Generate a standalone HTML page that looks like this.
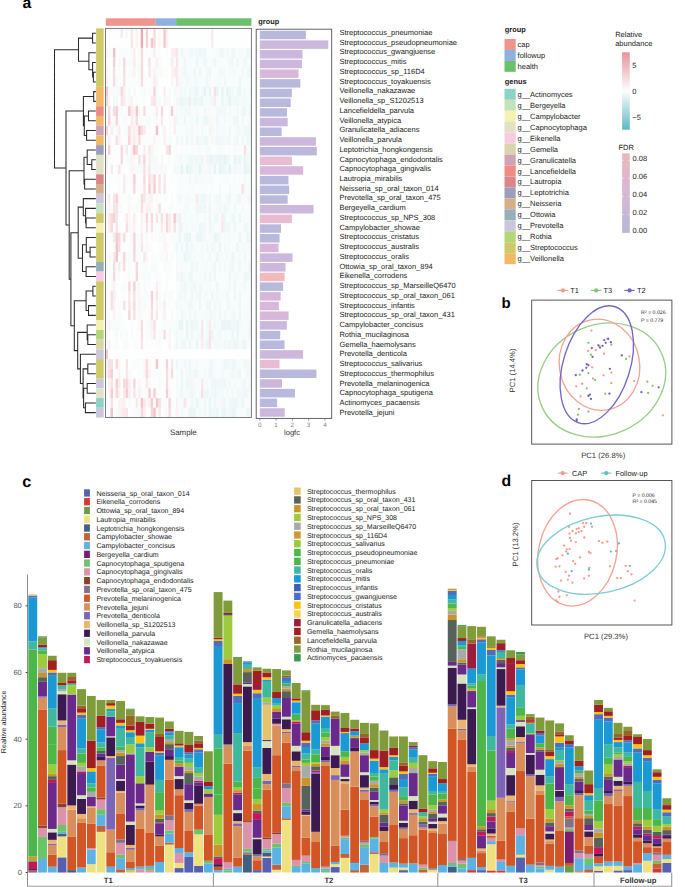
<!DOCTYPE html>
<html><head><meta charset="utf-8"><style>
html,body{margin:0;padding:0;background:#fff;}
svg{display:block;font-family:"Liberation Sans", sans-serif;text-rendering:geometricPrecision;-webkit-font-smoothing:antialiased;}
</style></head><body>
<svg width="685" height="887" viewBox="0 0 685 887" shape-rendering="auto">
<rect x="0" y="0" width="685" height="887" fill="#fff"/>
<text x="22.60" y="8.40" font-size="15.8" text-anchor="start" fill="#000" font-weight="bold" >a</text>
<text x="501.60" y="307.80" font-size="15.0" text-anchor="start" fill="#000" font-weight="bold" >b</text>
<text x="22.30" y="486.80" font-size="16.2" text-anchor="start" fill="#000" font-weight="bold" >c</text>
<text x="501.40" y="486.10" font-size="15.8" text-anchor="start" fill="#000" font-weight="bold" >d</text>
<rect x="96.10" y="28.40" width="7.60" height="58.37" fill="#cfca68" />
<rect x="96.10" y="86.77" width="7.60" height="19.46" fill="#f1b866" />
<rect x="96.10" y="106.22" width="7.60" height="9.73" fill="#f08a82" />
<rect x="96.10" y="115.95" width="7.60" height="9.73" fill="#f1b866" />
<rect x="96.10" y="125.68" width="7.60" height="9.73" fill="#cfa2b9" />
<rect x="96.10" y="135.40" width="7.60" height="9.73" fill="#f1b866" />
<rect x="96.10" y="145.13" width="7.60" height="9.73" fill="#9d9dbd" />
<rect x="96.10" y="154.86" width="7.60" height="19.46" fill="#e2e1c6" />
<rect x="96.10" y="174.31" width="7.60" height="9.73" fill="#dc868a" />
<rect x="96.10" y="184.04" width="7.60" height="9.73" fill="#d5af87" />
<rect x="96.10" y="193.77" width="7.60" height="9.73" fill="#cac6db" />
<rect x="96.10" y="203.50" width="7.60" height="9.73" fill="#c3e3bf" />
<rect x="96.10" y="213.22" width="7.60" height="9.73" fill="#cfca68" />
<rect x="96.10" y="222.95" width="7.60" height="9.73" fill="#f4f1b1" />
<rect x="96.10" y="232.68" width="7.60" height="29.18" fill="#cfca68" />
<rect x="96.10" y="261.86" width="7.60" height="9.73" fill="#94b0bc" />
<rect x="96.10" y="271.59" width="7.60" height="9.73" fill="#f8cbe0" />
<rect x="96.10" y="281.31" width="7.60" height="38.91" fill="#cfca68" />
<rect x="96.10" y="320.23" width="7.60" height="9.73" fill="#f4f1b1" />
<rect x="96.10" y="329.95" width="7.60" height="9.73" fill="#b2d776" />
<rect x="96.10" y="339.68" width="7.60" height="9.73" fill="#d9d5aa" />
<rect x="96.10" y="349.41" width="7.60" height="9.73" fill="#cac6db" />
<rect x="96.10" y="359.13" width="7.60" height="19.46" fill="#cfca68" />
<rect x="96.10" y="378.59" width="7.60" height="9.73" fill="#cac6db" />
<rect x="96.10" y="388.32" width="7.60" height="9.73" fill="#e2e1c6" />
<rect x="96.10" y="398.05" width="7.60" height="9.73" fill="#8cd2c6" />
<rect x="96.10" y="407.77" width="7.60" height="9.73" fill="#cac6db" />
<rect x="105.80" y="18.30" width="50.00" height="7.50" fill="#f0958c" />
<rect x="155.80" y="18.30" width="20.30" height="7.50" fill="#8eb1e1" />
<rect x="176.10" y="18.30" width="75.30" height="7.50" fill="#6cc06b" />
<rect x="105.50" y="28.40" width="2.58" height="9.79" fill="#fefefe"/>
<rect x="108.02" y="28.40" width="2.58" height="9.79" fill="#fefefe"/>
<rect x="110.53" y="28.40" width="2.58" height="9.79" fill="#fefefe"/>
<rect x="113.05" y="28.40" width="2.58" height="9.79" fill="#fefefe"/>
<rect x="115.56" y="28.40" width="2.58" height="9.79" fill="#fefefe"/>
<rect x="118.08" y="28.40" width="2.58" height="9.79" fill="#fefefe"/>
<rect x="120.59" y="28.40" width="2.58" height="9.79" fill="#faeaec"/>
<rect x="123.11" y="28.40" width="2.58" height="9.79" fill="#fefefe"/>
<rect x="125.62" y="28.40" width="2.58" height="9.79" fill="#fcf6f6"/>
<rect x="128.14" y="28.40" width="2.58" height="9.79" fill="#fefefe"/>
<rect x="130.66" y="28.40" width="2.58" height="9.79" fill="#f9e7e9"/>
<rect x="133.17" y="28.40" width="2.58" height="9.79" fill="#fefefe"/>
<rect x="135.69" y="28.40" width="2.58" height="9.79" fill="#fcf3f4"/>
<rect x="138.20" y="28.40" width="2.58" height="9.79" fill="#fefefe"/>
<rect x="140.72" y="28.40" width="2.58" height="9.79" fill="#eca7af"/>
<rect x="143.23" y="28.40" width="2.58" height="9.79" fill="#fefefe"/>
<rect x="145.75" y="28.40" width="2.58" height="9.79" fill="#f5d0d4"/>
<rect x="148.26" y="28.40" width="2.58" height="9.79" fill="#fefefe"/>
<rect x="150.78" y="28.40" width="2.58" height="9.79" fill="#fefefe"/>
<rect x="153.29" y="28.40" width="2.58" height="9.79" fill="#f7dbde"/>
<rect x="155.81" y="28.40" width="2.58" height="9.79" fill="#fefefe"/>
<rect x="158.33" y="28.40" width="2.58" height="9.79" fill="#fcf6f7"/>
<rect x="160.84" y="28.40" width="2.58" height="9.79" fill="#fefefe"/>
<rect x="163.36" y="28.40" width="2.58" height="9.79" fill="#f4ccd1"/>
<rect x="165.87" y="28.40" width="2.58" height="9.79" fill="#fcf2f3"/>
<rect x="168.39" y="28.40" width="2.58" height="9.79" fill="#fefefe"/>
<rect x="170.90" y="28.40" width="2.58" height="9.79" fill="#fefefe"/>
<rect x="173.42" y="28.40" width="2.58" height="9.79" fill="#fefefe"/>
<rect x="175.93" y="28.40" width="2.58" height="9.79" fill="#fefefe"/>
<rect x="178.45" y="28.40" width="2.58" height="9.79" fill="#fdfefe"/>
<rect x="180.97" y="28.40" width="2.58" height="9.79" fill="#fdfefe"/>
<rect x="183.48" y="28.40" width="2.58" height="9.79" fill="#fdfefe"/>
<rect x="186.00" y="28.40" width="2.58" height="9.79" fill="#fefefe"/>
<rect x="188.51" y="28.40" width="2.58" height="9.79" fill="#fefefe"/>
<rect x="191.03" y="28.40" width="2.58" height="9.79" fill="#fdfefe"/>
<rect x="193.54" y="28.40" width="2.58" height="9.79" fill="#fdfefe"/>
<rect x="196.06" y="28.40" width="2.58" height="9.79" fill="#fdfefe"/>
<rect x="198.57" y="28.40" width="2.58" height="9.79" fill="#fdfefe"/>
<rect x="201.09" y="28.40" width="2.58" height="9.79" fill="#fdfefe"/>
<rect x="203.61" y="28.40" width="2.58" height="9.79" fill="#fdfefe"/>
<rect x="206.12" y="28.40" width="2.58" height="9.79" fill="#fdfefe"/>
<rect x="208.64" y="28.40" width="2.58" height="9.79" fill="#fefefe"/>
<rect x="211.15" y="28.40" width="2.58" height="9.79" fill="#fae9eb"/>
<rect x="213.67" y="28.40" width="2.58" height="9.79" fill="#fefefe"/>
<rect x="216.18" y="28.40" width="2.58" height="9.79" fill="#fdfefe"/>
<rect x="218.70" y="28.40" width="2.58" height="9.79" fill="#fdfefe"/>
<rect x="221.21" y="28.40" width="2.58" height="9.79" fill="#fefefe"/>
<rect x="223.73" y="28.40" width="2.58" height="9.79" fill="#fefefe"/>
<rect x="226.24" y="28.40" width="2.58" height="9.79" fill="#fdfefe"/>
<rect x="228.76" y="28.40" width="2.58" height="9.79" fill="#fdfefe"/>
<rect x="231.28" y="28.40" width="2.58" height="9.79" fill="#fefefe"/>
<rect x="233.79" y="28.40" width="2.58" height="9.79" fill="#fdfefe"/>
<rect x="236.31" y="28.40" width="2.58" height="9.79" fill="#fdfefe"/>
<rect x="238.82" y="28.40" width="2.58" height="9.79" fill="#fefefe"/>
<rect x="241.34" y="28.40" width="2.58" height="9.79" fill="#fefefe"/>
<rect x="243.85" y="28.40" width="2.58" height="9.79" fill="#fdfefe"/>
<rect x="246.37" y="28.40" width="2.58" height="9.79" fill="#fdfefe"/>
<rect x="248.88" y="28.40" width="2.58" height="9.79" fill="#fefefe"/>
<rect x="105.50" y="38.13" width="2.58" height="9.79" fill="#fefefe"/>
<rect x="108.02" y="38.13" width="2.58" height="9.79" fill="#fefefe"/>
<rect x="110.53" y="38.13" width="2.58" height="9.79" fill="#fefefe"/>
<rect x="113.05" y="38.13" width="2.58" height="9.79" fill="#fefefe"/>
<rect x="115.56" y="38.13" width="2.58" height="9.79" fill="#fefefe"/>
<rect x="118.08" y="38.13" width="2.58" height="9.79" fill="#fefefe"/>
<rect x="120.59" y="38.13" width="2.58" height="9.79" fill="#fefefe"/>
<rect x="123.11" y="38.13" width="2.58" height="9.79" fill="#fefefe"/>
<rect x="125.62" y="38.13" width="2.58" height="9.79" fill="#fefefe"/>
<rect x="128.14" y="38.13" width="2.58" height="9.79" fill="#fefefe"/>
<rect x="130.66" y="38.13" width="2.58" height="9.79" fill="#f9e6e8"/>
<rect x="133.17" y="38.13" width="2.58" height="9.79" fill="#fefefe"/>
<rect x="135.69" y="38.13" width="2.58" height="9.79" fill="#fcf3f3"/>
<rect x="138.20" y="38.13" width="2.58" height="9.79" fill="#fefefe"/>
<rect x="140.72" y="38.13" width="2.58" height="9.79" fill="#eca7af"/>
<rect x="143.23" y="38.13" width="2.58" height="9.79" fill="#fefefe"/>
<rect x="145.75" y="38.13" width="2.58" height="9.79" fill="#f5d1d5"/>
<rect x="148.26" y="38.13" width="2.58" height="9.79" fill="#fefefe"/>
<rect x="150.78" y="38.13" width="2.58" height="9.79" fill="#f2c5ca"/>
<rect x="153.29" y="38.13" width="2.58" height="9.79" fill="#f6d9dc"/>
<rect x="155.81" y="38.13" width="2.58" height="9.79" fill="#fefefe"/>
<rect x="158.33" y="38.13" width="2.58" height="9.79" fill="#fcf4f4"/>
<rect x="160.84" y="38.13" width="2.58" height="9.79" fill="#fefefe"/>
<rect x="163.36" y="38.13" width="2.58" height="9.79" fill="#f3cace"/>
<rect x="165.87" y="38.13" width="2.58" height="9.79" fill="#fbf1f2"/>
<rect x="168.39" y="38.13" width="2.58" height="9.79" fill="#fefefe"/>
<rect x="170.90" y="38.13" width="2.58" height="9.79" fill="#fefefe"/>
<rect x="173.42" y="38.13" width="2.58" height="9.79" fill="#fefefe"/>
<rect x="175.93" y="38.13" width="2.58" height="9.79" fill="#fdfefe"/>
<rect x="178.45" y="38.13" width="2.58" height="9.79" fill="#fefefe"/>
<rect x="180.97" y="38.13" width="2.58" height="9.79" fill="#fdfefe"/>
<rect x="183.48" y="38.13" width="2.58" height="9.79" fill="#fdfefe"/>
<rect x="186.00" y="38.13" width="2.58" height="9.79" fill="#fdfefe"/>
<rect x="188.51" y="38.13" width="2.58" height="9.79" fill="#fdfefe"/>
<rect x="191.03" y="38.13" width="2.58" height="9.79" fill="#fdfefe"/>
<rect x="193.54" y="38.13" width="2.58" height="9.79" fill="#fdfefe"/>
<rect x="196.06" y="38.13" width="2.58" height="9.79" fill="#fdfefe"/>
<rect x="198.57" y="38.13" width="2.58" height="9.79" fill="#fdfefe"/>
<rect x="201.09" y="38.13" width="2.58" height="9.79" fill="#fdfefe"/>
<rect x="203.61" y="38.13" width="2.58" height="9.79" fill="#fdfefe"/>
<rect x="206.12" y="38.13" width="2.58" height="9.79" fill="#fdfefe"/>
<rect x="208.64" y="38.13" width="2.58" height="9.79" fill="#fdfefe"/>
<rect x="211.15" y="38.13" width="2.58" height="9.79" fill="#faecee"/>
<rect x="213.67" y="38.13" width="2.58" height="9.79" fill="#fdfefe"/>
<rect x="216.18" y="38.13" width="2.58" height="9.79" fill="#fdfefe"/>
<rect x="218.70" y="38.13" width="2.58" height="9.79" fill="#fdfefe"/>
<rect x="221.21" y="38.13" width="2.58" height="9.79" fill="#fefefe"/>
<rect x="223.73" y="38.13" width="2.58" height="9.79" fill="#fdfefe"/>
<rect x="226.24" y="38.13" width="2.58" height="9.79" fill="#fdfefe"/>
<rect x="228.76" y="38.13" width="2.58" height="9.79" fill="#fdfefe"/>
<rect x="231.28" y="38.13" width="2.58" height="9.79" fill="#fdfefe"/>
<rect x="233.79" y="38.13" width="2.58" height="9.79" fill="#fdfefe"/>
<rect x="236.31" y="38.13" width="2.58" height="9.79" fill="#fefefe"/>
<rect x="238.82" y="38.13" width="2.58" height="9.79" fill="#fdfefe"/>
<rect x="241.34" y="38.13" width="2.58" height="9.79" fill="#fefefe"/>
<rect x="243.85" y="38.13" width="2.58" height="9.79" fill="#fefefe"/>
<rect x="246.37" y="38.13" width="2.58" height="9.79" fill="#fdfefe"/>
<rect x="248.88" y="38.13" width="2.58" height="9.79" fill="#fdfefe"/>
<rect x="105.50" y="47.86" width="2.58" height="9.79" fill="#fcf6f6"/>
<rect x="108.02" y="47.86" width="2.58" height="9.79" fill="#f7fbfb"/>
<rect x="110.53" y="47.86" width="2.58" height="9.79" fill="#f9fcfc"/>
<rect x="113.05" y="47.86" width="2.58" height="9.79" fill="#f2c1c6"/>
<rect x="115.56" y="47.86" width="2.58" height="9.79" fill="#f9fcfc"/>
<rect x="118.08" y="47.86" width="2.58" height="9.79" fill="#fbfdfd"/>
<rect x="120.59" y="47.86" width="2.58" height="9.79" fill="#f9fcfc"/>
<rect x="123.11" y="47.86" width="2.58" height="9.79" fill="#f9fcfc"/>
<rect x="125.62" y="47.86" width="2.58" height="9.79" fill="#f9fcfc"/>
<rect x="128.14" y="47.86" width="2.58" height="9.79" fill="#fdfdfd"/>
<rect x="130.66" y="47.86" width="2.58" height="9.79" fill="#f7fbfb"/>
<rect x="133.17" y="47.86" width="2.58" height="9.79" fill="#fbeef0"/>
<rect x="135.69" y="47.86" width="2.58" height="9.79" fill="#fbfdfd"/>
<rect x="138.20" y="47.86" width="2.58" height="9.79" fill="#f9fcfc"/>
<rect x="140.72" y="47.86" width="2.58" height="9.79" fill="#f7dbde"/>
<rect x="143.23" y="47.86" width="2.58" height="9.79" fill="#fbfdfd"/>
<rect x="145.75" y="47.86" width="2.58" height="9.79" fill="#f9fcfc"/>
<rect x="148.26" y="47.86" width="2.58" height="9.79" fill="#fdfdfd"/>
<rect x="150.78" y="47.86" width="2.58" height="9.79" fill="#f9fcfc"/>
<rect x="153.29" y="47.86" width="2.58" height="9.79" fill="#fbeff0"/>
<rect x="155.81" y="47.86" width="2.58" height="9.79" fill="#fdfdfd"/>
<rect x="158.33" y="47.86" width="2.58" height="9.79" fill="#fbfdfd"/>
<rect x="160.84" y="47.86" width="2.58" height="9.79" fill="#fefefe"/>
<rect x="163.36" y="47.86" width="2.58" height="9.79" fill="#fdfdfd"/>
<rect x="165.87" y="47.86" width="2.58" height="9.79" fill="#f9fcfc"/>
<rect x="168.39" y="47.86" width="2.58" height="9.79" fill="#fefefe"/>
<rect x="170.90" y="47.86" width="2.58" height="9.79" fill="#fbf0f1"/>
<rect x="173.42" y="47.86" width="2.58" height="9.79" fill="#faeced"/>
<rect x="175.93" y="47.86" width="2.58" height="9.79" fill="#f9e6e8"/>
<rect x="178.45" y="47.86" width="2.58" height="9.79" fill="#f7fbfb"/>
<rect x="180.97" y="47.86" width="2.58" height="9.79" fill="#edf7f7"/>
<rect x="183.48" y="47.86" width="2.58" height="9.79" fill="#f6fbfb"/>
<rect x="186.00" y="47.86" width="2.58" height="9.79" fill="#f6fbfb"/>
<rect x="188.51" y="47.86" width="2.58" height="9.79" fill="#f4fafa"/>
<rect x="191.03" y="47.86" width="2.58" height="9.79" fill="#f1f8f9"/>
<rect x="193.54" y="47.86" width="2.58" height="9.79" fill="#f4fafa"/>
<rect x="196.06" y="47.86" width="2.58" height="9.79" fill="#f1f8f9"/>
<rect x="198.57" y="47.86" width="2.58" height="9.79" fill="#edf7f7"/>
<rect x="201.09" y="47.86" width="2.58" height="9.79" fill="#f1f8f9"/>
<rect x="203.61" y="47.86" width="2.58" height="9.79" fill="#edf7f7"/>
<rect x="206.12" y="47.86" width="2.58" height="9.79" fill="#f9fcfc"/>
<rect x="208.64" y="47.86" width="2.58" height="9.79" fill="#f9fcfc"/>
<rect x="211.15" y="47.86" width="2.58" height="9.79" fill="#f7fbfb"/>
<rect x="213.67" y="47.86" width="2.58" height="9.79" fill="#f6fbfb"/>
<rect x="216.18" y="47.86" width="2.58" height="9.79" fill="#f6fbfb"/>
<rect x="218.70" y="47.86" width="2.58" height="9.79" fill="#f1f8f9"/>
<rect x="221.21" y="47.86" width="2.58" height="9.79" fill="#edf7f7"/>
<rect x="223.73" y="47.86" width="2.58" height="9.79" fill="#f6fbfb"/>
<rect x="226.24" y="47.86" width="2.58" height="9.79" fill="#f1f8f9"/>
<rect x="228.76" y="47.86" width="2.58" height="9.79" fill="#f6fbfb"/>
<rect x="231.28" y="47.86" width="2.58" height="9.79" fill="#edf7f7"/>
<rect x="233.79" y="47.86" width="2.58" height="9.79" fill="#f1f8f9"/>
<rect x="236.31" y="47.86" width="2.58" height="9.79" fill="#f9fcfc"/>
<rect x="238.82" y="47.86" width="2.58" height="9.79" fill="#f4fafa"/>
<rect x="241.34" y="47.86" width="2.58" height="9.79" fill="#f6fbfb"/>
<rect x="243.85" y="47.86" width="2.58" height="9.79" fill="#f6fbfb"/>
<rect x="246.37" y="47.86" width="2.58" height="9.79" fill="#edf7f7"/>
<rect x="248.88" y="47.86" width="2.58" height="9.79" fill="#edf7f7"/>
<rect x="105.50" y="57.58" width="2.58" height="9.79" fill="#fdfdfd"/>
<rect x="108.02" y="57.58" width="2.58" height="9.79" fill="#fefefe"/>
<rect x="110.53" y="57.58" width="2.58" height="9.79" fill="#fefefe"/>
<rect x="113.05" y="57.58" width="2.58" height="9.79" fill="#f5d2d6"/>
<rect x="115.56" y="57.58" width="2.58" height="9.79" fill="#fefefe"/>
<rect x="118.08" y="57.58" width="2.58" height="9.79" fill="#f7fbfb"/>
<rect x="120.59" y="57.58" width="2.58" height="9.79" fill="#fdfdfd"/>
<rect x="123.11" y="57.58" width="2.58" height="9.79" fill="#f6d9dc"/>
<rect x="125.62" y="57.58" width="2.58" height="9.79" fill="#f9fcfc"/>
<rect x="128.14" y="57.58" width="2.58" height="9.79" fill="#f7fbfb"/>
<rect x="130.66" y="57.58" width="2.58" height="9.79" fill="#f7fbfb"/>
<rect x="133.17" y="57.58" width="2.58" height="9.79" fill="#faecee"/>
<rect x="135.69" y="57.58" width="2.58" height="9.79" fill="#f9fcfc"/>
<rect x="138.20" y="57.58" width="2.58" height="9.79" fill="#f9fcfc"/>
<rect x="140.72" y="57.58" width="2.58" height="9.79" fill="#f7dbde"/>
<rect x="143.23" y="57.58" width="2.58" height="9.79" fill="#fdfdfd"/>
<rect x="145.75" y="57.58" width="2.58" height="9.79" fill="#fbfdfd"/>
<rect x="148.26" y="57.58" width="2.58" height="9.79" fill="#f8e2e4"/>
<rect x="150.78" y="57.58" width="2.58" height="9.79" fill="#fbfdfd"/>
<rect x="153.29" y="57.58" width="2.58" height="9.79" fill="#f9fcfc"/>
<rect x="155.81" y="57.58" width="2.58" height="9.79" fill="#fbeff0"/>
<rect x="158.33" y="57.58" width="2.58" height="9.79" fill="#f9fcfc"/>
<rect x="160.84" y="57.58" width="2.58" height="9.79" fill="#fbfdfd"/>
<rect x="163.36" y="57.58" width="2.58" height="9.79" fill="#fdfdfd"/>
<rect x="165.87" y="57.58" width="2.58" height="9.79" fill="#fdfdfd"/>
<rect x="168.39" y="57.58" width="2.58" height="9.79" fill="#f9fcfc"/>
<rect x="170.90" y="57.58" width="2.58" height="9.79" fill="#faedee"/>
<rect x="173.42" y="57.58" width="2.58" height="9.79" fill="#f7fbfb"/>
<rect x="175.93" y="57.58" width="2.58" height="9.79" fill="#f9e4e7"/>
<rect x="178.45" y="57.58" width="2.58" height="9.79" fill="#f9fcfc"/>
<rect x="180.97" y="57.58" width="2.58" height="9.79" fill="#f9fcfc"/>
<rect x="183.48" y="57.58" width="2.58" height="9.79" fill="#edf7f7"/>
<rect x="186.00" y="57.58" width="2.58" height="9.79" fill="#f7fbfb"/>
<rect x="188.51" y="57.58" width="2.58" height="9.79" fill="#f6fbfb"/>
<rect x="191.03" y="57.58" width="2.58" height="9.79" fill="#f9fcfc"/>
<rect x="193.54" y="57.58" width="2.58" height="9.79" fill="#f9fcfc"/>
<rect x="196.06" y="57.58" width="2.58" height="9.79" fill="#edf7f7"/>
<rect x="198.57" y="57.58" width="2.58" height="9.79" fill="#f9fcfc"/>
<rect x="201.09" y="57.58" width="2.58" height="9.79" fill="#f6fbfb"/>
<rect x="203.61" y="57.58" width="2.58" height="9.79" fill="#edf7f7"/>
<rect x="206.12" y="57.58" width="2.58" height="9.79" fill="#f4fafa"/>
<rect x="208.64" y="57.58" width="2.58" height="9.79" fill="#f9fcfc"/>
<rect x="211.15" y="57.58" width="2.58" height="9.79" fill="#f4fafa"/>
<rect x="213.67" y="57.58" width="2.58" height="9.79" fill="#edf7f7"/>
<rect x="216.18" y="57.58" width="2.58" height="9.79" fill="#f4fafa"/>
<rect x="218.70" y="57.58" width="2.58" height="9.79" fill="#f9fcfc"/>
<rect x="221.21" y="57.58" width="2.58" height="9.79" fill="#f9fcfc"/>
<rect x="223.73" y="57.58" width="2.58" height="9.79" fill="#f9fcfc"/>
<rect x="226.24" y="57.58" width="2.58" height="9.79" fill="#f7fbfb"/>
<rect x="228.76" y="57.58" width="2.58" height="9.79" fill="#f1f8f9"/>
<rect x="231.28" y="57.58" width="2.58" height="9.79" fill="#edf7f7"/>
<rect x="233.79" y="57.58" width="2.58" height="9.79" fill="#f9fcfc"/>
<rect x="236.31" y="57.58" width="2.58" height="9.79" fill="#edf7f7"/>
<rect x="238.82" y="57.58" width="2.58" height="9.79" fill="#f7fbfb"/>
<rect x="241.34" y="57.58" width="2.58" height="9.79" fill="#f6fbfb"/>
<rect x="243.85" y="57.58" width="2.58" height="9.79" fill="#edf7f7"/>
<rect x="246.37" y="57.58" width="2.58" height="9.79" fill="#f4fafa"/>
<rect x="248.88" y="57.58" width="2.58" height="9.79" fill="#f7fbfb"/>
<rect x="105.50" y="67.31" width="2.58" height="9.79" fill="#fdf7f7"/>
<rect x="108.02" y="67.31" width="2.58" height="9.79" fill="#fdfdfd"/>
<rect x="110.53" y="67.31" width="2.58" height="9.79" fill="#fefefe"/>
<rect x="113.05" y="67.31" width="2.58" height="9.79" fill="#f8dfe2"/>
<rect x="115.56" y="67.31" width="2.58" height="9.79" fill="#fefefe"/>
<rect x="118.08" y="67.31" width="2.58" height="9.79" fill="#f9fcfc"/>
<rect x="120.59" y="67.31" width="2.58" height="9.79" fill="#fefefe"/>
<rect x="123.11" y="67.31" width="2.58" height="9.79" fill="#f7dee0"/>
<rect x="125.62" y="67.31" width="2.58" height="9.79" fill="#fefefe"/>
<rect x="128.14" y="67.31" width="2.58" height="9.79" fill="#f9fcfc"/>
<rect x="130.66" y="67.31" width="2.58" height="9.79" fill="#f7fbfb"/>
<rect x="133.17" y="67.31" width="2.58" height="9.79" fill="#fbf1f2"/>
<rect x="135.69" y="67.31" width="2.58" height="9.79" fill="#fbfdfd"/>
<rect x="138.20" y="67.31" width="2.58" height="9.79" fill="#f7fbfb"/>
<rect x="140.72" y="67.31" width="2.58" height="9.79" fill="#f7dbde"/>
<rect x="143.23" y="67.31" width="2.58" height="9.79" fill="#fbfdfd"/>
<rect x="145.75" y="67.31" width="2.58" height="9.79" fill="#fefefe"/>
<rect x="148.26" y="67.31" width="2.58" height="9.79" fill="#fae9eb"/>
<rect x="150.78" y="67.31" width="2.58" height="9.79" fill="#f7fbfb"/>
<rect x="153.29" y="67.31" width="2.58" height="9.79" fill="#fbf1f2"/>
<rect x="155.81" y="67.31" width="2.58" height="9.79" fill="#f7fbfb"/>
<rect x="158.33" y="67.31" width="2.58" height="9.79" fill="#f7fbfb"/>
<rect x="160.84" y="67.31" width="2.58" height="9.79" fill="#f7fbfb"/>
<rect x="163.36" y="67.31" width="2.58" height="9.79" fill="#fdfdfd"/>
<rect x="165.87" y="67.31" width="2.58" height="9.79" fill="#fbfdfd"/>
<rect x="168.39" y="67.31" width="2.58" height="9.79" fill="#fefefe"/>
<rect x="170.90" y="67.31" width="2.58" height="9.79" fill="#fcf3f4"/>
<rect x="173.42" y="67.31" width="2.58" height="9.79" fill="#faebed"/>
<rect x="175.93" y="67.31" width="2.58" height="9.79" fill="#faeaec"/>
<rect x="178.45" y="67.31" width="2.58" height="9.79" fill="#f6fbfb"/>
<rect x="180.97" y="67.31" width="2.58" height="9.79" fill="#f4fafa"/>
<rect x="183.48" y="67.31" width="2.58" height="9.79" fill="#edf7f7"/>
<rect x="186.00" y="67.31" width="2.58" height="9.79" fill="#f4fafa"/>
<rect x="188.51" y="67.31" width="2.58" height="9.79" fill="#f7fbfb"/>
<rect x="191.03" y="67.31" width="2.58" height="9.79" fill="#f7fbfb"/>
<rect x="193.54" y="67.31" width="2.58" height="9.79" fill="#edf7f7"/>
<rect x="196.06" y="67.31" width="2.58" height="9.79" fill="#f9fcfc"/>
<rect x="198.57" y="67.31" width="2.58" height="9.79" fill="#edf7f7"/>
<rect x="201.09" y="67.31" width="2.58" height="9.79" fill="#f6fbfb"/>
<rect x="203.61" y="67.31" width="2.58" height="9.79" fill="#f9fcfc"/>
<rect x="206.12" y="67.31" width="2.58" height="9.79" fill="#f1f8f9"/>
<rect x="208.64" y="67.31" width="2.58" height="9.79" fill="#edf7f7"/>
<rect x="211.15" y="67.31" width="2.58" height="9.79" fill="#f9fcfc"/>
<rect x="213.67" y="67.31" width="2.58" height="9.79" fill="#f9fcfc"/>
<rect x="216.18" y="67.31" width="2.58" height="9.79" fill="#f9fcfc"/>
<rect x="218.70" y="67.31" width="2.58" height="9.79" fill="#f1f8f9"/>
<rect x="221.21" y="67.31" width="2.58" height="9.79" fill="#f1f8f9"/>
<rect x="223.73" y="67.31" width="2.58" height="9.79" fill="#f4fafa"/>
<rect x="226.24" y="67.31" width="2.58" height="9.79" fill="#f7fbfb"/>
<rect x="228.76" y="67.31" width="2.58" height="9.79" fill="#f4fafa"/>
<rect x="231.28" y="67.31" width="2.58" height="9.79" fill="#f4fafa"/>
<rect x="233.79" y="67.31" width="2.58" height="9.79" fill="#f4fafa"/>
<rect x="236.31" y="67.31" width="2.58" height="9.79" fill="#f6fbfb"/>
<rect x="238.82" y="67.31" width="2.58" height="9.79" fill="#f9fcfc"/>
<rect x="241.34" y="67.31" width="2.58" height="9.79" fill="#f1f8f9"/>
<rect x="243.85" y="67.31" width="2.58" height="9.79" fill="#f9fcfc"/>
<rect x="246.37" y="67.31" width="2.58" height="9.79" fill="#f1f8f9"/>
<rect x="248.88" y="67.31" width="2.58" height="9.79" fill="#edf7f7"/>
<rect x="105.50" y="77.04" width="2.58" height="9.79" fill="#fcf2f3"/>
<rect x="108.02" y="77.04" width="2.58" height="9.79" fill="#f9fcfc"/>
<rect x="110.53" y="77.04" width="2.58" height="9.79" fill="#fdfdfd"/>
<rect x="113.05" y="77.04" width="2.58" height="9.79" fill="#f7dee1"/>
<rect x="115.56" y="77.04" width="2.58" height="9.79" fill="#f9fcfc"/>
<rect x="118.08" y="77.04" width="2.58" height="9.79" fill="#fdfdfd"/>
<rect x="120.59" y="77.04" width="2.58" height="9.79" fill="#fdfdfd"/>
<rect x="123.11" y="77.04" width="2.58" height="9.79" fill="#f8e2e4"/>
<rect x="125.62" y="77.04" width="2.58" height="9.79" fill="#fdfdfd"/>
<rect x="128.14" y="77.04" width="2.58" height="9.79" fill="#fbfdfd"/>
<rect x="130.66" y="77.04" width="2.58" height="9.79" fill="#fbfdfd"/>
<rect x="133.17" y="77.04" width="2.58" height="9.79" fill="#fbfdfd"/>
<rect x="135.69" y="77.04" width="2.58" height="9.79" fill="#f9fcfc"/>
<rect x="138.20" y="77.04" width="2.58" height="9.79" fill="#f9fcfc"/>
<rect x="140.72" y="77.04" width="2.58" height="9.79" fill="#f7dbde"/>
<rect x="143.23" y="77.04" width="2.58" height="9.79" fill="#fbfdfd"/>
<rect x="145.75" y="77.04" width="2.58" height="9.79" fill="#f9fcfc"/>
<rect x="148.26" y="77.04" width="2.58" height="9.79" fill="#fbfdfd"/>
<rect x="150.78" y="77.04" width="2.58" height="9.79" fill="#f7fbfb"/>
<rect x="153.29" y="77.04" width="2.58" height="9.79" fill="#faecee"/>
<rect x="155.81" y="77.04" width="2.58" height="9.79" fill="#fcf4f4"/>
<rect x="158.33" y="77.04" width="2.58" height="9.79" fill="#fefefe"/>
<rect x="160.84" y="77.04" width="2.58" height="9.79" fill="#fefefe"/>
<rect x="163.36" y="77.04" width="2.58" height="9.79" fill="#fefefe"/>
<rect x="165.87" y="77.04" width="2.58" height="9.79" fill="#fefefe"/>
<rect x="168.39" y="77.04" width="2.58" height="9.79" fill="#fdfdfd"/>
<rect x="170.90" y="77.04" width="2.58" height="9.79" fill="#fcf5f6"/>
<rect x="173.42" y="77.04" width="2.58" height="9.79" fill="#f9fcfc"/>
<rect x="175.93" y="77.04" width="2.58" height="9.79" fill="#fae8ea"/>
<rect x="178.45" y="77.04" width="2.58" height="9.79" fill="#f4fafa"/>
<rect x="180.97" y="77.04" width="2.58" height="9.79" fill="#f4fafa"/>
<rect x="183.48" y="77.04" width="2.58" height="9.79" fill="#f6fbfb"/>
<rect x="186.00" y="77.04" width="2.58" height="9.79" fill="#f1f8f9"/>
<rect x="188.51" y="77.04" width="2.58" height="9.79" fill="#f4fafa"/>
<rect x="191.03" y="77.04" width="2.58" height="9.79" fill="#f6fbfb"/>
<rect x="193.54" y="77.04" width="2.58" height="9.79" fill="#f4fafa"/>
<rect x="196.06" y="77.04" width="2.58" height="9.79" fill="#f4fafa"/>
<rect x="198.57" y="77.04" width="2.58" height="9.79" fill="#f9fcfc"/>
<rect x="201.09" y="77.04" width="2.58" height="9.79" fill="#f7fbfb"/>
<rect x="203.61" y="77.04" width="2.58" height="9.79" fill="#f7fbfb"/>
<rect x="206.12" y="77.04" width="2.58" height="9.79" fill="#edf7f7"/>
<rect x="208.64" y="77.04" width="2.58" height="9.79" fill="#f7fbfb"/>
<rect x="211.15" y="77.04" width="2.58" height="9.79" fill="#f9fcfc"/>
<rect x="213.67" y="77.04" width="2.58" height="9.79" fill="#f6fbfb"/>
<rect x="216.18" y="77.04" width="2.58" height="9.79" fill="#f4fafa"/>
<rect x="218.70" y="77.04" width="2.58" height="9.79" fill="#f4fafa"/>
<rect x="221.21" y="77.04" width="2.58" height="9.79" fill="#f7fbfb"/>
<rect x="223.73" y="77.04" width="2.58" height="9.79" fill="#f1f8f9"/>
<rect x="226.24" y="77.04" width="2.58" height="9.79" fill="#f6fbfb"/>
<rect x="228.76" y="77.04" width="2.58" height="9.79" fill="#f9fcfc"/>
<rect x="231.28" y="77.04" width="2.58" height="9.79" fill="#f6fbfb"/>
<rect x="233.79" y="77.04" width="2.58" height="9.79" fill="#f7fbfb"/>
<rect x="236.31" y="77.04" width="2.58" height="9.79" fill="#f6fbfb"/>
<rect x="238.82" y="77.04" width="2.58" height="9.79" fill="#edf7f7"/>
<rect x="241.34" y="77.04" width="2.58" height="9.79" fill="#f7fbfb"/>
<rect x="243.85" y="77.04" width="2.58" height="9.79" fill="#f9fcfc"/>
<rect x="246.37" y="77.04" width="2.58" height="9.79" fill="#f4fafa"/>
<rect x="248.88" y="77.04" width="2.58" height="9.79" fill="#f9fcfc"/>
<rect x="105.50" y="86.77" width="2.58" height="9.79" fill="#f3c9ce"/>
<rect x="108.02" y="86.77" width="2.58" height="9.79" fill="#fcf5f6"/>
<rect x="110.53" y="86.77" width="2.58" height="9.79" fill="#f9fcfc"/>
<rect x="113.05" y="86.77" width="2.58" height="9.79" fill="#f6fbfb"/>
<rect x="115.56" y="86.77" width="2.58" height="9.79" fill="#f6fbfb"/>
<rect x="118.08" y="86.77" width="2.58" height="9.79" fill="#f4fafa"/>
<rect x="120.59" y="86.77" width="2.58" height="9.79" fill="#f6d7da"/>
<rect x="123.11" y="86.77" width="2.58" height="9.79" fill="#fbeef0"/>
<rect x="125.62" y="86.77" width="2.58" height="9.79" fill="#f9fcfc"/>
<rect x="128.14" y="86.77" width="2.58" height="9.79" fill="#f6fbfb"/>
<rect x="130.66" y="86.77" width="2.58" height="9.79" fill="#fcfdfd"/>
<rect x="133.17" y="86.77" width="2.58" height="9.79" fill="#f4fafa"/>
<rect x="135.69" y="86.77" width="2.58" height="9.79" fill="#fefefe"/>
<rect x="138.20" y="86.77" width="2.58" height="9.79" fill="#fcfdfd"/>
<rect x="140.72" y="86.77" width="2.58" height="9.79" fill="#f9fcfc"/>
<rect x="143.23" y="86.77" width="2.58" height="9.79" fill="#f6fbfb"/>
<rect x="145.75" y="86.77" width="2.58" height="9.79" fill="#fefefe"/>
<rect x="148.26" y="86.77" width="2.58" height="9.79" fill="#f9fcfc"/>
<rect x="150.78" y="86.77" width="2.58" height="9.79" fill="#f9fcfc"/>
<rect x="153.29" y="86.77" width="2.58" height="9.79" fill="#f6d6da"/>
<rect x="155.81" y="86.77" width="2.58" height="9.79" fill="#f6fbfb"/>
<rect x="158.33" y="86.77" width="2.58" height="9.79" fill="#fcfdfd"/>
<rect x="160.84" y="86.77" width="2.58" height="9.79" fill="#fefefe"/>
<rect x="163.36" y="86.77" width="2.58" height="9.79" fill="#faecee"/>
<rect x="165.87" y="86.77" width="2.58" height="9.79" fill="#fcfdfd"/>
<rect x="168.39" y="86.77" width="2.58" height="9.79" fill="#f9fcfc"/>
<rect x="170.90" y="86.77" width="2.58" height="9.79" fill="#fefefe"/>
<rect x="173.42" y="86.77" width="2.58" height="9.79" fill="#f6fbfb"/>
<rect x="175.93" y="86.77" width="2.58" height="9.79" fill="#fdf9fa"/>
<rect x="178.45" y="86.77" width="2.58" height="9.79" fill="#f4fafa"/>
<rect x="180.97" y="86.77" width="2.58" height="9.79" fill="#f2f9f9"/>
<rect x="183.48" y="86.77" width="2.58" height="9.79" fill="#f2f9f9"/>
<rect x="186.00" y="86.77" width="2.58" height="9.79" fill="#f6fbfb"/>
<rect x="188.51" y="86.77" width="2.58" height="9.79" fill="#eff8f8"/>
<rect x="191.03" y="86.77" width="2.58" height="9.79" fill="#f2f9f9"/>
<rect x="193.54" y="86.77" width="2.58" height="9.79" fill="#eff8f8"/>
<rect x="196.06" y="86.77" width="2.58" height="9.79" fill="#eaf5f6"/>
<rect x="198.57" y="86.77" width="2.58" height="9.79" fill="#f6fbfb"/>
<rect x="201.09" y="86.77" width="2.58" height="9.79" fill="#f2f9f9"/>
<rect x="203.61" y="86.77" width="2.58" height="9.79" fill="#e5f3f4"/>
<rect x="206.12" y="86.77" width="2.58" height="9.79" fill="#f4fafa"/>
<rect x="208.64" y="86.77" width="2.58" height="9.79" fill="#eaf5f6"/>
<rect x="211.15" y="86.77" width="2.58" height="9.79" fill="#f6fbfb"/>
<rect x="213.67" y="86.77" width="2.58" height="9.79" fill="#f8e1e3"/>
<rect x="216.18" y="86.77" width="2.58" height="9.79" fill="#e5f3f4"/>
<rect x="218.70" y="86.77" width="2.58" height="9.79" fill="#f6fbfb"/>
<rect x="221.21" y="86.77" width="2.58" height="9.79" fill="#e5f3f4"/>
<rect x="223.73" y="86.77" width="2.58" height="9.79" fill="#f6fbfb"/>
<rect x="226.24" y="86.77" width="2.58" height="9.79" fill="#e5f3f4"/>
<rect x="228.76" y="86.77" width="2.58" height="9.79" fill="#eff8f8"/>
<rect x="231.28" y="86.77" width="2.58" height="9.79" fill="#f2f9f9"/>
<rect x="233.79" y="86.77" width="2.58" height="9.79" fill="#f6fbfb"/>
<rect x="236.31" y="86.77" width="2.58" height="9.79" fill="#eff8f8"/>
<rect x="238.82" y="86.77" width="2.58" height="9.79" fill="#eaf5f6"/>
<rect x="241.34" y="86.77" width="2.58" height="9.79" fill="#f4fafa"/>
<rect x="243.85" y="86.77" width="2.58" height="9.79" fill="#f2f9f9"/>
<rect x="246.37" y="86.77" width="2.58" height="9.79" fill="#f6fbfb"/>
<rect x="248.88" y="86.77" width="2.58" height="9.79" fill="#f2f9f9"/>
<rect x="105.50" y="96.49" width="2.58" height="9.79" fill="#f6d8db"/>
<rect x="108.02" y="96.49" width="2.58" height="9.79" fill="#fcf6f7"/>
<rect x="110.53" y="96.49" width="2.58" height="9.79" fill="#fefefe"/>
<rect x="113.05" y="96.49" width="2.58" height="9.79" fill="#f4fafa"/>
<rect x="115.56" y="96.49" width="2.58" height="9.79" fill="#f4fafa"/>
<rect x="118.08" y="96.49" width="2.58" height="9.79" fill="#fefefe"/>
<rect x="120.59" y="96.49" width="2.58" height="9.79" fill="#f9e3e6"/>
<rect x="123.11" y="96.49" width="2.58" height="9.79" fill="#fae8ea"/>
<rect x="125.62" y="96.49" width="2.58" height="9.79" fill="#f9fcfc"/>
<rect x="128.14" y="96.49" width="2.58" height="9.79" fill="#f4fafa"/>
<rect x="130.66" y="96.49" width="2.58" height="9.79" fill="#fbf0f2"/>
<rect x="133.17" y="96.49" width="2.58" height="9.79" fill="#fcfdfd"/>
<rect x="135.69" y="96.49" width="2.58" height="9.79" fill="#f9fcfc"/>
<rect x="138.20" y="96.49" width="2.58" height="9.79" fill="#fcfdfd"/>
<rect x="140.72" y="96.49" width="2.58" height="9.79" fill="#f9fcfc"/>
<rect x="143.23" y="96.49" width="2.58" height="9.79" fill="#f9fcfc"/>
<rect x="145.75" y="96.49" width="2.58" height="9.79" fill="#fefefe"/>
<rect x="148.26" y="96.49" width="2.58" height="9.79" fill="#fcfdfd"/>
<rect x="150.78" y="96.49" width="2.58" height="9.79" fill="#f9e7e9"/>
<rect x="153.29" y="96.49" width="2.58" height="9.79" fill="#f8e2e5"/>
<rect x="155.81" y="96.49" width="2.58" height="9.79" fill="#f4fafa"/>
<rect x="158.33" y="96.49" width="2.58" height="9.79" fill="#f4fafa"/>
<rect x="160.84" y="96.49" width="2.58" height="9.79" fill="#fcfdfd"/>
<rect x="163.36" y="96.49" width="2.58" height="9.79" fill="#fcf4f5"/>
<rect x="165.87" y="96.49" width="2.58" height="9.79" fill="#f6fbfb"/>
<rect x="168.39" y="96.49" width="2.58" height="9.79" fill="#f6fbfb"/>
<rect x="170.90" y="96.49" width="2.58" height="9.79" fill="#fefefe"/>
<rect x="173.42" y="96.49" width="2.58" height="9.79" fill="#f9fcfc"/>
<rect x="175.93" y="96.49" width="2.58" height="9.79" fill="#fcf5f6"/>
<rect x="178.45" y="96.49" width="2.58" height="9.79" fill="#eff8f8"/>
<rect x="180.97" y="96.49" width="2.58" height="9.79" fill="#eaf5f6"/>
<rect x="183.48" y="96.49" width="2.58" height="9.79" fill="#eff8f8"/>
<rect x="186.00" y="96.49" width="2.58" height="9.79" fill="#fcf3f4"/>
<rect x="188.51" y="96.49" width="2.58" height="9.79" fill="#e5f3f4"/>
<rect x="191.03" y="96.49" width="2.58" height="9.79" fill="#f4fafa"/>
<rect x="193.54" y="96.49" width="2.58" height="9.79" fill="#eaf5f6"/>
<rect x="196.06" y="96.49" width="2.58" height="9.79" fill="#eff8f8"/>
<rect x="198.57" y="96.49" width="2.58" height="9.79" fill="#eff8f8"/>
<rect x="201.09" y="96.49" width="2.58" height="9.79" fill="#eaf5f6"/>
<rect x="203.61" y="96.49" width="2.58" height="9.79" fill="#f6fbfb"/>
<rect x="206.12" y="96.49" width="2.58" height="9.79" fill="#f6fbfb"/>
<rect x="208.64" y="96.49" width="2.58" height="9.79" fill="#f4fafa"/>
<rect x="211.15" y="96.49" width="2.58" height="9.79" fill="#eff8f8"/>
<rect x="213.67" y="96.49" width="2.58" height="9.79" fill="#faebec"/>
<rect x="216.18" y="96.49" width="2.58" height="9.79" fill="#f6fbfb"/>
<rect x="218.70" y="96.49" width="2.58" height="9.79" fill="#f6fbfb"/>
<rect x="221.21" y="96.49" width="2.58" height="9.79" fill="#eaf5f6"/>
<rect x="223.73" y="96.49" width="2.58" height="9.79" fill="#f4fafa"/>
<rect x="226.24" y="96.49" width="2.58" height="9.79" fill="#eff8f8"/>
<rect x="228.76" y="96.49" width="2.58" height="9.79" fill="#e5f3f4"/>
<rect x="231.28" y="96.49" width="2.58" height="9.79" fill="#f2f9f9"/>
<rect x="233.79" y="96.49" width="2.58" height="9.79" fill="#eff8f8"/>
<rect x="236.31" y="96.49" width="2.58" height="9.79" fill="#eff8f8"/>
<rect x="238.82" y="96.49" width="2.58" height="9.79" fill="#f4fafa"/>
<rect x="241.34" y="96.49" width="2.58" height="9.79" fill="#f4fafa"/>
<rect x="243.85" y="96.49" width="2.58" height="9.79" fill="#f2f9f9"/>
<rect x="246.37" y="96.49" width="2.58" height="9.79" fill="#f4fafa"/>
<rect x="248.88" y="96.49" width="2.58" height="9.79" fill="#f2f9f9"/>
<rect x="105.50" y="106.22" width="2.58" height="9.79" fill="#f7fbfb"/>
<rect x="108.02" y="106.22" width="2.58" height="9.79" fill="#f7dadd"/>
<rect x="110.53" y="106.22" width="2.58" height="9.79" fill="#f7fbfb"/>
<rect x="113.05" y="106.22" width="2.58" height="9.79" fill="#f7dddf"/>
<rect x="115.56" y="106.22" width="2.58" height="9.79" fill="#f4cfd3"/>
<rect x="118.08" y="106.22" width="2.58" height="9.79" fill="#f9fcfc"/>
<rect x="120.59" y="106.22" width="2.58" height="9.79" fill="#f9fcfc"/>
<rect x="123.11" y="106.22" width="2.58" height="9.79" fill="#fefefe"/>
<rect x="125.62" y="106.22" width="2.58" height="9.79" fill="#f9fcfc"/>
<rect x="128.14" y="106.22" width="2.58" height="9.79" fill="#f3c9cd"/>
<rect x="130.66" y="106.22" width="2.58" height="9.79" fill="#faebec"/>
<rect x="133.17" y="106.22" width="2.58" height="9.79" fill="#fcf2f3"/>
<rect x="135.69" y="106.22" width="2.58" height="9.79" fill="#f2c6ca"/>
<rect x="138.20" y="106.22" width="2.58" height="9.79" fill="#f7fbfb"/>
<rect x="140.72" y="106.22" width="2.58" height="9.79" fill="#fbfdfd"/>
<rect x="143.23" y="106.22" width="2.58" height="9.79" fill="#f7dde0"/>
<rect x="145.75" y="106.22" width="2.58" height="9.79" fill="#fbfdfd"/>
<rect x="148.26" y="106.22" width="2.58" height="9.79" fill="#fbfdfd"/>
<rect x="150.78" y="106.22" width="2.58" height="9.79" fill="#fbfdfd"/>
<rect x="153.29" y="106.22" width="2.58" height="9.79" fill="#f7fbfb"/>
<rect x="155.81" y="106.22" width="2.58" height="9.79" fill="#faecee"/>
<rect x="158.33" y="106.22" width="2.58" height="9.79" fill="#fefefe"/>
<rect x="160.84" y="106.22" width="2.58" height="9.79" fill="#f6d9dd"/>
<rect x="163.36" y="106.22" width="2.58" height="9.79" fill="#fdfdfd"/>
<rect x="165.87" y="106.22" width="2.58" height="9.79" fill="#fefefe"/>
<rect x="168.39" y="106.22" width="2.58" height="9.79" fill="#f7fbfb"/>
<rect x="170.90" y="106.22" width="2.58" height="9.79" fill="#f4ced2"/>
<rect x="173.42" y="106.22" width="2.58" height="9.79" fill="#f9fcfc"/>
<rect x="175.93" y="106.22" width="2.58" height="9.79" fill="#f4fafa"/>
<rect x="178.45" y="106.22" width="2.58" height="9.79" fill="#f7fbfb"/>
<rect x="180.97" y="106.22" width="2.58" height="9.79" fill="#f4fafa"/>
<rect x="183.48" y="106.22" width="2.58" height="9.79" fill="#f4fafa"/>
<rect x="186.00" y="106.22" width="2.58" height="9.79" fill="#f1f8f9"/>
<rect x="188.51" y="106.22" width="2.58" height="9.79" fill="#f1f8f9"/>
<rect x="191.03" y="106.22" width="2.58" height="9.79" fill="#f7fbfb"/>
<rect x="193.54" y="106.22" width="2.58" height="9.79" fill="#f6fbfb"/>
<rect x="196.06" y="106.22" width="2.58" height="9.79" fill="#f4fafa"/>
<rect x="198.57" y="106.22" width="2.58" height="9.79" fill="#f6fbfb"/>
<rect x="201.09" y="106.22" width="2.58" height="9.79" fill="#f9fcfc"/>
<rect x="203.61" y="106.22" width="2.58" height="9.79" fill="#f1f8f9"/>
<rect x="206.12" y="106.22" width="2.58" height="9.79" fill="#f6fbfb"/>
<rect x="208.64" y="106.22" width="2.58" height="9.79" fill="#fdf7f7"/>
<rect x="211.15" y="106.22" width="2.58" height="9.79" fill="#f9fcfc"/>
<rect x="213.67" y="106.22" width="2.58" height="9.79" fill="#f6fbfb"/>
<rect x="216.18" y="106.22" width="2.58" height="9.79" fill="#f1f8f9"/>
<rect x="218.70" y="106.22" width="2.58" height="9.79" fill="#f1f8f9"/>
<rect x="221.21" y="106.22" width="2.58" height="9.79" fill="#f1f8f9"/>
<rect x="223.73" y="106.22" width="2.58" height="9.79" fill="#f1f8f9"/>
<rect x="226.24" y="106.22" width="2.58" height="9.79" fill="#f7fbfb"/>
<rect x="228.76" y="106.22" width="2.58" height="9.79" fill="#f4fafa"/>
<rect x="231.28" y="106.22" width="2.58" height="9.79" fill="#f7fbfb"/>
<rect x="233.79" y="106.22" width="2.58" height="9.79" fill="#f6fbfb"/>
<rect x="236.31" y="106.22" width="2.58" height="9.79" fill="#f1f8f9"/>
<rect x="238.82" y="106.22" width="2.58" height="9.79" fill="#f9fcfc"/>
<rect x="241.34" y="106.22" width="2.58" height="9.79" fill="#edf7f7"/>
<rect x="243.85" y="106.22" width="2.58" height="9.79" fill="#edf7f7"/>
<rect x="246.37" y="106.22" width="2.58" height="9.79" fill="#f6fbfb"/>
<rect x="248.88" y="106.22" width="2.58" height="9.79" fill="#edf7f7"/>
<rect x="105.50" y="115.95" width="2.58" height="9.79" fill="#fefefe"/>
<rect x="108.02" y="115.95" width="2.58" height="9.79" fill="#f5d1d5"/>
<rect x="110.53" y="115.95" width="2.58" height="9.79" fill="#f7fbfb"/>
<rect x="113.05" y="115.95" width="2.58" height="9.79" fill="#fbfdfd"/>
<rect x="115.56" y="115.95" width="2.58" height="9.79" fill="#f6d8db"/>
<rect x="118.08" y="115.95" width="2.58" height="9.79" fill="#f9fcfc"/>
<rect x="120.59" y="115.95" width="2.58" height="9.79" fill="#fdfdfd"/>
<rect x="123.11" y="115.95" width="2.58" height="9.79" fill="#f7fbfb"/>
<rect x="125.62" y="115.95" width="2.58" height="9.79" fill="#f9fcfc"/>
<rect x="128.14" y="115.95" width="2.58" height="9.79" fill="#fefefe"/>
<rect x="130.66" y="115.95" width="2.58" height="9.79" fill="#faeced"/>
<rect x="133.17" y="115.95" width="2.58" height="9.79" fill="#fcf4f5"/>
<rect x="135.69" y="115.95" width="2.58" height="9.79" fill="#f7dde0"/>
<rect x="138.20" y="115.95" width="2.58" height="9.79" fill="#f9fcfc"/>
<rect x="140.72" y="115.95" width="2.58" height="9.79" fill="#fbfdfd"/>
<rect x="143.23" y="115.95" width="2.58" height="9.79" fill="#fdfdfd"/>
<rect x="145.75" y="115.95" width="2.58" height="9.79" fill="#f7fbfb"/>
<rect x="148.26" y="115.95" width="2.58" height="9.79" fill="#f7fbfb"/>
<rect x="150.78" y="115.95" width="2.58" height="9.79" fill="#fefefe"/>
<rect x="153.29" y="115.95" width="2.58" height="9.79" fill="#fbfdfd"/>
<rect x="155.81" y="115.95" width="2.58" height="9.79" fill="#fcf5f5"/>
<rect x="158.33" y="115.95" width="2.58" height="9.79" fill="#fdfdfd"/>
<rect x="160.84" y="115.95" width="2.58" height="9.79" fill="#f9e6e8"/>
<rect x="163.36" y="115.95" width="2.58" height="9.79" fill="#fefefe"/>
<rect x="165.87" y="115.95" width="2.58" height="9.79" fill="#fdfdfd"/>
<rect x="168.39" y="115.95" width="2.58" height="9.79" fill="#f9fcfc"/>
<rect x="170.90" y="115.95" width="2.58" height="9.79" fill="#f9fcfc"/>
<rect x="173.42" y="115.95" width="2.58" height="9.79" fill="#fbf0f1"/>
<rect x="175.93" y="115.95" width="2.58" height="9.79" fill="#f1f8f9"/>
<rect x="178.45" y="115.95" width="2.58" height="9.79" fill="#f6fbfb"/>
<rect x="180.97" y="115.95" width="2.58" height="9.79" fill="#f7fbfb"/>
<rect x="183.48" y="115.95" width="2.58" height="9.79" fill="#edf7f7"/>
<rect x="186.00" y="115.95" width="2.58" height="9.79" fill="#f9fcfc"/>
<rect x="188.51" y="115.95" width="2.58" height="9.79" fill="#f4fafa"/>
<rect x="191.03" y="115.95" width="2.58" height="9.79" fill="#f4fafa"/>
<rect x="193.54" y="115.95" width="2.58" height="9.79" fill="#f6fbfb"/>
<rect x="196.06" y="115.95" width="2.58" height="9.79" fill="#edf7f7"/>
<rect x="198.57" y="115.95" width="2.58" height="9.79" fill="#f9fcfc"/>
<rect x="201.09" y="115.95" width="2.58" height="9.79" fill="#f4fafa"/>
<rect x="203.61" y="115.95" width="2.58" height="9.79" fill="#edf7f7"/>
<rect x="206.12" y="115.95" width="2.58" height="9.79" fill="#edf7f7"/>
<rect x="208.64" y="115.95" width="2.58" height="9.79" fill="#fcf6f7"/>
<rect x="211.15" y="115.95" width="2.58" height="9.79" fill="#f4fafa"/>
<rect x="213.67" y="115.95" width="2.58" height="9.79" fill="#f6fbfb"/>
<rect x="216.18" y="115.95" width="2.58" height="9.79" fill="#edf7f7"/>
<rect x="218.70" y="115.95" width="2.58" height="9.79" fill="#f7fbfb"/>
<rect x="221.21" y="115.95" width="2.58" height="9.79" fill="#f6fbfb"/>
<rect x="223.73" y="115.95" width="2.58" height="9.79" fill="#f4fafa"/>
<rect x="226.24" y="115.95" width="2.58" height="9.79" fill="#f7fbfb"/>
<rect x="228.76" y="115.95" width="2.58" height="9.79" fill="#f6fbfb"/>
<rect x="231.28" y="115.95" width="2.58" height="9.79" fill="#f4fafa"/>
<rect x="233.79" y="115.95" width="2.58" height="9.79" fill="#edf7f7"/>
<rect x="236.31" y="115.95" width="2.58" height="9.79" fill="#edf7f7"/>
<rect x="238.82" y="115.95" width="2.58" height="9.79" fill="#f9fcfc"/>
<rect x="241.34" y="115.95" width="2.58" height="9.79" fill="#f1f8f9"/>
<rect x="243.85" y="115.95" width="2.58" height="9.79" fill="#f9fcfc"/>
<rect x="246.37" y="115.95" width="2.58" height="9.79" fill="#f6fbfb"/>
<rect x="248.88" y="115.95" width="2.58" height="9.79" fill="#f4fafa"/>
<rect x="105.50" y="125.68" width="2.58" height="9.79" fill="#f5d4d8"/>
<rect x="108.02" y="125.68" width="2.58" height="9.79" fill="#fdfdfd"/>
<rect x="110.53" y="125.68" width="2.58" height="9.79" fill="#fbeeef"/>
<rect x="113.05" y="125.68" width="2.58" height="9.79" fill="#f9fcfc"/>
<rect x="115.56" y="125.68" width="2.58" height="9.79" fill="#f7fbfb"/>
<rect x="118.08" y="125.68" width="2.58" height="9.79" fill="#faeced"/>
<rect x="120.59" y="125.68" width="2.58" height="9.79" fill="#fefefe"/>
<rect x="123.11" y="125.68" width="2.58" height="9.79" fill="#fbfdfd"/>
<rect x="125.62" y="125.68" width="2.58" height="9.79" fill="#f7fbfb"/>
<rect x="128.14" y="125.68" width="2.58" height="9.79" fill="#f7dbde"/>
<rect x="130.66" y="125.68" width="2.58" height="9.79" fill="#fcf3f4"/>
<rect x="133.17" y="125.68" width="2.58" height="9.79" fill="#faedee"/>
<rect x="135.69" y="125.68" width="2.58" height="9.79" fill="#fdf7f8"/>
<rect x="138.20" y="125.68" width="2.58" height="9.79" fill="#f2c1c6"/>
<rect x="140.72" y="125.68" width="2.58" height="9.79" fill="#f7dee0"/>
<rect x="143.23" y="125.68" width="2.58" height="9.79" fill="#fae9eb"/>
<rect x="145.75" y="125.68" width="2.58" height="9.79" fill="#fbfdfd"/>
<rect x="148.26" y="125.68" width="2.58" height="9.79" fill="#fbfdfd"/>
<rect x="150.78" y="125.68" width="2.58" height="9.79" fill="#fbfdfd"/>
<rect x="153.29" y="125.68" width="2.58" height="9.79" fill="#f7fbfb"/>
<rect x="155.81" y="125.68" width="2.58" height="9.79" fill="#f2c2c7"/>
<rect x="158.33" y="125.68" width="2.58" height="9.79" fill="#fdfdfd"/>
<rect x="160.84" y="125.68" width="2.58" height="9.79" fill="#f7fbfb"/>
<rect x="163.36" y="125.68" width="2.58" height="9.79" fill="#fbf2f3"/>
<rect x="165.87" y="125.68" width="2.58" height="9.79" fill="#fefefe"/>
<rect x="168.39" y="125.68" width="2.58" height="9.79" fill="#f9fcfc"/>
<rect x="170.90" y="125.68" width="2.58" height="9.79" fill="#fdfdfd"/>
<rect x="173.42" y="125.68" width="2.58" height="9.79" fill="#fbeff0"/>
<rect x="175.93" y="125.68" width="2.58" height="9.79" fill="#f9fcfc"/>
<rect x="178.45" y="125.68" width="2.58" height="9.79" fill="#f9fcfc"/>
<rect x="180.97" y="125.68" width="2.58" height="9.79" fill="#f9fcfc"/>
<rect x="183.48" y="125.68" width="2.58" height="9.79" fill="#f7fbfb"/>
<rect x="186.00" y="125.68" width="2.58" height="9.79" fill="#f4fafa"/>
<rect x="188.51" y="125.68" width="2.58" height="9.79" fill="#f7fbfb"/>
<rect x="191.03" y="125.68" width="2.58" height="9.79" fill="#f1f8f9"/>
<rect x="193.54" y="125.68" width="2.58" height="9.79" fill="#fdf9f9"/>
<rect x="196.06" y="125.68" width="2.58" height="9.79" fill="#f6fbfb"/>
<rect x="198.57" y="125.68" width="2.58" height="9.79" fill="#f9fcfc"/>
<rect x="201.09" y="125.68" width="2.58" height="9.79" fill="#f1f8f9"/>
<rect x="203.61" y="125.68" width="2.58" height="9.79" fill="#f7fbfb"/>
<rect x="206.12" y="125.68" width="2.58" height="9.79" fill="#f9fcfc"/>
<rect x="208.64" y="125.68" width="2.58" height="9.79" fill="#edf7f7"/>
<rect x="211.15" y="125.68" width="2.58" height="9.79" fill="#fcf4f5"/>
<rect x="213.67" y="125.68" width="2.58" height="9.79" fill="#f9fcfc"/>
<rect x="216.18" y="125.68" width="2.58" height="9.79" fill="#f1f8f9"/>
<rect x="218.70" y="125.68" width="2.58" height="9.79" fill="#f6fbfb"/>
<rect x="221.21" y="125.68" width="2.58" height="9.79" fill="#f4fafa"/>
<rect x="223.73" y="125.68" width="2.58" height="9.79" fill="#f4fafa"/>
<rect x="226.24" y="125.68" width="2.58" height="9.79" fill="#f9fcfc"/>
<rect x="228.76" y="125.68" width="2.58" height="9.79" fill="#edf7f7"/>
<rect x="231.28" y="125.68" width="2.58" height="9.79" fill="#f9fcfc"/>
<rect x="233.79" y="125.68" width="2.58" height="9.79" fill="#f6fbfb"/>
<rect x="236.31" y="125.68" width="2.58" height="9.79" fill="#f1f8f9"/>
<rect x="238.82" y="125.68" width="2.58" height="9.79" fill="#f1f8f9"/>
<rect x="241.34" y="125.68" width="2.58" height="9.79" fill="#f6fbfb"/>
<rect x="243.85" y="125.68" width="2.58" height="9.79" fill="#edf7f7"/>
<rect x="246.37" y="125.68" width="2.58" height="9.79" fill="#f1f8f9"/>
<rect x="248.88" y="125.68" width="2.58" height="9.79" fill="#f1f8f9"/>
<rect x="105.50" y="135.40" width="2.58" height="9.79" fill="#f9fcfc"/>
<rect x="108.02" y="135.40" width="2.58" height="9.79" fill="#faeced"/>
<rect x="110.53" y="135.40" width="2.58" height="9.79" fill="#fefefe"/>
<rect x="113.05" y="135.40" width="2.58" height="9.79" fill="#f9fcfc"/>
<rect x="115.56" y="135.40" width="2.58" height="9.79" fill="#f8dfe2"/>
<rect x="118.08" y="135.40" width="2.58" height="9.79" fill="#fbf1f2"/>
<rect x="120.59" y="135.40" width="2.58" height="9.79" fill="#f7fbfb"/>
<rect x="123.11" y="135.40" width="2.58" height="9.79" fill="#fbfdfd"/>
<rect x="125.62" y="135.40" width="2.58" height="9.79" fill="#f7fbfb"/>
<rect x="128.14" y="135.40" width="2.58" height="9.79" fill="#f5d3d7"/>
<rect x="130.66" y="135.40" width="2.58" height="9.79" fill="#fcf5f6"/>
<rect x="133.17" y="135.40" width="2.58" height="9.79" fill="#faeaec"/>
<rect x="135.69" y="135.40" width="2.58" height="9.79" fill="#fdf8f8"/>
<rect x="138.20" y="135.40" width="2.58" height="9.79" fill="#f7dde0"/>
<rect x="140.72" y="135.40" width="2.58" height="9.79" fill="#fbfdfd"/>
<rect x="143.23" y="135.40" width="2.58" height="9.79" fill="#fbfdfd"/>
<rect x="145.75" y="135.40" width="2.58" height="9.79" fill="#fbfdfd"/>
<rect x="148.26" y="135.40" width="2.58" height="9.79" fill="#f9fcfc"/>
<rect x="150.78" y="135.40" width="2.58" height="9.79" fill="#fdfdfd"/>
<rect x="153.29" y="135.40" width="2.58" height="9.79" fill="#fcf3f4"/>
<rect x="155.81" y="135.40" width="2.58" height="9.79" fill="#fbfdfd"/>
<rect x="158.33" y="135.40" width="2.58" height="9.79" fill="#f9fcfc"/>
<rect x="160.84" y="135.40" width="2.58" height="9.79" fill="#fdfdfd"/>
<rect x="163.36" y="135.40" width="2.58" height="9.79" fill="#fbeff0"/>
<rect x="165.87" y="135.40" width="2.58" height="9.79" fill="#fbfdfd"/>
<rect x="168.39" y="135.40" width="2.58" height="9.79" fill="#f7fbfb"/>
<rect x="170.90" y="135.40" width="2.58" height="9.79" fill="#f9fcfc"/>
<rect x="173.42" y="135.40" width="2.58" height="9.79" fill="#fdfdfd"/>
<rect x="175.93" y="135.40" width="2.58" height="9.79" fill="#f1f8f9"/>
<rect x="178.45" y="135.40" width="2.58" height="9.79" fill="#f7fbfb"/>
<rect x="180.97" y="135.40" width="2.58" height="9.79" fill="#f1f8f9"/>
<rect x="183.48" y="135.40" width="2.58" height="9.79" fill="#f9fcfc"/>
<rect x="186.00" y="135.40" width="2.58" height="9.79" fill="#edf7f7"/>
<rect x="188.51" y="135.40" width="2.58" height="9.79" fill="#f6fbfb"/>
<rect x="191.03" y="135.40" width="2.58" height="9.79" fill="#f1f8f9"/>
<rect x="193.54" y="135.40" width="2.58" height="9.79" fill="#fdf8f8"/>
<rect x="196.06" y="135.40" width="2.58" height="9.79" fill="#edf7f7"/>
<rect x="198.57" y="135.40" width="2.58" height="9.79" fill="#f1f8f9"/>
<rect x="201.09" y="135.40" width="2.58" height="9.79" fill="#f4fafa"/>
<rect x="203.61" y="135.40" width="2.58" height="9.79" fill="#edf7f7"/>
<rect x="206.12" y="135.40" width="2.58" height="9.79" fill="#edf7f7"/>
<rect x="208.64" y="135.40" width="2.58" height="9.79" fill="#f9fcfc"/>
<rect x="211.15" y="135.40" width="2.58" height="9.79" fill="#fcf4f5"/>
<rect x="213.67" y="135.40" width="2.58" height="9.79" fill="#f4fafa"/>
<rect x="216.18" y="135.40" width="2.58" height="9.79" fill="#edf7f7"/>
<rect x="218.70" y="135.40" width="2.58" height="9.79" fill="#f1f8f9"/>
<rect x="221.21" y="135.40" width="2.58" height="9.79" fill="#f1f8f9"/>
<rect x="223.73" y="135.40" width="2.58" height="9.79" fill="#f4fafa"/>
<rect x="226.24" y="135.40" width="2.58" height="9.79" fill="#f1f8f9"/>
<rect x="228.76" y="135.40" width="2.58" height="9.79" fill="#f1f8f9"/>
<rect x="231.28" y="135.40" width="2.58" height="9.79" fill="#f7fbfb"/>
<rect x="233.79" y="135.40" width="2.58" height="9.79" fill="#f1f8f9"/>
<rect x="236.31" y="135.40" width="2.58" height="9.79" fill="#edf7f7"/>
<rect x="238.82" y="135.40" width="2.58" height="9.79" fill="#f9fcfc"/>
<rect x="241.34" y="135.40" width="2.58" height="9.79" fill="#edf7f7"/>
<rect x="243.85" y="135.40" width="2.58" height="9.79" fill="#f9fcfc"/>
<rect x="246.37" y="135.40" width="2.58" height="9.79" fill="#edf7f7"/>
<rect x="248.88" y="135.40" width="2.58" height="9.79" fill="#edf7f7"/>
<rect x="105.50" y="145.13" width="2.58" height="9.79" fill="#fcfdfd"/>
<rect x="108.02" y="145.13" width="2.58" height="9.79" fill="#f4cdd2"/>
<rect x="110.53" y="145.13" width="2.58" height="9.79" fill="#fefefe"/>
<rect x="113.05" y="145.13" width="2.58" height="9.79" fill="#fcfdfd"/>
<rect x="115.56" y="145.13" width="2.58" height="9.79" fill="#fefefe"/>
<rect x="118.08" y="145.13" width="2.58" height="9.79" fill="#fcfdfd"/>
<rect x="120.59" y="145.13" width="2.58" height="9.79" fill="#f7dadd"/>
<rect x="123.11" y="145.13" width="2.58" height="9.79" fill="#fbfdfd"/>
<rect x="125.62" y="145.13" width="2.58" height="9.79" fill="#fae9eb"/>
<rect x="128.14" y="145.13" width="2.58" height="9.79" fill="#fdfefe"/>
<rect x="130.66" y="145.13" width="2.58" height="9.79" fill="#fbf1f2"/>
<rect x="133.17" y="145.13" width="2.58" height="9.79" fill="#f2c2c7"/>
<rect x="135.69" y="145.13" width="2.58" height="9.79" fill="#f6d8db"/>
<rect x="138.20" y="145.13" width="2.58" height="9.79" fill="#fefefe"/>
<rect x="140.72" y="145.13" width="2.58" height="9.79" fill="#fdfefe"/>
<rect x="143.23" y="145.13" width="2.58" height="9.79" fill="#faecee"/>
<rect x="145.75" y="145.13" width="2.58" height="9.79" fill="#fbfdfd"/>
<rect x="148.26" y="145.13" width="2.58" height="9.79" fill="#f9e8ea"/>
<rect x="150.78" y="145.13" width="2.58" height="9.79" fill="#fbf2f3"/>
<rect x="153.29" y="145.13" width="2.58" height="9.79" fill="#fbfdfd"/>
<rect x="155.81" y="145.13" width="2.58" height="9.79" fill="#fbfdfd"/>
<rect x="158.33" y="145.13" width="2.58" height="9.79" fill="#fefefe"/>
<rect x="160.84" y="145.13" width="2.58" height="9.79" fill="#fdfefe"/>
<rect x="163.36" y="145.13" width="2.58" height="9.79" fill="#fdfefe"/>
<rect x="165.87" y="145.13" width="2.58" height="9.79" fill="#f9e5e7"/>
<rect x="168.39" y="145.13" width="2.58" height="9.79" fill="#f6d5d8"/>
<rect x="170.90" y="145.13" width="2.58" height="9.79" fill="#fbfdfd"/>
<rect x="173.42" y="145.13" width="2.58" height="9.79" fill="#fbfdfd"/>
<rect x="175.93" y="145.13" width="2.58" height="9.79" fill="#f9fcfc"/>
<rect x="178.45" y="145.13" width="2.58" height="9.79" fill="#fbfdfd"/>
<rect x="180.97" y="145.13" width="2.58" height="9.79" fill="#fafcfc"/>
<rect x="183.48" y="145.13" width="2.58" height="9.79" fill="#fafcfc"/>
<rect x="186.00" y="145.13" width="2.58" height="9.79" fill="#f7fbfb"/>
<rect x="188.51" y="145.13" width="2.58" height="9.79" fill="#f9fcfc"/>
<rect x="191.03" y="145.13" width="2.58" height="9.79" fill="#f9fcfc"/>
<rect x="193.54" y="145.13" width="2.58" height="9.79" fill="#fbfdfd"/>
<rect x="196.06" y="145.13" width="2.58" height="9.79" fill="#fbfdfd"/>
<rect x="198.57" y="145.13" width="2.58" height="9.79" fill="#f7fbfb"/>
<rect x="201.09" y="145.13" width="2.58" height="9.79" fill="#fbfdfd"/>
<rect x="203.61" y="145.13" width="2.58" height="9.79" fill="#f9fcfc"/>
<rect x="206.12" y="145.13" width="2.58" height="9.79" fill="#f6fafb"/>
<rect x="208.64" y="145.13" width="2.58" height="9.79" fill="#f6fafb"/>
<rect x="211.15" y="145.13" width="2.58" height="9.79" fill="#fbfdfd"/>
<rect x="213.67" y="145.13" width="2.58" height="9.79" fill="#fbfdfd"/>
<rect x="216.18" y="145.13" width="2.58" height="9.79" fill="#fafcfc"/>
<rect x="218.70" y="145.13" width="2.58" height="9.79" fill="#f6fafb"/>
<rect x="221.21" y="145.13" width="2.58" height="9.79" fill="#f7fbfb"/>
<rect x="223.73" y="145.13" width="2.58" height="9.79" fill="#fbfdfd"/>
<rect x="226.24" y="145.13" width="2.58" height="9.79" fill="#fbfdfd"/>
<rect x="228.76" y="145.13" width="2.58" height="9.79" fill="#fafcfc"/>
<rect x="231.28" y="145.13" width="2.58" height="9.79" fill="#fbfdfd"/>
<rect x="233.79" y="145.13" width="2.58" height="9.79" fill="#f6fafb"/>
<rect x="236.31" y="145.13" width="2.58" height="9.79" fill="#f9fcfc"/>
<rect x="238.82" y="145.13" width="2.58" height="9.79" fill="#fafcfc"/>
<rect x="241.34" y="145.13" width="2.58" height="9.79" fill="#f9fcfc"/>
<rect x="243.85" y="145.13" width="2.58" height="9.79" fill="#f8e1e3"/>
<rect x="246.37" y="145.13" width="2.58" height="9.79" fill="#f6fafb"/>
<rect x="248.88" y="145.13" width="2.58" height="9.79" fill="#f7fbfb"/>
<rect x="105.50" y="154.86" width="2.58" height="9.79" fill="#fbf0f1"/>
<rect x="108.02" y="154.86" width="2.58" height="9.79" fill="#f6fbfb"/>
<rect x="110.53" y="154.86" width="2.58" height="9.79" fill="#fcfdfd"/>
<rect x="113.05" y="154.86" width="2.58" height="9.79" fill="#fcfdfd"/>
<rect x="115.56" y="154.86" width="2.58" height="9.79" fill="#fcfdfd"/>
<rect x="118.08" y="154.86" width="2.58" height="9.79" fill="#fcfdfd"/>
<rect x="120.59" y="154.86" width="2.58" height="9.79" fill="#f7dadd"/>
<rect x="123.11" y="154.86" width="2.58" height="9.79" fill="#fefefe"/>
<rect x="125.62" y="154.86" width="2.58" height="9.79" fill="#f6fbfb"/>
<rect x="128.14" y="154.86" width="2.58" height="9.79" fill="#f6fbfb"/>
<rect x="130.66" y="154.86" width="2.58" height="9.79" fill="#fcf3f4"/>
<rect x="133.17" y="154.86" width="2.58" height="9.79" fill="#fdf8f8"/>
<rect x="135.69" y="154.86" width="2.58" height="9.79" fill="#fcfdfd"/>
<rect x="138.20" y="154.86" width="2.58" height="9.79" fill="#f8e2e4"/>
<rect x="140.72" y="154.86" width="2.58" height="9.79" fill="#f4fafa"/>
<rect x="143.23" y="154.86" width="2.58" height="9.79" fill="#f6d5d8"/>
<rect x="145.75" y="154.86" width="2.58" height="9.79" fill="#fcfdfd"/>
<rect x="148.26" y="154.86" width="2.58" height="9.79" fill="#faedee"/>
<rect x="150.78" y="154.86" width="2.58" height="9.79" fill="#f4fafa"/>
<rect x="153.29" y="154.86" width="2.58" height="9.79" fill="#f4fafa"/>
<rect x="155.81" y="154.86" width="2.58" height="9.79" fill="#f6fbfb"/>
<rect x="158.33" y="154.86" width="2.58" height="9.79" fill="#fefefe"/>
<rect x="160.84" y="154.86" width="2.58" height="9.79" fill="#f4fafa"/>
<rect x="163.36" y="154.86" width="2.58" height="9.79" fill="#fefefe"/>
<rect x="165.87" y="154.86" width="2.58" height="9.79" fill="#fcfdfd"/>
<rect x="168.39" y="154.86" width="2.58" height="9.79" fill="#f6fbfb"/>
<rect x="170.90" y="154.86" width="2.58" height="9.79" fill="#fefefe"/>
<rect x="173.42" y="154.86" width="2.58" height="9.79" fill="#f6fbfb"/>
<rect x="175.93" y="154.86" width="2.58" height="9.79" fill="#f6fbfb"/>
<rect x="178.45" y="154.86" width="2.58" height="9.79" fill="#f4fafa"/>
<rect x="180.97" y="154.86" width="2.58" height="9.79" fill="#f4fafa"/>
<rect x="183.48" y="154.86" width="2.58" height="9.79" fill="#f6fbfb"/>
<rect x="186.00" y="154.86" width="2.58" height="9.79" fill="#f4fafa"/>
<rect x="188.51" y="154.86" width="2.58" height="9.79" fill="#eff8f8"/>
<rect x="191.03" y="154.86" width="2.58" height="9.79" fill="#eff8f8"/>
<rect x="193.54" y="154.86" width="2.58" height="9.79" fill="#eff8f8"/>
<rect x="196.06" y="154.86" width="2.58" height="9.79" fill="#eff8f8"/>
<rect x="198.57" y="154.86" width="2.58" height="9.79" fill="#f2f9f9"/>
<rect x="201.09" y="154.86" width="2.58" height="9.79" fill="#eaf5f6"/>
<rect x="203.61" y="154.86" width="2.58" height="9.79" fill="#f6fbfb"/>
<rect x="206.12" y="154.86" width="2.58" height="9.79" fill="#fbf1f2"/>
<rect x="208.64" y="154.86" width="2.58" height="9.79" fill="#eaf5f6"/>
<rect x="211.15" y="154.86" width="2.58" height="9.79" fill="#eaf5f6"/>
<rect x="213.67" y="154.86" width="2.58" height="9.79" fill="#eff8f8"/>
<rect x="216.18" y="154.86" width="2.58" height="9.79" fill="#eaf5f6"/>
<rect x="218.70" y="154.86" width="2.58" height="9.79" fill="#eaf5f6"/>
<rect x="221.21" y="154.86" width="2.58" height="9.79" fill="#eaf5f6"/>
<rect x="223.73" y="154.86" width="2.58" height="9.79" fill="#e5f3f4"/>
<rect x="226.24" y="154.86" width="2.58" height="9.79" fill="#eaf5f6"/>
<rect x="228.76" y="154.86" width="2.58" height="9.79" fill="#f4fafa"/>
<rect x="231.28" y="154.86" width="2.58" height="9.79" fill="#f6fbfb"/>
<rect x="233.79" y="154.86" width="2.58" height="9.79" fill="#e5f3f4"/>
<rect x="236.31" y="154.86" width="2.58" height="9.79" fill="#eff8f8"/>
<rect x="238.82" y="154.86" width="2.58" height="9.79" fill="#eaf5f6"/>
<rect x="241.34" y="154.86" width="2.58" height="9.79" fill="#f4fafa"/>
<rect x="243.85" y="154.86" width="2.58" height="9.79" fill="#e5f3f4"/>
<rect x="246.37" y="154.86" width="2.58" height="9.79" fill="#f2f9f9"/>
<rect x="248.88" y="154.86" width="2.58" height="9.79" fill="#f4fafa"/>
<rect x="105.50" y="164.59" width="2.58" height="9.79" fill="#fcf2f3"/>
<rect x="108.02" y="164.59" width="2.58" height="9.79" fill="#fefefe"/>
<rect x="110.53" y="164.59" width="2.58" height="9.79" fill="#f9e8ea"/>
<rect x="113.05" y="164.59" width="2.58" height="9.79" fill="#fefefe"/>
<rect x="115.56" y="164.59" width="2.58" height="9.79" fill="#f6fbfb"/>
<rect x="118.08" y="164.59" width="2.58" height="9.79" fill="#f9e6e8"/>
<rect x="120.59" y="164.59" width="2.58" height="9.79" fill="#f6fbfb"/>
<rect x="123.11" y="164.59" width="2.58" height="9.79" fill="#fcfdfd"/>
<rect x="125.62" y="164.59" width="2.58" height="9.79" fill="#fefefe"/>
<rect x="128.14" y="164.59" width="2.58" height="9.79" fill="#f6fbfb"/>
<rect x="130.66" y="164.59" width="2.58" height="9.79" fill="#fcf3f4"/>
<rect x="133.17" y="164.59" width="2.58" height="9.79" fill="#fcf5f6"/>
<rect x="135.69" y="164.59" width="2.58" height="9.79" fill="#f6fbfb"/>
<rect x="138.20" y="164.59" width="2.58" height="9.79" fill="#f9fcfc"/>
<rect x="140.72" y="164.59" width="2.58" height="9.79" fill="#f6fbfb"/>
<rect x="143.23" y="164.59" width="2.58" height="9.79" fill="#f8dfe2"/>
<rect x="145.75" y="164.59" width="2.58" height="9.79" fill="#f9fcfc"/>
<rect x="148.26" y="164.59" width="2.58" height="9.79" fill="#f9e6e8"/>
<rect x="150.78" y="164.59" width="2.58" height="9.79" fill="#f6fbfb"/>
<rect x="153.29" y="164.59" width="2.58" height="9.79" fill="#f6fbfb"/>
<rect x="155.81" y="164.59" width="2.58" height="9.79" fill="#f4fafa"/>
<rect x="158.33" y="164.59" width="2.58" height="9.79" fill="#f6fbfb"/>
<rect x="160.84" y="164.59" width="2.58" height="9.79" fill="#fcf7f7"/>
<rect x="163.36" y="164.59" width="2.58" height="9.79" fill="#f4fafa"/>
<rect x="165.87" y="164.59" width="2.58" height="9.79" fill="#f9fcfc"/>
<rect x="168.39" y="164.59" width="2.58" height="9.79" fill="#fefefe"/>
<rect x="170.90" y="164.59" width="2.58" height="9.79" fill="#fcfdfd"/>
<rect x="173.42" y="164.59" width="2.58" height="9.79" fill="#f4fafa"/>
<rect x="175.93" y="164.59" width="2.58" height="9.79" fill="#f4fafa"/>
<rect x="178.45" y="164.59" width="2.58" height="9.79" fill="#f2f9f9"/>
<rect x="180.97" y="164.59" width="2.58" height="9.79" fill="#e5f3f4"/>
<rect x="183.48" y="164.59" width="2.58" height="9.79" fill="#f6fbfb"/>
<rect x="186.00" y="164.59" width="2.58" height="9.79" fill="#e5f3f4"/>
<rect x="188.51" y="164.59" width="2.58" height="9.79" fill="#eaf5f6"/>
<rect x="191.03" y="164.59" width="2.58" height="9.79" fill="#eff8f8"/>
<rect x="193.54" y="164.59" width="2.58" height="9.79" fill="#f2f9f9"/>
<rect x="196.06" y="164.59" width="2.58" height="9.79" fill="#f4fafa"/>
<rect x="198.57" y="164.59" width="2.58" height="9.79" fill="#e5f3f4"/>
<rect x="201.09" y="164.59" width="2.58" height="9.79" fill="#f2f9f9"/>
<rect x="203.61" y="164.59" width="2.58" height="9.79" fill="#f4fafa"/>
<rect x="206.12" y="164.59" width="2.58" height="9.79" fill="#fcf6f7"/>
<rect x="208.64" y="164.59" width="2.58" height="9.79" fill="#eff8f8"/>
<rect x="211.15" y="164.59" width="2.58" height="9.79" fill="#f6fbfb"/>
<rect x="213.67" y="164.59" width="2.58" height="9.79" fill="#e5f3f4"/>
<rect x="216.18" y="164.59" width="2.58" height="9.79" fill="#f6fbfb"/>
<rect x="218.70" y="164.59" width="2.58" height="9.79" fill="#e5f3f4"/>
<rect x="221.21" y="164.59" width="2.58" height="9.79" fill="#eaf5f6"/>
<rect x="223.73" y="164.59" width="2.58" height="9.79" fill="#eff8f8"/>
<rect x="226.24" y="164.59" width="2.58" height="9.79" fill="#f2f9f9"/>
<rect x="228.76" y="164.59" width="2.58" height="9.79" fill="#e5f3f4"/>
<rect x="231.28" y="164.59" width="2.58" height="9.79" fill="#f6fbfb"/>
<rect x="233.79" y="164.59" width="2.58" height="9.79" fill="#eff8f8"/>
<rect x="236.31" y="164.59" width="2.58" height="9.79" fill="#f4fafa"/>
<rect x="238.82" y="164.59" width="2.58" height="9.79" fill="#f2f9f9"/>
<rect x="241.34" y="164.59" width="2.58" height="9.79" fill="#f6fbfb"/>
<rect x="243.85" y="164.59" width="2.58" height="9.79" fill="#e5f3f4"/>
<rect x="246.37" y="164.59" width="2.58" height="9.79" fill="#eaf5f6"/>
<rect x="248.88" y="164.59" width="2.58" height="9.79" fill="#f2f9f9"/>
<rect x="105.50" y="174.31" width="2.58" height="9.79" fill="#fcfdfd"/>
<rect x="108.02" y="174.31" width="2.58" height="9.79" fill="#fcfdfd"/>
<rect x="110.53" y="174.31" width="2.58" height="9.79" fill="#fcfdfd"/>
<rect x="113.05" y="174.31" width="2.58" height="9.79" fill="#fbfcfd"/>
<rect x="115.56" y="174.31" width="2.58" height="9.79" fill="#fafcfc"/>
<rect x="118.08" y="174.31" width="2.58" height="9.79" fill="#fafcfc"/>
<rect x="120.59" y="174.31" width="2.58" height="9.79" fill="#fcfdfd"/>
<rect x="123.11" y="174.31" width="2.58" height="9.79" fill="#faedee"/>
<rect x="125.62" y="174.31" width="2.58" height="9.79" fill="#fafcfc"/>
<rect x="128.14" y="174.31" width="2.58" height="9.79" fill="#fafcfc"/>
<rect x="130.66" y="174.31" width="2.58" height="9.79" fill="#fbfcfd"/>
<rect x="133.17" y="174.31" width="2.58" height="9.79" fill="#f4cdd1"/>
<rect x="135.69" y="174.31" width="2.58" height="9.79" fill="#fbfcfd"/>
<rect x="138.20" y="174.31" width="2.58" height="9.79" fill="#fbfcfd"/>
<rect x="140.72" y="174.31" width="2.58" height="9.79" fill="#fefefe"/>
<rect x="143.23" y="174.31" width="2.58" height="9.79" fill="#f6d9dc"/>
<rect x="145.75" y="174.31" width="2.58" height="9.79" fill="#fefefe"/>
<rect x="148.26" y="174.31" width="2.58" height="9.79" fill="#f7dbde"/>
<rect x="150.78" y="174.31" width="2.58" height="9.79" fill="#fbf0f1"/>
<rect x="153.29" y="174.31" width="2.58" height="9.79" fill="#f5d2d6"/>
<rect x="155.81" y="174.31" width="2.58" height="9.79" fill="#fcfdfd"/>
<rect x="158.33" y="174.31" width="2.58" height="9.79" fill="#f8e2e4"/>
<rect x="160.84" y="174.31" width="2.58" height="9.79" fill="#fefefe"/>
<rect x="163.36" y="174.31" width="2.58" height="9.79" fill="#fae8ea"/>
<rect x="165.87" y="174.31" width="2.58" height="9.79" fill="#fcfdfd"/>
<rect x="168.39" y="174.31" width="2.58" height="9.79" fill="#fcfdfd"/>
<rect x="170.90" y="174.31" width="2.58" height="9.79" fill="#fbfcfd"/>
<rect x="173.42" y="174.31" width="2.58" height="9.79" fill="#fdfefe"/>
<rect x="175.93" y="174.31" width="2.58" height="9.79" fill="#fbfcfd"/>
<rect x="178.45" y="174.31" width="2.58" height="9.79" fill="#f7fbfb"/>
<rect x="180.97" y="174.31" width="2.58" height="9.79" fill="#f7fbfb"/>
<rect x="183.48" y="174.31" width="2.58" height="9.79" fill="#f9fcfc"/>
<rect x="186.00" y="174.31" width="2.58" height="9.79" fill="#fafcfc"/>
<rect x="188.51" y="174.31" width="2.58" height="9.79" fill="#f3f9fa"/>
<rect x="191.03" y="174.31" width="2.58" height="9.79" fill="#f9fcfc"/>
<rect x="193.54" y="174.31" width="2.58" height="9.79" fill="#f5fafb"/>
<rect x="196.06" y="174.31" width="2.58" height="9.79" fill="#f3f9fa"/>
<rect x="198.57" y="174.31" width="2.58" height="9.79" fill="#f5fafb"/>
<rect x="201.09" y="174.31" width="2.58" height="9.79" fill="#f5fafb"/>
<rect x="203.61" y="174.31" width="2.58" height="9.79" fill="#f7fbfb"/>
<rect x="206.12" y="174.31" width="2.58" height="9.79" fill="#f7fbfb"/>
<rect x="208.64" y="174.31" width="2.58" height="9.79" fill="#f5fafb"/>
<rect x="211.15" y="174.31" width="2.58" height="9.79" fill="#f7fbfb"/>
<rect x="213.67" y="174.31" width="2.58" height="9.79" fill="#fbfcfd"/>
<rect x="216.18" y="174.31" width="2.58" height="9.79" fill="#fafcfc"/>
<rect x="218.70" y="174.31" width="2.58" height="9.79" fill="#f9fcfc"/>
<rect x="221.21" y="174.31" width="2.58" height="9.79" fill="#f7fbfb"/>
<rect x="223.73" y="174.31" width="2.58" height="9.79" fill="#f9fcfc"/>
<rect x="226.24" y="174.31" width="2.58" height="9.79" fill="#f5fafb"/>
<rect x="228.76" y="174.31" width="2.58" height="9.79" fill="#fbfcfd"/>
<rect x="231.28" y="174.31" width="2.58" height="9.79" fill="#fbfcfd"/>
<rect x="233.79" y="174.31" width="2.58" height="9.79" fill="#f7fbfb"/>
<rect x="236.31" y="174.31" width="2.58" height="9.79" fill="#f9fcfc"/>
<rect x="238.82" y="174.31" width="2.58" height="9.79" fill="#f9fcfc"/>
<rect x="241.34" y="174.31" width="2.58" height="9.79" fill="#f9fcfc"/>
<rect x="243.85" y="174.31" width="2.58" height="9.79" fill="#f3f9fa"/>
<rect x="246.37" y="174.31" width="2.58" height="9.79" fill="#fbfcfd"/>
<rect x="248.88" y="174.31" width="2.58" height="9.79" fill="#f7fbfb"/>
<rect x="105.50" y="184.04" width="2.58" height="9.79" fill="#fbfcfd"/>
<rect x="108.02" y="184.04" width="2.58" height="9.79" fill="#fbfcfd"/>
<rect x="110.53" y="184.04" width="2.58" height="9.79" fill="#fcfdfd"/>
<rect x="113.05" y="184.04" width="2.58" height="9.79" fill="#fdfefe"/>
<rect x="115.56" y="184.04" width="2.58" height="9.79" fill="#fdfefe"/>
<rect x="118.08" y="184.04" width="2.58" height="9.79" fill="#fafcfc"/>
<rect x="120.59" y="184.04" width="2.58" height="9.79" fill="#fbfcfd"/>
<rect x="123.11" y="184.04" width="2.58" height="9.79" fill="#faebed"/>
<rect x="125.62" y="184.04" width="2.58" height="9.79" fill="#fbfcfd"/>
<rect x="128.14" y="184.04" width="2.58" height="9.79" fill="#fefefe"/>
<rect x="130.66" y="184.04" width="2.58" height="9.79" fill="#fbfcfd"/>
<rect x="133.17" y="184.04" width="2.58" height="9.79" fill="#f7dadd"/>
<rect x="135.69" y="184.04" width="2.58" height="9.79" fill="#fdfefe"/>
<rect x="138.20" y="184.04" width="2.58" height="9.79" fill="#fbfcfd"/>
<rect x="140.72" y="184.04" width="2.58" height="9.79" fill="#fafcfc"/>
<rect x="143.23" y="184.04" width="2.58" height="9.79" fill="#f8e2e4"/>
<rect x="145.75" y="184.04" width="2.58" height="9.79" fill="#fbfcfd"/>
<rect x="148.26" y="184.04" width="2.58" height="9.79" fill="#f4cfd3"/>
<rect x="150.78" y="184.04" width="2.58" height="9.79" fill="#fcf3f4"/>
<rect x="153.29" y="184.04" width="2.58" height="9.79" fill="#f4ced2"/>
<rect x="155.81" y="184.04" width="2.58" height="9.79" fill="#fafcfc"/>
<rect x="158.33" y="184.04" width="2.58" height="9.79" fill="#f8e2e4"/>
<rect x="160.84" y="184.04" width="2.58" height="9.79" fill="#fafcfc"/>
<rect x="163.36" y="184.04" width="2.58" height="9.79" fill="#f8e3e5"/>
<rect x="165.87" y="184.04" width="2.58" height="9.79" fill="#fafcfc"/>
<rect x="168.39" y="184.04" width="2.58" height="9.79" fill="#fcfdfd"/>
<rect x="170.90" y="184.04" width="2.58" height="9.79" fill="#fdfefe"/>
<rect x="173.42" y="184.04" width="2.58" height="9.79" fill="#fefefe"/>
<rect x="175.93" y="184.04" width="2.58" height="9.79" fill="#fbfcfd"/>
<rect x="178.45" y="184.04" width="2.58" height="9.79" fill="#fafcfc"/>
<rect x="180.97" y="184.04" width="2.58" height="9.79" fill="#f7fbfb"/>
<rect x="183.48" y="184.04" width="2.58" height="9.79" fill="#fbfcfd"/>
<rect x="186.00" y="184.04" width="2.58" height="9.79" fill="#f9fcfc"/>
<rect x="188.51" y="184.04" width="2.58" height="9.79" fill="#f7fbfb"/>
<rect x="191.03" y="184.04" width="2.58" height="9.79" fill="#f5fafb"/>
<rect x="193.54" y="184.04" width="2.58" height="9.79" fill="#fafcfc"/>
<rect x="196.06" y="184.04" width="2.58" height="9.79" fill="#fbfcfd"/>
<rect x="198.57" y="184.04" width="2.58" height="9.79" fill="#fafcfc"/>
<rect x="201.09" y="184.04" width="2.58" height="9.79" fill="#f9fcfc"/>
<rect x="203.61" y="184.04" width="2.58" height="9.79" fill="#f9fcfc"/>
<rect x="206.12" y="184.04" width="2.58" height="9.79" fill="#fafcfc"/>
<rect x="208.64" y="184.04" width="2.58" height="9.79" fill="#f9fcfc"/>
<rect x="211.15" y="184.04" width="2.58" height="9.79" fill="#f7fbfb"/>
<rect x="213.67" y="184.04" width="2.58" height="9.79" fill="#fbfcfd"/>
<rect x="216.18" y="184.04" width="2.58" height="9.79" fill="#fbfcfd"/>
<rect x="218.70" y="184.04" width="2.58" height="9.79" fill="#f3f9fa"/>
<rect x="221.21" y="184.04" width="2.58" height="9.79" fill="#fbfcfd"/>
<rect x="223.73" y="184.04" width="2.58" height="9.79" fill="#fafcfc"/>
<rect x="226.24" y="184.04" width="2.58" height="9.79" fill="#fbfcfd"/>
<rect x="228.76" y="184.04" width="2.58" height="9.79" fill="#f3f9fa"/>
<rect x="231.28" y="184.04" width="2.58" height="9.79" fill="#f9fcfc"/>
<rect x="233.79" y="184.04" width="2.58" height="9.79" fill="#fbfcfd"/>
<rect x="236.31" y="184.04" width="2.58" height="9.79" fill="#fafcfc"/>
<rect x="238.82" y="184.04" width="2.58" height="9.79" fill="#fbfcfd"/>
<rect x="241.34" y="184.04" width="2.58" height="9.79" fill="#f8e1e4"/>
<rect x="243.85" y="184.04" width="2.58" height="9.79" fill="#f3f9fa"/>
<rect x="246.37" y="184.04" width="2.58" height="9.79" fill="#f5fafb"/>
<rect x="248.88" y="184.04" width="2.58" height="9.79" fill="#f9fcfc"/>
<rect x="105.50" y="193.77" width="2.58" height="9.79" fill="#fbfdfd"/>
<rect x="108.02" y="193.77" width="2.58" height="9.79" fill="#faecee"/>
<rect x="110.53" y="193.77" width="2.58" height="9.79" fill="#fefefe"/>
<rect x="113.05" y="193.77" width="2.58" height="9.79" fill="#f9e5e7"/>
<rect x="115.56" y="193.77" width="2.58" height="9.79" fill="#f5d3d7"/>
<rect x="118.08" y="193.77" width="2.58" height="9.79" fill="#fbfdfd"/>
<rect x="120.59" y="193.77" width="2.58" height="9.79" fill="#f9fcfc"/>
<rect x="123.11" y="193.77" width="2.58" height="9.79" fill="#fbfdfd"/>
<rect x="125.62" y="193.77" width="2.58" height="9.79" fill="#f9fcfc"/>
<rect x="128.14" y="193.77" width="2.58" height="9.79" fill="#f7fbfb"/>
<rect x="130.66" y="193.77" width="2.58" height="9.79" fill="#fbfdfd"/>
<rect x="133.17" y="193.77" width="2.58" height="9.79" fill="#fdfdfd"/>
<rect x="135.69" y="193.77" width="2.58" height="9.79" fill="#fdfdfd"/>
<rect x="138.20" y="193.77" width="2.58" height="9.79" fill="#f9fcfc"/>
<rect x="140.72" y="193.77" width="2.58" height="9.79" fill="#f7dcdf"/>
<rect x="143.23" y="193.77" width="2.58" height="9.79" fill="#f9e4e6"/>
<rect x="145.75" y="193.77" width="2.58" height="9.79" fill="#f9fcfc"/>
<rect x="148.26" y="193.77" width="2.58" height="9.79" fill="#fbf0f1"/>
<rect x="150.78" y="193.77" width="2.58" height="9.79" fill="#fcf3f4"/>
<rect x="153.29" y="193.77" width="2.58" height="9.79" fill="#fbfdfd"/>
<rect x="155.81" y="193.77" width="2.58" height="9.79" fill="#f9fcfc"/>
<rect x="158.33" y="193.77" width="2.58" height="9.79" fill="#fbfdfd"/>
<rect x="160.84" y="193.77" width="2.58" height="9.79" fill="#fefefe"/>
<rect x="163.36" y="193.77" width="2.58" height="9.79" fill="#fbfdfd"/>
<rect x="165.87" y="193.77" width="2.58" height="9.79" fill="#fbfdfd"/>
<rect x="168.39" y="193.77" width="2.58" height="9.79" fill="#fefefe"/>
<rect x="170.90" y="193.77" width="2.58" height="9.79" fill="#f7fbfb"/>
<rect x="173.42" y="193.77" width="2.58" height="9.79" fill="#fdfdfd"/>
<rect x="175.93" y="193.77" width="2.58" height="9.79" fill="#f9fcfc"/>
<rect x="178.45" y="193.77" width="2.58" height="9.79" fill="#f1f8f9"/>
<rect x="180.97" y="193.77" width="2.58" height="9.79" fill="#f7fbfb"/>
<rect x="183.48" y="193.77" width="2.58" height="9.79" fill="#f6fbfb"/>
<rect x="186.00" y="193.77" width="2.58" height="9.79" fill="#f4fafa"/>
<rect x="188.51" y="193.77" width="2.58" height="9.79" fill="#f4fafa"/>
<rect x="191.03" y="193.77" width="2.58" height="9.79" fill="#f9fcfc"/>
<rect x="193.54" y="193.77" width="2.58" height="9.79" fill="#f4fafa"/>
<rect x="196.06" y="193.77" width="2.58" height="9.79" fill="#fae9ea"/>
<rect x="198.57" y="193.77" width="2.58" height="9.79" fill="#f4fafa"/>
<rect x="201.09" y="193.77" width="2.58" height="9.79" fill="#edf7f7"/>
<rect x="203.61" y="193.77" width="2.58" height="9.79" fill="#edf7f7"/>
<rect x="206.12" y="193.77" width="2.58" height="9.79" fill="#f4fafa"/>
<rect x="208.64" y="193.77" width="2.58" height="9.79" fill="#f1f8f9"/>
<rect x="211.15" y="193.77" width="2.58" height="9.79" fill="#f9fcfc"/>
<rect x="213.67" y="193.77" width="2.58" height="9.79" fill="#f4fafa"/>
<rect x="216.18" y="193.77" width="2.58" height="9.79" fill="#f1f8f9"/>
<rect x="218.70" y="193.77" width="2.58" height="9.79" fill="#f1f8f9"/>
<rect x="221.21" y="193.77" width="2.58" height="9.79" fill="#f9fcfc"/>
<rect x="223.73" y="193.77" width="2.58" height="9.79" fill="#f7fbfb"/>
<rect x="226.24" y="193.77" width="2.58" height="9.79" fill="#f1f8f9"/>
<rect x="228.76" y="193.77" width="2.58" height="9.79" fill="#edf7f7"/>
<rect x="231.28" y="193.77" width="2.58" height="9.79" fill="#f6fbfb"/>
<rect x="233.79" y="193.77" width="2.58" height="9.79" fill="#f6fbfb"/>
<rect x="236.31" y="193.77" width="2.58" height="9.79" fill="#f1f8f9"/>
<rect x="238.82" y="193.77" width="2.58" height="9.79" fill="#edf7f7"/>
<rect x="241.34" y="193.77" width="2.58" height="9.79" fill="#f7fbfb"/>
<rect x="243.85" y="193.77" width="2.58" height="9.79" fill="#f6fbfb"/>
<rect x="246.37" y="193.77" width="2.58" height="9.79" fill="#f4fafa"/>
<rect x="248.88" y="193.77" width="2.58" height="9.79" fill="#f1f8f9"/>
<rect x="105.50" y="203.50" width="2.58" height="9.79" fill="#f7fbfb"/>
<rect x="108.02" y="203.50" width="2.58" height="9.79" fill="#fcf4f5"/>
<rect x="110.53" y="203.50" width="2.58" height="9.79" fill="#f9fcfc"/>
<rect x="113.05" y="203.50" width="2.58" height="9.79" fill="#f8e2e5"/>
<rect x="115.56" y="203.50" width="2.58" height="9.79" fill="#f8dfe1"/>
<rect x="118.08" y="203.50" width="2.58" height="9.79" fill="#f7fbfb"/>
<rect x="120.59" y="203.50" width="2.58" height="9.79" fill="#f7fbfb"/>
<rect x="123.11" y="203.50" width="2.58" height="9.79" fill="#fefefe"/>
<rect x="125.62" y="203.50" width="2.58" height="9.79" fill="#fbfdfd"/>
<rect x="128.14" y="203.50" width="2.58" height="9.79" fill="#fcf6f7"/>
<rect x="130.66" y="203.50" width="2.58" height="9.79" fill="#f9fcfc"/>
<rect x="133.17" y="203.50" width="2.58" height="9.79" fill="#f9fcfc"/>
<rect x="135.69" y="203.50" width="2.58" height="9.79" fill="#f7fbfb"/>
<rect x="138.20" y="203.50" width="2.58" height="9.79" fill="#fdfdfd"/>
<rect x="140.72" y="203.50" width="2.58" height="9.79" fill="#f8e0e2"/>
<rect x="143.23" y="203.50" width="2.58" height="9.79" fill="#f9fcfc"/>
<rect x="145.75" y="203.50" width="2.58" height="9.79" fill="#fbeff0"/>
<rect x="148.26" y="203.50" width="2.58" height="9.79" fill="#fbeff0"/>
<rect x="150.78" y="203.50" width="2.58" height="9.79" fill="#fdf7f8"/>
<rect x="153.29" y="203.50" width="2.58" height="9.79" fill="#fefefe"/>
<rect x="155.81" y="203.50" width="2.58" height="9.79" fill="#f9fcfc"/>
<rect x="158.33" y="203.50" width="2.58" height="9.79" fill="#f7dee1"/>
<rect x="160.84" y="203.50" width="2.58" height="9.79" fill="#fefefe"/>
<rect x="163.36" y="203.50" width="2.58" height="9.79" fill="#fdfdfd"/>
<rect x="165.87" y="203.50" width="2.58" height="9.79" fill="#fefefe"/>
<rect x="168.39" y="203.50" width="2.58" height="9.79" fill="#f9fcfc"/>
<rect x="170.90" y="203.50" width="2.58" height="9.79" fill="#f7fbfb"/>
<rect x="173.42" y="203.50" width="2.58" height="9.79" fill="#fdfdfd"/>
<rect x="175.93" y="203.50" width="2.58" height="9.79" fill="#f9fcfc"/>
<rect x="178.45" y="203.50" width="2.58" height="9.79" fill="#f9fcfc"/>
<rect x="180.97" y="203.50" width="2.58" height="9.79" fill="#f9fcfc"/>
<rect x="183.48" y="203.50" width="2.58" height="9.79" fill="#f4fafa"/>
<rect x="186.00" y="203.50" width="2.58" height="9.79" fill="#f4fafa"/>
<rect x="188.51" y="203.50" width="2.58" height="9.79" fill="#f7fbfb"/>
<rect x="191.03" y="203.50" width="2.58" height="9.79" fill="#f9fcfc"/>
<rect x="193.54" y="203.50" width="2.58" height="9.79" fill="#f6fbfb"/>
<rect x="196.06" y="203.50" width="2.58" height="9.79" fill="#fbeff0"/>
<rect x="198.57" y="203.50" width="2.58" height="9.79" fill="#edf7f7"/>
<rect x="201.09" y="203.50" width="2.58" height="9.79" fill="#f1f8f9"/>
<rect x="203.61" y="203.50" width="2.58" height="9.79" fill="#edf7f7"/>
<rect x="206.12" y="203.50" width="2.58" height="9.79" fill="#f6fbfb"/>
<rect x="208.64" y="203.50" width="2.58" height="9.79" fill="#edf7f7"/>
<rect x="211.15" y="203.50" width="2.58" height="9.79" fill="#f7fbfb"/>
<rect x="213.67" y="203.50" width="2.58" height="9.79" fill="#f7fbfb"/>
<rect x="216.18" y="203.50" width="2.58" height="9.79" fill="#f4fafa"/>
<rect x="218.70" y="203.50" width="2.58" height="9.79" fill="#f1f8f9"/>
<rect x="221.21" y="203.50" width="2.58" height="9.79" fill="#f4fafa"/>
<rect x="223.73" y="203.50" width="2.58" height="9.79" fill="#edf7f7"/>
<rect x="226.24" y="203.50" width="2.58" height="9.79" fill="#f1f8f9"/>
<rect x="228.76" y="203.50" width="2.58" height="9.79" fill="#f6fbfb"/>
<rect x="231.28" y="203.50" width="2.58" height="9.79" fill="#f9fcfc"/>
<rect x="233.79" y="203.50" width="2.58" height="9.79" fill="#f1f8f9"/>
<rect x="236.31" y="203.50" width="2.58" height="9.79" fill="#f6fbfb"/>
<rect x="238.82" y="203.50" width="2.58" height="9.79" fill="#f9fcfc"/>
<rect x="241.34" y="203.50" width="2.58" height="9.79" fill="#f4fafa"/>
<rect x="243.85" y="203.50" width="2.58" height="9.79" fill="#f9fcfc"/>
<rect x="246.37" y="203.50" width="2.58" height="9.79" fill="#f7fbfb"/>
<rect x="248.88" y="203.50" width="2.58" height="9.79" fill="#f7fbfb"/>
<rect x="105.50" y="213.22" width="2.58" height="9.79" fill="#f7fbfb"/>
<rect x="108.02" y="213.22" width="2.58" height="9.79" fill="#fae9eb"/>
<rect x="110.53" y="213.22" width="2.58" height="9.79" fill="#f6d7da"/>
<rect x="113.05" y="213.22" width="2.58" height="9.79" fill="#f5d1d5"/>
<rect x="115.56" y="213.22" width="2.58" height="9.79" fill="#f9e4e6"/>
<rect x="118.08" y="213.22" width="2.58" height="9.79" fill="#f9fcfc"/>
<rect x="120.59" y="213.22" width="2.58" height="9.79" fill="#fefefe"/>
<rect x="123.11" y="213.22" width="2.58" height="9.79" fill="#f9fcfc"/>
<rect x="125.62" y="213.22" width="2.58" height="9.79" fill="#faeaec"/>
<rect x="128.14" y="213.22" width="2.58" height="9.79" fill="#fcf5f5"/>
<rect x="130.66" y="213.22" width="2.58" height="9.79" fill="#fdfdfd"/>
<rect x="133.17" y="213.22" width="2.58" height="9.79" fill="#faebed"/>
<rect x="135.69" y="213.22" width="2.58" height="9.79" fill="#fbfdfd"/>
<rect x="138.20" y="213.22" width="2.58" height="9.79" fill="#fefefe"/>
<rect x="140.72" y="213.22" width="2.58" height="9.79" fill="#fbf0f1"/>
<rect x="143.23" y="213.22" width="2.58" height="9.79" fill="#f7fbfb"/>
<rect x="145.75" y="213.22" width="2.58" height="9.79" fill="#f6d5d8"/>
<rect x="148.26" y="213.22" width="2.58" height="9.79" fill="#f9fcfc"/>
<rect x="150.78" y="213.22" width="2.58" height="9.79" fill="#f6d7da"/>
<rect x="153.29" y="213.22" width="2.58" height="9.79" fill="#fefefe"/>
<rect x="155.81" y="213.22" width="2.58" height="9.79" fill="#f9e3e6"/>
<rect x="158.33" y="213.22" width="2.58" height="9.79" fill="#f9fcfc"/>
<rect x="160.84" y="213.22" width="2.58" height="9.79" fill="#f8e0e2"/>
<rect x="163.36" y="213.22" width="2.58" height="9.79" fill="#fdfdfd"/>
<rect x="165.87" y="213.22" width="2.58" height="9.79" fill="#f6d9dc"/>
<rect x="168.39" y="213.22" width="2.58" height="9.79" fill="#faebed"/>
<rect x="170.90" y="213.22" width="2.58" height="9.79" fill="#fdfdfd"/>
<rect x="173.42" y="213.22" width="2.58" height="9.79" fill="#f4cbcf"/>
<rect x="175.93" y="213.22" width="2.58" height="9.79" fill="#edf7f7"/>
<rect x="178.45" y="213.22" width="2.58" height="9.79" fill="#faebec"/>
<rect x="180.97" y="213.22" width="2.58" height="9.79" fill="#f7fbfb"/>
<rect x="183.48" y="213.22" width="2.58" height="9.79" fill="#f4fafa"/>
<rect x="186.00" y="213.22" width="2.58" height="9.79" fill="#f7fbfb"/>
<rect x="188.51" y="213.22" width="2.58" height="9.79" fill="#f6fbfb"/>
<rect x="191.03" y="213.22" width="2.58" height="9.79" fill="#f4fafa"/>
<rect x="193.54" y="213.22" width="2.58" height="9.79" fill="#f9fcfc"/>
<rect x="196.06" y="213.22" width="2.58" height="9.79" fill="#f4fafa"/>
<rect x="198.57" y="213.22" width="2.58" height="9.79" fill="#f6fbfb"/>
<rect x="201.09" y="213.22" width="2.58" height="9.79" fill="#f9fcfc"/>
<rect x="203.61" y="213.22" width="2.58" height="9.79" fill="#f4fafa"/>
<rect x="206.12" y="213.22" width="2.58" height="9.79" fill="#f6fbfb"/>
<rect x="208.64" y="213.22" width="2.58" height="9.79" fill="#edf7f7"/>
<rect x="211.15" y="213.22" width="2.58" height="9.79" fill="#f6fbfb"/>
<rect x="213.67" y="213.22" width="2.58" height="9.79" fill="#f1f8f9"/>
<rect x="216.18" y="213.22" width="2.58" height="9.79" fill="#edf7f7"/>
<rect x="218.70" y="213.22" width="2.58" height="9.79" fill="#f7fbfb"/>
<rect x="221.21" y="213.22" width="2.58" height="9.79" fill="#faeaeb"/>
<rect x="223.73" y="213.22" width="2.58" height="9.79" fill="#edf7f7"/>
<rect x="226.24" y="213.22" width="2.58" height="9.79" fill="#f6fbfb"/>
<rect x="228.76" y="213.22" width="2.58" height="9.79" fill="#f6fbfb"/>
<rect x="231.28" y="213.22" width="2.58" height="9.79" fill="#edf7f7"/>
<rect x="233.79" y="213.22" width="2.58" height="9.79" fill="#f1f8f9"/>
<rect x="236.31" y="213.22" width="2.58" height="9.79" fill="#f9fcfc"/>
<rect x="238.82" y="213.22" width="2.58" height="9.79" fill="#edf7f7"/>
<rect x="241.34" y="213.22" width="2.58" height="9.79" fill="#f6fbfb"/>
<rect x="243.85" y="213.22" width="2.58" height="9.79" fill="#f6fbfb"/>
<rect x="246.37" y="213.22" width="2.58" height="9.79" fill="#f6fbfb"/>
<rect x="248.88" y="213.22" width="2.58" height="9.79" fill="#f7fbfb"/>
<rect x="105.50" y="222.95" width="2.58" height="9.79" fill="#fdfdfd"/>
<rect x="108.02" y="222.95" width="2.58" height="9.79" fill="#faecee"/>
<rect x="110.53" y="222.95" width="2.58" height="9.79" fill="#f6d9dc"/>
<rect x="113.05" y="222.95" width="2.58" height="9.79" fill="#fdfdfd"/>
<rect x="115.56" y="222.95" width="2.58" height="9.79" fill="#f8e2e4"/>
<rect x="118.08" y="222.95" width="2.58" height="9.79" fill="#fefefe"/>
<rect x="120.59" y="222.95" width="2.58" height="9.79" fill="#fbfdfd"/>
<rect x="123.11" y="222.95" width="2.58" height="9.79" fill="#fefefe"/>
<rect x="125.62" y="222.95" width="2.58" height="9.79" fill="#f8dfe2"/>
<rect x="128.14" y="222.95" width="2.58" height="9.79" fill="#fcf4f5"/>
<rect x="130.66" y="222.95" width="2.58" height="9.79" fill="#f9fcfc"/>
<rect x="133.17" y="222.95" width="2.58" height="9.79" fill="#fbf0f2"/>
<rect x="135.69" y="222.95" width="2.58" height="9.79" fill="#fdfdfd"/>
<rect x="138.20" y="222.95" width="2.58" height="9.79" fill="#fbfdfd"/>
<rect x="140.72" y="222.95" width="2.58" height="9.79" fill="#fcf4f5"/>
<rect x="143.23" y="222.95" width="2.58" height="9.79" fill="#fefefe"/>
<rect x="145.75" y="222.95" width="2.58" height="9.79" fill="#f8e3e5"/>
<rect x="148.26" y="222.95" width="2.58" height="9.79" fill="#fdfdfd"/>
<rect x="150.78" y="222.95" width="2.58" height="9.79" fill="#f8e1e4"/>
<rect x="153.29" y="222.95" width="2.58" height="9.79" fill="#fbfdfd"/>
<rect x="155.81" y="222.95" width="2.58" height="9.79" fill="#fbfdfd"/>
<rect x="158.33" y="222.95" width="2.58" height="9.79" fill="#f9fcfc"/>
<rect x="160.84" y="222.95" width="2.58" height="9.79" fill="#faeaec"/>
<rect x="163.36" y="222.95" width="2.58" height="9.79" fill="#fefefe"/>
<rect x="165.87" y="222.95" width="2.58" height="9.79" fill="#f6d6d9"/>
<rect x="168.39" y="222.95" width="2.58" height="9.79" fill="#faebed"/>
<rect x="170.90" y="222.95" width="2.58" height="9.79" fill="#fbfdfd"/>
<rect x="173.42" y="222.95" width="2.58" height="9.79" fill="#f8e1e3"/>
<rect x="175.93" y="222.95" width="2.58" height="9.79" fill="#f6fbfb"/>
<rect x="178.45" y="222.95" width="2.58" height="9.79" fill="#fbeeef"/>
<rect x="180.97" y="222.95" width="2.58" height="9.79" fill="#edf7f7"/>
<rect x="183.48" y="222.95" width="2.58" height="9.79" fill="#f7fbfb"/>
<rect x="186.00" y="222.95" width="2.58" height="9.79" fill="#f4fafa"/>
<rect x="188.51" y="222.95" width="2.58" height="9.79" fill="#f7fbfb"/>
<rect x="191.03" y="222.95" width="2.58" height="9.79" fill="#f4fafa"/>
<rect x="193.54" y="222.95" width="2.58" height="9.79" fill="#f4fafa"/>
<rect x="196.06" y="222.95" width="2.58" height="9.79" fill="#f6fbfb"/>
<rect x="198.57" y="222.95" width="2.58" height="9.79" fill="#edf7f7"/>
<rect x="201.09" y="222.95" width="2.58" height="9.79" fill="#f1f8f9"/>
<rect x="203.61" y="222.95" width="2.58" height="9.79" fill="#f1f8f9"/>
<rect x="206.12" y="222.95" width="2.58" height="9.79" fill="#f9fcfc"/>
<rect x="208.64" y="222.95" width="2.58" height="9.79" fill="#edf7f7"/>
<rect x="211.15" y="222.95" width="2.58" height="9.79" fill="#f1f8f9"/>
<rect x="213.67" y="222.95" width="2.58" height="9.79" fill="#f7fbfb"/>
<rect x="216.18" y="222.95" width="2.58" height="9.79" fill="#f9fcfc"/>
<rect x="218.70" y="222.95" width="2.58" height="9.79" fill="#f4fafa"/>
<rect x="221.21" y="222.95" width="2.58" height="9.79" fill="#f9e6e8"/>
<rect x="223.73" y="222.95" width="2.58" height="9.79" fill="#edf7f7"/>
<rect x="226.24" y="222.95" width="2.58" height="9.79" fill="#edf7f7"/>
<rect x="228.76" y="222.95" width="2.58" height="9.79" fill="#f1f8f9"/>
<rect x="231.28" y="222.95" width="2.58" height="9.79" fill="#f6fbfb"/>
<rect x="233.79" y="222.95" width="2.58" height="9.79" fill="#edf7f7"/>
<rect x="236.31" y="222.95" width="2.58" height="9.79" fill="#f6fbfb"/>
<rect x="238.82" y="222.95" width="2.58" height="9.79" fill="#f9fcfc"/>
<rect x="241.34" y="222.95" width="2.58" height="9.79" fill="#f9fcfc"/>
<rect x="243.85" y="222.95" width="2.58" height="9.79" fill="#edf7f7"/>
<rect x="246.37" y="222.95" width="2.58" height="9.79" fill="#f1f8f9"/>
<rect x="248.88" y="222.95" width="2.58" height="9.79" fill="#f6fbfb"/>
<rect x="105.50" y="232.68" width="2.58" height="9.79" fill="#fefefe"/>
<rect x="108.02" y="232.68" width="2.58" height="9.79" fill="#fefefe"/>
<rect x="110.53" y="232.68" width="2.58" height="9.79" fill="#f6fbfb"/>
<rect x="113.05" y="232.68" width="2.58" height="9.79" fill="#f9e6e8"/>
<rect x="115.56" y="232.68" width="2.58" height="9.79" fill="#f4cbcf"/>
<rect x="118.08" y="232.68" width="2.58" height="9.79" fill="#f6d7da"/>
<rect x="120.59" y="232.68" width="2.58" height="9.79" fill="#f6fbfb"/>
<rect x="123.11" y="232.68" width="2.58" height="9.79" fill="#f7dddf"/>
<rect x="125.62" y="232.68" width="2.58" height="9.79" fill="#fcfdfd"/>
<rect x="128.14" y="232.68" width="2.58" height="9.79" fill="#fcfdfd"/>
<rect x="130.66" y="232.68" width="2.58" height="9.79" fill="#f6fbfb"/>
<rect x="133.17" y="232.68" width="2.58" height="9.79" fill="#f6d5d8"/>
<rect x="135.69" y="232.68" width="2.58" height="9.79" fill="#f6fbfb"/>
<rect x="138.20" y="232.68" width="2.58" height="9.79" fill="#f8fbfc"/>
<rect x="140.72" y="232.68" width="2.58" height="9.79" fill="#faecee"/>
<rect x="143.23" y="232.68" width="2.58" height="9.79" fill="#fafcfd"/>
<rect x="145.75" y="232.68" width="2.58" height="9.79" fill="#fdf8f8"/>
<rect x="148.26" y="232.68" width="2.58" height="9.79" fill="#fefefe"/>
<rect x="150.78" y="232.68" width="2.58" height="9.79" fill="#f8fbfc"/>
<rect x="153.29" y="232.68" width="2.58" height="9.79" fill="#fcfdfd"/>
<rect x="155.81" y="232.68" width="2.58" height="9.79" fill="#fafcfd"/>
<rect x="158.33" y="232.68" width="2.58" height="9.79" fill="#f6fbfb"/>
<rect x="160.84" y="232.68" width="2.58" height="9.79" fill="#f8fbfc"/>
<rect x="163.36" y="232.68" width="2.58" height="9.79" fill="#fcf5f5"/>
<rect x="165.87" y="232.68" width="2.58" height="9.79" fill="#fafcfd"/>
<rect x="168.39" y="232.68" width="2.58" height="9.79" fill="#fafcfd"/>
<rect x="170.90" y="232.68" width="2.58" height="9.79" fill="#f8fbfc"/>
<rect x="173.42" y="232.68" width="2.58" height="9.79" fill="#f8fbfc"/>
<rect x="175.93" y="232.68" width="2.58" height="9.79" fill="#f8fbfc"/>
<rect x="178.45" y="232.68" width="2.58" height="9.79" fill="#eaf5f6"/>
<rect x="180.97" y="232.68" width="2.58" height="9.79" fill="#f8fbfc"/>
<rect x="183.48" y="232.68" width="2.58" height="9.79" fill="#eff7f8"/>
<rect x="186.00" y="232.68" width="2.58" height="9.79" fill="#eaf5f6"/>
<rect x="188.51" y="232.68" width="2.58" height="9.79" fill="#eaf5f6"/>
<rect x="191.03" y="232.68" width="2.58" height="9.79" fill="#f8fbfc"/>
<rect x="193.54" y="232.68" width="2.58" height="9.79" fill="#f6fbfb"/>
<rect x="196.06" y="232.68" width="2.58" height="9.79" fill="#eaf5f6"/>
<rect x="198.57" y="232.68" width="2.58" height="9.79" fill="#eaf5f6"/>
<rect x="201.09" y="232.68" width="2.58" height="9.79" fill="#eff7f8"/>
<rect x="203.61" y="232.68" width="2.58" height="9.79" fill="#f3f9fa"/>
<rect x="206.12" y="232.68" width="2.58" height="9.79" fill="#f6fbfb"/>
<rect x="208.64" y="232.68" width="2.58" height="9.79" fill="#f5fafa"/>
<rect x="211.15" y="232.68" width="2.58" height="9.79" fill="#f5fafa"/>
<rect x="213.67" y="232.68" width="2.58" height="9.79" fill="#eaf5f6"/>
<rect x="216.18" y="232.68" width="2.58" height="9.79" fill="#eaf5f6"/>
<rect x="218.70" y="232.68" width="2.58" height="9.79" fill="#f3f9fa"/>
<rect x="221.21" y="232.68" width="2.58" height="9.79" fill="#f8fbfc"/>
<rect x="223.73" y="232.68" width="2.58" height="9.79" fill="#f5fafa"/>
<rect x="226.24" y="232.68" width="2.58" height="9.79" fill="#f5fafa"/>
<rect x="228.76" y="232.68" width="2.58" height="9.79" fill="#f3f9fa"/>
<rect x="231.28" y="232.68" width="2.58" height="9.79" fill="#f8fbfc"/>
<rect x="233.79" y="232.68" width="2.58" height="9.79" fill="#f8fbfc"/>
<rect x="236.31" y="232.68" width="2.58" height="9.79" fill="#f8fbfc"/>
<rect x="238.82" y="232.68" width="2.58" height="9.79" fill="#eaf5f6"/>
<rect x="241.34" y="232.68" width="2.58" height="9.79" fill="#f8fbfc"/>
<rect x="243.85" y="232.68" width="2.58" height="9.79" fill="#f8fbfc"/>
<rect x="246.37" y="232.68" width="2.58" height="9.79" fill="#eaf5f6"/>
<rect x="248.88" y="232.68" width="2.58" height="9.79" fill="#eff7f8"/>
<rect x="105.50" y="242.41" width="2.58" height="9.79" fill="#fcfdfd"/>
<rect x="108.02" y="242.41" width="2.58" height="9.79" fill="#fefefe"/>
<rect x="110.53" y="242.41" width="2.58" height="9.79" fill="#fcfdfd"/>
<rect x="113.05" y="242.41" width="2.58" height="9.79" fill="#f8fbfc"/>
<rect x="115.56" y="242.41" width="2.58" height="9.79" fill="#f2c6cb"/>
<rect x="118.08" y="242.41" width="2.58" height="9.79" fill="#f7dde0"/>
<rect x="120.59" y="242.41" width="2.58" height="9.79" fill="#fcfdfd"/>
<rect x="123.11" y="242.41" width="2.58" height="9.79" fill="#fcfdfd"/>
<rect x="125.62" y="242.41" width="2.58" height="9.79" fill="#fefefe"/>
<rect x="128.14" y="242.41" width="2.58" height="9.79" fill="#fafcfd"/>
<rect x="130.66" y="242.41" width="2.58" height="9.79" fill="#fafcfd"/>
<rect x="133.17" y="242.41" width="2.58" height="9.79" fill="#f5d3d7"/>
<rect x="135.69" y="242.41" width="2.58" height="9.79" fill="#f6fbfb"/>
<rect x="138.20" y="242.41" width="2.58" height="9.79" fill="#f8fbfc"/>
<rect x="140.72" y="242.41" width="2.58" height="9.79" fill="#f9e4e6"/>
<rect x="143.23" y="242.41" width="2.58" height="9.79" fill="#f6fbfb"/>
<rect x="145.75" y="242.41" width="2.58" height="9.79" fill="#fdf8f8"/>
<rect x="148.26" y="242.41" width="2.58" height="9.79" fill="#f8fbfc"/>
<rect x="150.78" y="242.41" width="2.58" height="9.79" fill="#fcfdfd"/>
<rect x="153.29" y="242.41" width="2.58" height="9.79" fill="#fefefe"/>
<rect x="155.81" y="242.41" width="2.58" height="9.79" fill="#fefefe"/>
<rect x="158.33" y="242.41" width="2.58" height="9.79" fill="#fafcfd"/>
<rect x="160.84" y="242.41" width="2.58" height="9.79" fill="#fafcfd"/>
<rect x="163.36" y="242.41" width="2.58" height="9.79" fill="#fcf5f5"/>
<rect x="165.87" y="242.41" width="2.58" height="9.79" fill="#fdf7f8"/>
<rect x="168.39" y="242.41" width="2.58" height="9.79" fill="#fafcfd"/>
<rect x="170.90" y="242.41" width="2.58" height="9.79" fill="#fcfdfd"/>
<rect x="173.42" y="242.41" width="2.58" height="9.79" fill="#f6fbfb"/>
<rect x="175.93" y="242.41" width="2.58" height="9.79" fill="#eff7f8"/>
<rect x="178.45" y="242.41" width="2.58" height="9.79" fill="#f8fbfc"/>
<rect x="180.97" y="242.41" width="2.58" height="9.79" fill="#eff7f8"/>
<rect x="183.48" y="242.41" width="2.58" height="9.79" fill="#f8fbfc"/>
<rect x="186.00" y="242.41" width="2.58" height="9.79" fill="#eaf5f6"/>
<rect x="188.51" y="242.41" width="2.58" height="9.79" fill="#f8fbfc"/>
<rect x="191.03" y="242.41" width="2.58" height="9.79" fill="#eff7f8"/>
<rect x="193.54" y="242.41" width="2.58" height="9.79" fill="#f5fafa"/>
<rect x="196.06" y="242.41" width="2.58" height="9.79" fill="#f8fbfc"/>
<rect x="198.57" y="242.41" width="2.58" height="9.79" fill="#f8fbfc"/>
<rect x="201.09" y="242.41" width="2.58" height="9.79" fill="#f3f9fa"/>
<rect x="203.61" y="242.41" width="2.58" height="9.79" fill="#f8fbfc"/>
<rect x="206.12" y="242.41" width="2.58" height="9.79" fill="#eff7f8"/>
<rect x="208.64" y="242.41" width="2.58" height="9.79" fill="#f6fbfb"/>
<rect x="211.15" y="242.41" width="2.58" height="9.79" fill="#eff7f8"/>
<rect x="213.67" y="242.41" width="2.58" height="9.79" fill="#f3f9fa"/>
<rect x="216.18" y="242.41" width="2.58" height="9.79" fill="#f8fbfc"/>
<rect x="218.70" y="242.41" width="2.58" height="9.79" fill="#eaf5f6"/>
<rect x="221.21" y="242.41" width="2.58" height="9.79" fill="#f6fbfb"/>
<rect x="223.73" y="242.41" width="2.58" height="9.79" fill="#f3f9fa"/>
<rect x="226.24" y="242.41" width="2.58" height="9.79" fill="#f5fafa"/>
<rect x="228.76" y="242.41" width="2.58" height="9.79" fill="#f8fbfc"/>
<rect x="231.28" y="242.41" width="2.58" height="9.79" fill="#f8fbfc"/>
<rect x="233.79" y="242.41" width="2.58" height="9.79" fill="#f8fbfc"/>
<rect x="236.31" y="242.41" width="2.58" height="9.79" fill="#eaf5f6"/>
<rect x="238.82" y="242.41" width="2.58" height="9.79" fill="#f6fbfb"/>
<rect x="241.34" y="242.41" width="2.58" height="9.79" fill="#f3f9fa"/>
<rect x="243.85" y="242.41" width="2.58" height="9.79" fill="#f5fafa"/>
<rect x="246.37" y="242.41" width="2.58" height="9.79" fill="#f5fafa"/>
<rect x="248.88" y="242.41" width="2.58" height="9.79" fill="#f6fbfb"/>
<rect x="105.50" y="252.13" width="2.58" height="9.79" fill="#fafcfd"/>
<rect x="108.02" y="252.13" width="2.58" height="9.79" fill="#f6fbfb"/>
<rect x="110.53" y="252.13" width="2.58" height="9.79" fill="#f8fbfc"/>
<rect x="113.05" y="252.13" width="2.58" height="9.79" fill="#f9e5e7"/>
<rect x="115.56" y="252.13" width="2.58" height="9.79" fill="#f2c3c8"/>
<rect x="118.08" y="252.13" width="2.58" height="9.79" fill="#fefefe"/>
<rect x="120.59" y="252.13" width="2.58" height="9.79" fill="#f6fbfb"/>
<rect x="123.11" y="252.13" width="2.58" height="9.79" fill="#f6d8db"/>
<rect x="125.62" y="252.13" width="2.58" height="9.79" fill="#fafcfd"/>
<rect x="128.14" y="252.13" width="2.58" height="9.79" fill="#f6fbfb"/>
<rect x="130.66" y="252.13" width="2.58" height="9.79" fill="#f8fbfc"/>
<rect x="133.17" y="252.13" width="2.58" height="9.79" fill="#f6d9dd"/>
<rect x="135.69" y="252.13" width="2.58" height="9.79" fill="#f6fbfb"/>
<rect x="138.20" y="252.13" width="2.58" height="9.79" fill="#f8fbfc"/>
<rect x="140.72" y="252.13" width="2.58" height="9.79" fill="#fcfdfd"/>
<rect x="143.23" y="252.13" width="2.58" height="9.79" fill="#f9e6e8"/>
<rect x="145.75" y="252.13" width="2.58" height="9.79" fill="#fcf6f6"/>
<rect x="148.26" y="252.13" width="2.58" height="9.79" fill="#fefefe"/>
<rect x="150.78" y="252.13" width="2.58" height="9.79" fill="#fafcfd"/>
<rect x="153.29" y="252.13" width="2.58" height="9.79" fill="#fafcfd"/>
<rect x="155.81" y="252.13" width="2.58" height="9.79" fill="#fcfdfd"/>
<rect x="158.33" y="252.13" width="2.58" height="9.79" fill="#fafcfd"/>
<rect x="160.84" y="252.13" width="2.58" height="9.79" fill="#f6fbfb"/>
<rect x="163.36" y="252.13" width="2.58" height="9.79" fill="#fafcfd"/>
<rect x="165.87" y="252.13" width="2.58" height="9.79" fill="#fcf5f6"/>
<rect x="168.39" y="252.13" width="2.58" height="9.79" fill="#fcfdfd"/>
<rect x="170.90" y="252.13" width="2.58" height="9.79" fill="#f8fbfc"/>
<rect x="173.42" y="252.13" width="2.58" height="9.79" fill="#fcfdfd"/>
<rect x="175.93" y="252.13" width="2.58" height="9.79" fill="#f5fafa"/>
<rect x="178.45" y="252.13" width="2.58" height="9.79" fill="#f8fbfc"/>
<rect x="180.97" y="252.13" width="2.58" height="9.79" fill="#f6fbfb"/>
<rect x="183.48" y="252.13" width="2.58" height="9.79" fill="#eaf5f6"/>
<rect x="186.00" y="252.13" width="2.58" height="9.79" fill="#eff7f8"/>
<rect x="188.51" y="252.13" width="2.58" height="9.79" fill="#eff7f8"/>
<rect x="191.03" y="252.13" width="2.58" height="9.79" fill="#f5fafa"/>
<rect x="193.54" y="252.13" width="2.58" height="9.79" fill="#f5fafa"/>
<rect x="196.06" y="252.13" width="2.58" height="9.79" fill="#f6fbfb"/>
<rect x="198.57" y="252.13" width="2.58" height="9.79" fill="#f8fbfc"/>
<rect x="201.09" y="252.13" width="2.58" height="9.79" fill="#f3f9fa"/>
<rect x="203.61" y="252.13" width="2.58" height="9.79" fill="#f8fbfc"/>
<rect x="206.12" y="252.13" width="2.58" height="9.79" fill="#f8fbfc"/>
<rect x="208.64" y="252.13" width="2.58" height="9.79" fill="#eff7f8"/>
<rect x="211.15" y="252.13" width="2.58" height="9.79" fill="#f6fbfb"/>
<rect x="213.67" y="252.13" width="2.58" height="9.79" fill="#f5fafa"/>
<rect x="216.18" y="252.13" width="2.58" height="9.79" fill="#eaf5f6"/>
<rect x="218.70" y="252.13" width="2.58" height="9.79" fill="#f5fafa"/>
<rect x="221.21" y="252.13" width="2.58" height="9.79" fill="#f5fafa"/>
<rect x="223.73" y="252.13" width="2.58" height="9.79" fill="#f8fbfc"/>
<rect x="226.24" y="252.13" width="2.58" height="9.79" fill="#f3f9fa"/>
<rect x="228.76" y="252.13" width="2.58" height="9.79" fill="#f6fbfb"/>
<rect x="231.28" y="252.13" width="2.58" height="9.79" fill="#eaf5f6"/>
<rect x="233.79" y="252.13" width="2.58" height="9.79" fill="#f3f9fa"/>
<rect x="236.31" y="252.13" width="2.58" height="9.79" fill="#f6fbfb"/>
<rect x="238.82" y="252.13" width="2.58" height="9.79" fill="#f3f9fa"/>
<rect x="241.34" y="252.13" width="2.58" height="9.79" fill="#f6fbfb"/>
<rect x="243.85" y="252.13" width="2.58" height="9.79" fill="#eff7f8"/>
<rect x="246.37" y="252.13" width="2.58" height="9.79" fill="#f6fbfb"/>
<rect x="248.88" y="252.13" width="2.58" height="9.79" fill="#f5fafa"/>
<rect x="105.50" y="261.86" width="2.58" height="9.79" fill="#f7fbfb"/>
<rect x="108.02" y="261.86" width="2.58" height="9.79" fill="#fbfdfd"/>
<rect x="110.53" y="261.86" width="2.58" height="9.79" fill="#fdfdfd"/>
<rect x="113.05" y="261.86" width="2.58" height="9.79" fill="#f7dee0"/>
<rect x="115.56" y="261.86" width="2.58" height="9.79" fill="#fdfdfd"/>
<rect x="118.08" y="261.86" width="2.58" height="9.79" fill="#faecee"/>
<rect x="120.59" y="261.86" width="2.58" height="9.79" fill="#f7fbfb"/>
<rect x="123.11" y="261.86" width="2.58" height="9.79" fill="#f7dbde"/>
<rect x="125.62" y="261.86" width="2.58" height="9.79" fill="#fefefe"/>
<rect x="128.14" y="261.86" width="2.58" height="9.79" fill="#f7fbfb"/>
<rect x="130.66" y="261.86" width="2.58" height="9.79" fill="#fbfdfd"/>
<rect x="133.17" y="261.86" width="2.58" height="9.79" fill="#fdfdfd"/>
<rect x="135.69" y="261.86" width="2.58" height="9.79" fill="#f6d8dc"/>
<rect x="138.20" y="261.86" width="2.58" height="9.79" fill="#f7fbfb"/>
<rect x="140.72" y="261.86" width="2.58" height="9.79" fill="#f7fbfb"/>
<rect x="143.23" y="261.86" width="2.58" height="9.79" fill="#f7fbfb"/>
<rect x="145.75" y="261.86" width="2.58" height="9.79" fill="#f9fcfc"/>
<rect x="148.26" y="261.86" width="2.58" height="9.79" fill="#fefefe"/>
<rect x="150.78" y="261.86" width="2.58" height="9.79" fill="#f7fbfb"/>
<rect x="153.29" y="261.86" width="2.58" height="9.79" fill="#f7fbfb"/>
<rect x="155.81" y="261.86" width="2.58" height="9.79" fill="#fbfdfd"/>
<rect x="158.33" y="261.86" width="2.58" height="9.79" fill="#fdfdfd"/>
<rect x="160.84" y="261.86" width="2.58" height="9.79" fill="#fefefe"/>
<rect x="163.36" y="261.86" width="2.58" height="9.79" fill="#f7fbfb"/>
<rect x="165.87" y="261.86" width="2.58" height="9.79" fill="#f9fcfc"/>
<rect x="168.39" y="261.86" width="2.58" height="9.79" fill="#f7fbfb"/>
<rect x="170.90" y="261.86" width="2.58" height="9.79" fill="#fdfdfd"/>
<rect x="173.42" y="261.86" width="2.58" height="9.79" fill="#fefefe"/>
<rect x="175.93" y="261.86" width="2.58" height="9.79" fill="#f4fafa"/>
<rect x="178.45" y="261.86" width="2.58" height="9.79" fill="#fdf9fa"/>
<rect x="180.97" y="261.86" width="2.58" height="9.79" fill="#f6fbfb"/>
<rect x="183.48" y="261.86" width="2.58" height="9.79" fill="#f6fbfb"/>
<rect x="186.00" y="261.86" width="2.58" height="9.79" fill="#f7fbfb"/>
<rect x="188.51" y="261.86" width="2.58" height="9.79" fill="#f7fbfb"/>
<rect x="191.03" y="261.86" width="2.58" height="9.79" fill="#edf7f7"/>
<rect x="193.54" y="261.86" width="2.58" height="9.79" fill="#f4fafa"/>
<rect x="196.06" y="261.86" width="2.58" height="9.79" fill="#f1f8f9"/>
<rect x="198.57" y="261.86" width="2.58" height="9.79" fill="#f9fcfc"/>
<rect x="201.09" y="261.86" width="2.58" height="9.79" fill="#f6fbfb"/>
<rect x="203.61" y="261.86" width="2.58" height="9.79" fill="#f7fbfb"/>
<rect x="206.12" y="261.86" width="2.58" height="9.79" fill="#f4fafa"/>
<rect x="208.64" y="261.86" width="2.58" height="9.79" fill="#f9fcfc"/>
<rect x="211.15" y="261.86" width="2.58" height="9.79" fill="#f4fafa"/>
<rect x="213.67" y="261.86" width="2.58" height="9.79" fill="#edf7f7"/>
<rect x="216.18" y="261.86" width="2.58" height="9.79" fill="#f6fbfb"/>
<rect x="218.70" y="261.86" width="2.58" height="9.79" fill="#f1f8f9"/>
<rect x="221.21" y="261.86" width="2.58" height="9.79" fill="#f6fbfb"/>
<rect x="223.73" y="261.86" width="2.58" height="9.79" fill="#f1f8f9"/>
<rect x="226.24" y="261.86" width="2.58" height="9.79" fill="#f7fbfb"/>
<rect x="228.76" y="261.86" width="2.58" height="9.79" fill="#f1f8f9"/>
<rect x="231.28" y="261.86" width="2.58" height="9.79" fill="#edf7f7"/>
<rect x="233.79" y="261.86" width="2.58" height="9.79" fill="#f6fbfb"/>
<rect x="236.31" y="261.86" width="2.58" height="9.79" fill="#f7fbfb"/>
<rect x="238.82" y="261.86" width="2.58" height="9.79" fill="#edf7f7"/>
<rect x="241.34" y="261.86" width="2.58" height="9.79" fill="#f7fbfb"/>
<rect x="243.85" y="261.86" width="2.58" height="9.79" fill="#f7fbfb"/>
<rect x="246.37" y="261.86" width="2.58" height="9.79" fill="#f7fbfb"/>
<rect x="248.88" y="261.86" width="2.58" height="9.79" fill="#edf7f7"/>
<rect x="105.50" y="271.59" width="2.58" height="9.79" fill="#fdfdfd"/>
<rect x="108.02" y="271.59" width="2.58" height="9.79" fill="#fbfdfd"/>
<rect x="110.53" y="271.59" width="2.58" height="9.79" fill="#f9fcfc"/>
<rect x="113.05" y="271.59" width="2.58" height="9.79" fill="#f6d9dc"/>
<rect x="115.56" y="271.59" width="2.58" height="9.79" fill="#fdfdfd"/>
<rect x="118.08" y="271.59" width="2.58" height="9.79" fill="#f9fcfc"/>
<rect x="120.59" y="271.59" width="2.58" height="9.79" fill="#fefefe"/>
<rect x="123.11" y="271.59" width="2.58" height="9.79" fill="#fdfdfd"/>
<rect x="125.62" y="271.59" width="2.58" height="9.79" fill="#fbfdfd"/>
<rect x="128.14" y="271.59" width="2.58" height="9.79" fill="#f7fbfb"/>
<rect x="130.66" y="271.59" width="2.58" height="9.79" fill="#fdfdfd"/>
<rect x="133.17" y="271.59" width="2.58" height="9.79" fill="#fefefe"/>
<rect x="135.69" y="271.59" width="2.58" height="9.79" fill="#f6d5d8"/>
<rect x="138.20" y="271.59" width="2.58" height="9.79" fill="#fdfdfd"/>
<rect x="140.72" y="271.59" width="2.58" height="9.79" fill="#f9fcfc"/>
<rect x="143.23" y="271.59" width="2.58" height="9.79" fill="#f7fbfb"/>
<rect x="145.75" y="271.59" width="2.58" height="9.79" fill="#f7fbfb"/>
<rect x="148.26" y="271.59" width="2.58" height="9.79" fill="#f7fbfb"/>
<rect x="150.78" y="271.59" width="2.58" height="9.79" fill="#fefefe"/>
<rect x="153.29" y="271.59" width="2.58" height="9.79" fill="#fdfdfd"/>
<rect x="155.81" y="271.59" width="2.58" height="9.79" fill="#f9fcfc"/>
<rect x="158.33" y="271.59" width="2.58" height="9.79" fill="#fbfdfd"/>
<rect x="160.84" y="271.59" width="2.58" height="9.79" fill="#fdfdfd"/>
<rect x="163.36" y="271.59" width="2.58" height="9.79" fill="#fefefe"/>
<rect x="165.87" y="271.59" width="2.58" height="9.79" fill="#f9fcfc"/>
<rect x="168.39" y="271.59" width="2.58" height="9.79" fill="#fbfdfd"/>
<rect x="170.90" y="271.59" width="2.58" height="9.79" fill="#fdfdfd"/>
<rect x="173.42" y="271.59" width="2.58" height="9.79" fill="#fefefe"/>
<rect x="175.93" y="271.59" width="2.58" height="9.79" fill="#f1f8f9"/>
<rect x="178.45" y="271.59" width="2.58" height="9.79" fill="#fcf5f6"/>
<rect x="180.97" y="271.59" width="2.58" height="9.79" fill="#edf7f7"/>
<rect x="183.48" y="271.59" width="2.58" height="9.79" fill="#f4fafa"/>
<rect x="186.00" y="271.59" width="2.58" height="9.79" fill="#f7fbfb"/>
<rect x="188.51" y="271.59" width="2.58" height="9.79" fill="#edf7f7"/>
<rect x="191.03" y="271.59" width="2.58" height="9.79" fill="#edf7f7"/>
<rect x="193.54" y="271.59" width="2.58" height="9.79" fill="#f6fbfb"/>
<rect x="196.06" y="271.59" width="2.58" height="9.79" fill="#f4fafa"/>
<rect x="198.57" y="271.59" width="2.58" height="9.79" fill="#f4fafa"/>
<rect x="201.09" y="271.59" width="2.58" height="9.79" fill="#f9fcfc"/>
<rect x="203.61" y="271.59" width="2.58" height="9.79" fill="#f1f8f9"/>
<rect x="206.12" y="271.59" width="2.58" height="9.79" fill="#f7fbfb"/>
<rect x="208.64" y="271.59" width="2.58" height="9.79" fill="#edf7f7"/>
<rect x="211.15" y="271.59" width="2.58" height="9.79" fill="#f6fbfb"/>
<rect x="213.67" y="271.59" width="2.58" height="9.79" fill="#edf7f7"/>
<rect x="216.18" y="271.59" width="2.58" height="9.79" fill="#f9fcfc"/>
<rect x="218.70" y="271.59" width="2.58" height="9.79" fill="#f7fbfb"/>
<rect x="221.21" y="271.59" width="2.58" height="9.79" fill="#f9fcfc"/>
<rect x="223.73" y="271.59" width="2.58" height="9.79" fill="#f9fcfc"/>
<rect x="226.24" y="271.59" width="2.58" height="9.79" fill="#f9fcfc"/>
<rect x="228.76" y="271.59" width="2.58" height="9.79" fill="#edf7f7"/>
<rect x="231.28" y="271.59" width="2.58" height="9.79" fill="#f6fbfb"/>
<rect x="233.79" y="271.59" width="2.58" height="9.79" fill="#f4fafa"/>
<rect x="236.31" y="271.59" width="2.58" height="9.79" fill="#f4fafa"/>
<rect x="238.82" y="271.59" width="2.58" height="9.79" fill="#f7fbfb"/>
<rect x="241.34" y="271.59" width="2.58" height="9.79" fill="#f7fbfb"/>
<rect x="243.85" y="271.59" width="2.58" height="9.79" fill="#edf7f7"/>
<rect x="246.37" y="271.59" width="2.58" height="9.79" fill="#edf7f7"/>
<rect x="248.88" y="271.59" width="2.58" height="9.79" fill="#f4fafa"/>
<rect x="105.50" y="281.31" width="2.58" height="9.79" fill="#f9fcfc"/>
<rect x="108.02" y="281.31" width="2.58" height="9.79" fill="#fefefe"/>
<rect x="110.53" y="281.31" width="2.58" height="9.79" fill="#f7fbfb"/>
<rect x="113.05" y="281.31" width="2.58" height="9.79" fill="#fbf1f2"/>
<rect x="115.56" y="281.31" width="2.58" height="9.79" fill="#fefefe"/>
<rect x="118.08" y="281.31" width="2.58" height="9.79" fill="#fefefe"/>
<rect x="120.59" y="281.31" width="2.58" height="9.79" fill="#fbfdfd"/>
<rect x="123.11" y="281.31" width="2.58" height="9.79" fill="#f7fbfb"/>
<rect x="125.62" y="281.31" width="2.58" height="9.79" fill="#fbfdfd"/>
<rect x="128.14" y="281.31" width="2.58" height="9.79" fill="#f6d9dc"/>
<rect x="130.66" y="281.31" width="2.58" height="9.79" fill="#fdfdfd"/>
<rect x="133.17" y="281.31" width="2.58" height="9.79" fill="#f5d0d4"/>
<rect x="135.69" y="281.31" width="2.58" height="9.79" fill="#f9fcfc"/>
<rect x="138.20" y="281.31" width="2.58" height="9.79" fill="#fcf6f6"/>
<rect x="140.72" y="281.31" width="2.58" height="9.79" fill="#fdfdfd"/>
<rect x="143.23" y="281.31" width="2.58" height="9.79" fill="#f7fbfb"/>
<rect x="145.75" y="281.31" width="2.58" height="9.79" fill="#fbfdfd"/>
<rect x="148.26" y="281.31" width="2.58" height="9.79" fill="#f9fcfc"/>
<rect x="150.78" y="281.31" width="2.58" height="9.79" fill="#fefefe"/>
<rect x="153.29" y="281.31" width="2.58" height="9.79" fill="#fdfdfd"/>
<rect x="155.81" y="281.31" width="2.58" height="9.79" fill="#fbeeef"/>
<rect x="158.33" y="281.31" width="2.58" height="9.79" fill="#f9fcfc"/>
<rect x="160.84" y="281.31" width="2.58" height="9.79" fill="#fefefe"/>
<rect x="163.36" y="281.31" width="2.58" height="9.79" fill="#fdfdfd"/>
<rect x="165.87" y="281.31" width="2.58" height="9.79" fill="#f7fbfb"/>
<rect x="168.39" y="281.31" width="2.58" height="9.79" fill="#fefefe"/>
<rect x="170.90" y="281.31" width="2.58" height="9.79" fill="#fefefe"/>
<rect x="173.42" y="281.31" width="2.58" height="9.79" fill="#fefefe"/>
<rect x="175.93" y="281.31" width="2.58" height="9.79" fill="#f9fcfc"/>
<rect x="178.45" y="281.31" width="2.58" height="9.79" fill="#f6fbfb"/>
<rect x="180.97" y="281.31" width="2.58" height="9.79" fill="#f1f8f9"/>
<rect x="183.48" y="281.31" width="2.58" height="9.79" fill="#edf7f7"/>
<rect x="186.00" y="281.31" width="2.58" height="9.79" fill="#f4fafa"/>
<rect x="188.51" y="281.31" width="2.58" height="9.79" fill="#f4fafa"/>
<rect x="191.03" y="281.31" width="2.58" height="9.79" fill="#f1f8f9"/>
<rect x="193.54" y="281.31" width="2.58" height="9.79" fill="#edf7f7"/>
<rect x="196.06" y="281.31" width="2.58" height="9.79" fill="#f6fbfb"/>
<rect x="198.57" y="281.31" width="2.58" height="9.79" fill="#f1f8f9"/>
<rect x="201.09" y="281.31" width="2.58" height="9.79" fill="#f1f8f9"/>
<rect x="203.61" y="281.31" width="2.58" height="9.79" fill="#f6fbfb"/>
<rect x="206.12" y="281.31" width="2.58" height="9.79" fill="#f4fafa"/>
<rect x="208.64" y="281.31" width="2.58" height="9.79" fill="#f4fafa"/>
<rect x="211.15" y="281.31" width="2.58" height="9.79" fill="#f9fcfc"/>
<rect x="213.67" y="281.31" width="2.58" height="9.79" fill="#f6fbfb"/>
<rect x="216.18" y="281.31" width="2.58" height="9.79" fill="#edf7f7"/>
<rect x="218.70" y="281.31" width="2.58" height="9.79" fill="#f9fcfc"/>
<rect x="221.21" y="281.31" width="2.58" height="9.79" fill="#f7fbfb"/>
<rect x="223.73" y="281.31" width="2.58" height="9.79" fill="#f7fbfb"/>
<rect x="226.24" y="281.31" width="2.58" height="9.79" fill="#f4fafa"/>
<rect x="228.76" y="281.31" width="2.58" height="9.79" fill="#f1f8f9"/>
<rect x="231.28" y="281.31" width="2.58" height="9.79" fill="#f6fbfb"/>
<rect x="233.79" y="281.31" width="2.58" height="9.79" fill="#edf7f7"/>
<rect x="236.31" y="281.31" width="2.58" height="9.79" fill="#f9fcfc"/>
<rect x="238.82" y="281.31" width="2.58" height="9.79" fill="#f7fbfb"/>
<rect x="241.34" y="281.31" width="2.58" height="9.79" fill="#f7fbfb"/>
<rect x="243.85" y="281.31" width="2.58" height="9.79" fill="#f1f8f9"/>
<rect x="246.37" y="281.31" width="2.58" height="9.79" fill="#f9fcfc"/>
<rect x="248.88" y="281.31" width="2.58" height="9.79" fill="#f7fbfb"/>
<rect x="105.50" y="291.04" width="2.58" height="9.79" fill="#fbfdfd"/>
<rect x="108.02" y="291.04" width="2.58" height="9.79" fill="#fdfdfd"/>
<rect x="110.53" y="291.04" width="2.58" height="9.79" fill="#f8e1e4"/>
<rect x="113.05" y="291.04" width="2.58" height="9.79" fill="#fbedef"/>
<rect x="115.56" y="291.04" width="2.58" height="9.79" fill="#fbfdfd"/>
<rect x="118.08" y="291.04" width="2.58" height="9.79" fill="#fefefe"/>
<rect x="120.59" y="291.04" width="2.58" height="9.79" fill="#f9fcfc"/>
<rect x="123.11" y="291.04" width="2.58" height="9.79" fill="#fdfdfd"/>
<rect x="125.62" y="291.04" width="2.58" height="9.79" fill="#fdfdfd"/>
<rect x="128.14" y="291.04" width="2.58" height="9.79" fill="#f9e7e9"/>
<rect x="130.66" y="291.04" width="2.58" height="9.79" fill="#fbfdfd"/>
<rect x="133.17" y="291.04" width="2.58" height="9.79" fill="#f8dfe2"/>
<rect x="135.69" y="291.04" width="2.58" height="9.79" fill="#f9fcfc"/>
<rect x="138.20" y="291.04" width="2.58" height="9.79" fill="#fcf6f7"/>
<rect x="140.72" y="291.04" width="2.58" height="9.79" fill="#f7fbfb"/>
<rect x="143.23" y="291.04" width="2.58" height="9.79" fill="#f7fbfb"/>
<rect x="145.75" y="291.04" width="2.58" height="9.79" fill="#f7fbfb"/>
<rect x="148.26" y="291.04" width="2.58" height="9.79" fill="#f9fcfc"/>
<rect x="150.78" y="291.04" width="2.58" height="9.79" fill="#f5d0d4"/>
<rect x="153.29" y="291.04" width="2.58" height="9.79" fill="#fdfdfd"/>
<rect x="155.81" y="291.04" width="2.58" height="9.79" fill="#f9e6e8"/>
<rect x="158.33" y="291.04" width="2.58" height="9.79" fill="#f7fbfb"/>
<rect x="160.84" y="291.04" width="2.58" height="9.79" fill="#fdfdfd"/>
<rect x="163.36" y="291.04" width="2.58" height="9.79" fill="#f7fbfb"/>
<rect x="165.87" y="291.04" width="2.58" height="9.79" fill="#fbfdfd"/>
<rect x="168.39" y="291.04" width="2.58" height="9.79" fill="#f7fbfb"/>
<rect x="170.90" y="291.04" width="2.58" height="9.79" fill="#f7fbfb"/>
<rect x="173.42" y="291.04" width="2.58" height="9.79" fill="#fdfdfd"/>
<rect x="175.93" y="291.04" width="2.58" height="9.79" fill="#f6fbfb"/>
<rect x="178.45" y="291.04" width="2.58" height="9.79" fill="#f1f8f9"/>
<rect x="180.97" y="291.04" width="2.58" height="9.79" fill="#f4fafa"/>
<rect x="183.48" y="291.04" width="2.58" height="9.79" fill="#f1f8f9"/>
<rect x="186.00" y="291.04" width="2.58" height="9.79" fill="#f7fbfb"/>
<rect x="188.51" y="291.04" width="2.58" height="9.79" fill="#f9fcfc"/>
<rect x="191.03" y="291.04" width="2.58" height="9.79" fill="#edf7f7"/>
<rect x="193.54" y="291.04" width="2.58" height="9.79" fill="#f7fbfb"/>
<rect x="196.06" y="291.04" width="2.58" height="9.79" fill="#f1f8f9"/>
<rect x="198.57" y="291.04" width="2.58" height="9.79" fill="#edf7f7"/>
<rect x="201.09" y="291.04" width="2.58" height="9.79" fill="#f6fbfb"/>
<rect x="203.61" y="291.04" width="2.58" height="9.79" fill="#f4fafa"/>
<rect x="206.12" y="291.04" width="2.58" height="9.79" fill="#f4fafa"/>
<rect x="208.64" y="291.04" width="2.58" height="9.79" fill="#f9fcfc"/>
<rect x="211.15" y="291.04" width="2.58" height="9.79" fill="#edf7f7"/>
<rect x="213.67" y="291.04" width="2.58" height="9.79" fill="#f6fbfb"/>
<rect x="216.18" y="291.04" width="2.58" height="9.79" fill="#f1f8f9"/>
<rect x="218.70" y="291.04" width="2.58" height="9.79" fill="#f6fbfb"/>
<rect x="221.21" y="291.04" width="2.58" height="9.79" fill="#f4fafa"/>
<rect x="223.73" y="291.04" width="2.58" height="9.79" fill="#f6fbfb"/>
<rect x="226.24" y="291.04" width="2.58" height="9.79" fill="#edf7f7"/>
<rect x="228.76" y="291.04" width="2.58" height="9.79" fill="#f9fcfc"/>
<rect x="231.28" y="291.04" width="2.58" height="9.79" fill="#f9fcfc"/>
<rect x="233.79" y="291.04" width="2.58" height="9.79" fill="#edf7f7"/>
<rect x="236.31" y="291.04" width="2.58" height="9.79" fill="#f9fcfc"/>
<rect x="238.82" y="291.04" width="2.58" height="9.79" fill="#edf7f7"/>
<rect x="241.34" y="291.04" width="2.58" height="9.79" fill="#f7fbfb"/>
<rect x="243.85" y="291.04" width="2.58" height="9.79" fill="#f7fbfb"/>
<rect x="246.37" y="291.04" width="2.58" height="9.79" fill="#f7fbfb"/>
<rect x="248.88" y="291.04" width="2.58" height="9.79" fill="#f4fafa"/>
<rect x="105.50" y="300.77" width="2.58" height="9.79" fill="#fbfdfd"/>
<rect x="108.02" y="300.77" width="2.58" height="9.79" fill="#fdfdfd"/>
<rect x="110.53" y="300.77" width="2.58" height="9.79" fill="#f8e2e4"/>
<rect x="113.05" y="300.77" width="2.58" height="9.79" fill="#fcf2f3"/>
<rect x="115.56" y="300.77" width="2.58" height="9.79" fill="#fdfdfd"/>
<rect x="118.08" y="300.77" width="2.58" height="9.79" fill="#f9fcfc"/>
<rect x="120.59" y="300.77" width="2.58" height="9.79" fill="#f9fcfc"/>
<rect x="123.11" y="300.77" width="2.58" height="9.79" fill="#f8e0e3"/>
<rect x="125.62" y="300.77" width="2.58" height="9.79" fill="#fdfdfd"/>
<rect x="128.14" y="300.77" width="2.58" height="9.79" fill="#f8e2e5"/>
<rect x="130.66" y="300.77" width="2.58" height="9.79" fill="#f7fbfb"/>
<rect x="133.17" y="300.77" width="2.58" height="9.79" fill="#f6d9dd"/>
<rect x="135.69" y="300.77" width="2.58" height="9.79" fill="#fdfdfd"/>
<rect x="138.20" y="300.77" width="2.58" height="9.79" fill="#fcf3f4"/>
<rect x="140.72" y="300.77" width="2.58" height="9.79" fill="#f7fbfb"/>
<rect x="143.23" y="300.77" width="2.58" height="9.79" fill="#f7fbfb"/>
<rect x="145.75" y="300.77" width="2.58" height="9.79" fill="#f7fbfb"/>
<rect x="148.26" y="300.77" width="2.58" height="9.79" fill="#fefefe"/>
<rect x="150.78" y="300.77" width="2.58" height="9.79" fill="#f6d9dc"/>
<rect x="153.29" y="300.77" width="2.58" height="9.79" fill="#fefefe"/>
<rect x="155.81" y="300.77" width="2.58" height="9.79" fill="#fbf0f1"/>
<rect x="158.33" y="300.77" width="2.58" height="9.79" fill="#f7fbfb"/>
<rect x="160.84" y="300.77" width="2.58" height="9.79" fill="#f7fbfb"/>
<rect x="163.36" y="300.77" width="2.58" height="9.79" fill="#faedee"/>
<rect x="165.87" y="300.77" width="2.58" height="9.79" fill="#fdfdfd"/>
<rect x="168.39" y="300.77" width="2.58" height="9.79" fill="#f9fcfc"/>
<rect x="170.90" y="300.77" width="2.58" height="9.79" fill="#fdfdfd"/>
<rect x="173.42" y="300.77" width="2.58" height="9.79" fill="#f9fcfc"/>
<rect x="175.93" y="300.77" width="2.58" height="9.79" fill="#f4fafa"/>
<rect x="178.45" y="300.77" width="2.58" height="9.79" fill="#f4fafa"/>
<rect x="180.97" y="300.77" width="2.58" height="9.79" fill="#f7fbfb"/>
<rect x="183.48" y="300.77" width="2.58" height="9.79" fill="#f7fbfb"/>
<rect x="186.00" y="300.77" width="2.58" height="9.79" fill="#f4fafa"/>
<rect x="188.51" y="300.77" width="2.58" height="9.79" fill="#edf7f7"/>
<rect x="191.03" y="300.77" width="2.58" height="9.79" fill="#f1f8f9"/>
<rect x="193.54" y="300.77" width="2.58" height="9.79" fill="#f6fbfb"/>
<rect x="196.06" y="300.77" width="2.58" height="9.79" fill="#f9fcfc"/>
<rect x="198.57" y="300.77" width="2.58" height="9.79" fill="#edf7f7"/>
<rect x="201.09" y="300.77" width="2.58" height="9.79" fill="#f6fbfb"/>
<rect x="203.61" y="300.77" width="2.58" height="9.79" fill="#f6fbfb"/>
<rect x="206.12" y="300.77" width="2.58" height="9.79" fill="#edf7f7"/>
<rect x="208.64" y="300.77" width="2.58" height="9.79" fill="#edf7f7"/>
<rect x="211.15" y="300.77" width="2.58" height="9.79" fill="#f6fbfb"/>
<rect x="213.67" y="300.77" width="2.58" height="9.79" fill="#f1f8f9"/>
<rect x="216.18" y="300.77" width="2.58" height="9.79" fill="#f4fafa"/>
<rect x="218.70" y="300.77" width="2.58" height="9.79" fill="#f1f8f9"/>
<rect x="221.21" y="300.77" width="2.58" height="9.79" fill="#f9fcfc"/>
<rect x="223.73" y="300.77" width="2.58" height="9.79" fill="#f9fcfc"/>
<rect x="226.24" y="300.77" width="2.58" height="9.79" fill="#f1f8f9"/>
<rect x="228.76" y="300.77" width="2.58" height="9.79" fill="#f1f8f9"/>
<rect x="231.28" y="300.77" width="2.58" height="9.79" fill="#f6fbfb"/>
<rect x="233.79" y="300.77" width="2.58" height="9.79" fill="#f6fbfb"/>
<rect x="236.31" y="300.77" width="2.58" height="9.79" fill="#f6fbfb"/>
<rect x="238.82" y="300.77" width="2.58" height="9.79" fill="#edf7f7"/>
<rect x="241.34" y="300.77" width="2.58" height="9.79" fill="#f9fcfc"/>
<rect x="243.85" y="300.77" width="2.58" height="9.79" fill="#f9fcfc"/>
<rect x="246.37" y="300.77" width="2.58" height="9.79" fill="#f7fbfb"/>
<rect x="248.88" y="300.77" width="2.58" height="9.79" fill="#f1f8f9"/>
<rect x="105.50" y="310.50" width="2.58" height="9.79" fill="#fbfdfd"/>
<rect x="108.02" y="310.50" width="2.58" height="9.79" fill="#f9fcfc"/>
<rect x="110.53" y="310.50" width="2.58" height="9.79" fill="#fdfdfd"/>
<rect x="113.05" y="310.50" width="2.58" height="9.79" fill="#fbf1f2"/>
<rect x="115.56" y="310.50" width="2.58" height="9.79" fill="#fdfdfd"/>
<rect x="118.08" y="310.50" width="2.58" height="9.79" fill="#f7fbfb"/>
<rect x="120.59" y="310.50" width="2.58" height="9.79" fill="#fdfdfd"/>
<rect x="123.11" y="310.50" width="2.58" height="9.79" fill="#fefefe"/>
<rect x="125.62" y="310.50" width="2.58" height="9.79" fill="#fefefe"/>
<rect x="128.14" y="310.50" width="2.58" height="9.79" fill="#f6d5d8"/>
<rect x="130.66" y="310.50" width="2.58" height="9.79" fill="#fefefe"/>
<rect x="133.17" y="310.50" width="2.58" height="9.79" fill="#f7dee1"/>
<rect x="135.69" y="310.50" width="2.58" height="9.79" fill="#fbfdfd"/>
<rect x="138.20" y="310.50" width="2.58" height="9.79" fill="#fcf5f6"/>
<rect x="140.72" y="310.50" width="2.58" height="9.79" fill="#f7fbfb"/>
<rect x="143.23" y="310.50" width="2.58" height="9.79" fill="#fbfdfd"/>
<rect x="145.75" y="310.50" width="2.58" height="9.79" fill="#fefefe"/>
<rect x="148.26" y="310.50" width="2.58" height="9.79" fill="#f7fbfb"/>
<rect x="150.78" y="310.50" width="2.58" height="9.79" fill="#f8e0e3"/>
<rect x="153.29" y="310.50" width="2.58" height="9.79" fill="#fbfdfd"/>
<rect x="155.81" y="310.50" width="2.58" height="9.79" fill="#f9e7e9"/>
<rect x="158.33" y="310.50" width="2.58" height="9.79" fill="#fdfdfd"/>
<rect x="160.84" y="310.50" width="2.58" height="9.79" fill="#f9fcfc"/>
<rect x="163.36" y="310.50" width="2.58" height="9.79" fill="#fbf0f1"/>
<rect x="165.87" y="310.50" width="2.58" height="9.79" fill="#fbfdfd"/>
<rect x="168.39" y="310.50" width="2.58" height="9.79" fill="#fefefe"/>
<rect x="170.90" y="310.50" width="2.58" height="9.79" fill="#f7fbfb"/>
<rect x="173.42" y="310.50" width="2.58" height="9.79" fill="#fdfdfd"/>
<rect x="175.93" y="310.50" width="2.58" height="9.79" fill="#f6fbfb"/>
<rect x="178.45" y="310.50" width="2.58" height="9.79" fill="#f7fbfb"/>
<rect x="180.97" y="310.50" width="2.58" height="9.79" fill="#edf7f7"/>
<rect x="183.48" y="310.50" width="2.58" height="9.79" fill="#f4fafa"/>
<rect x="186.00" y="310.50" width="2.58" height="9.79" fill="#f7fbfb"/>
<rect x="188.51" y="310.50" width="2.58" height="9.79" fill="#f1f8f9"/>
<rect x="191.03" y="310.50" width="2.58" height="9.79" fill="#f7fbfb"/>
<rect x="193.54" y="310.50" width="2.58" height="9.79" fill="#f1f8f9"/>
<rect x="196.06" y="310.50" width="2.58" height="9.79" fill="#f4fafa"/>
<rect x="198.57" y="310.50" width="2.58" height="9.79" fill="#f6fbfb"/>
<rect x="201.09" y="310.50" width="2.58" height="9.79" fill="#f6fbfb"/>
<rect x="203.61" y="310.50" width="2.58" height="9.79" fill="#f4fafa"/>
<rect x="206.12" y="310.50" width="2.58" height="9.79" fill="#f4fafa"/>
<rect x="208.64" y="310.50" width="2.58" height="9.79" fill="#f1f8f9"/>
<rect x="211.15" y="310.50" width="2.58" height="9.79" fill="#f1f8f9"/>
<rect x="213.67" y="310.50" width="2.58" height="9.79" fill="#f4fafa"/>
<rect x="216.18" y="310.50" width="2.58" height="9.79" fill="#f6fbfb"/>
<rect x="218.70" y="310.50" width="2.58" height="9.79" fill="#edf7f7"/>
<rect x="221.21" y="310.50" width="2.58" height="9.79" fill="#f6fbfb"/>
<rect x="223.73" y="310.50" width="2.58" height="9.79" fill="#f1f8f9"/>
<rect x="226.24" y="310.50" width="2.58" height="9.79" fill="#f6fbfb"/>
<rect x="228.76" y="310.50" width="2.58" height="9.79" fill="#f6fbfb"/>
<rect x="231.28" y="310.50" width="2.58" height="9.79" fill="#f1f8f9"/>
<rect x="233.79" y="310.50" width="2.58" height="9.79" fill="#f1f8f9"/>
<rect x="236.31" y="310.50" width="2.58" height="9.79" fill="#f7fbfb"/>
<rect x="238.82" y="310.50" width="2.58" height="9.79" fill="#edf7f7"/>
<rect x="241.34" y="310.50" width="2.58" height="9.79" fill="#f6fbfb"/>
<rect x="243.85" y="310.50" width="2.58" height="9.79" fill="#f7fbfb"/>
<rect x="246.37" y="310.50" width="2.58" height="9.79" fill="#f4fafa"/>
<rect x="248.88" y="310.50" width="2.58" height="9.79" fill="#f7fbfb"/>
<rect x="105.50" y="320.23" width="2.58" height="9.79" fill="#f8fbfc"/>
<rect x="108.02" y="320.23" width="2.58" height="9.79" fill="#fbf1f2"/>
<rect x="110.53" y="320.23" width="2.58" height="9.79" fill="#f6fbfb"/>
<rect x="113.05" y="320.23" width="2.58" height="9.79" fill="#f6fbfb"/>
<rect x="115.56" y="320.23" width="2.58" height="9.79" fill="#f8fbfc"/>
<rect x="118.08" y="320.23" width="2.58" height="9.79" fill="#f6fbfb"/>
<rect x="120.59" y="320.23" width="2.58" height="9.79" fill="#fcfdfd"/>
<rect x="123.11" y="320.23" width="2.58" height="9.79" fill="#fafcfd"/>
<rect x="125.62" y="320.23" width="2.58" height="9.79" fill="#fefefe"/>
<rect x="128.14" y="320.23" width="2.58" height="9.79" fill="#fefefe"/>
<rect x="130.66" y="320.23" width="2.58" height="9.79" fill="#fcfdfd"/>
<rect x="133.17" y="320.23" width="2.58" height="9.79" fill="#fefefe"/>
<rect x="135.69" y="320.23" width="2.58" height="9.79" fill="#fcfdfd"/>
<rect x="138.20" y="320.23" width="2.58" height="9.79" fill="#f8fbfc"/>
<rect x="140.72" y="320.23" width="2.58" height="9.79" fill="#f7dadd"/>
<rect x="143.23" y="320.23" width="2.58" height="9.79" fill="#fefefe"/>
<rect x="145.75" y="320.23" width="2.58" height="9.79" fill="#fafcfd"/>
<rect x="148.26" y="320.23" width="2.58" height="9.79" fill="#f6fbfb"/>
<rect x="150.78" y="320.23" width="2.58" height="9.79" fill="#fcf3f4"/>
<rect x="153.29" y="320.23" width="2.58" height="9.79" fill="#f8dfe1"/>
<rect x="155.81" y="320.23" width="2.58" height="9.79" fill="#fcfdfd"/>
<rect x="158.33" y="320.23" width="2.58" height="9.79" fill="#fcfdfd"/>
<rect x="160.84" y="320.23" width="2.58" height="9.79" fill="#f8fbfc"/>
<rect x="163.36" y="320.23" width="2.58" height="9.79" fill="#f6fbfb"/>
<rect x="165.87" y="320.23" width="2.58" height="9.79" fill="#f8fbfc"/>
<rect x="168.39" y="320.23" width="2.58" height="9.79" fill="#f8fbfc"/>
<rect x="170.90" y="320.23" width="2.58" height="9.79" fill="#f8fbfc"/>
<rect x="173.42" y="320.23" width="2.58" height="9.79" fill="#f6fbfb"/>
<rect x="175.93" y="320.23" width="2.58" height="9.79" fill="#f6fbfb"/>
<rect x="178.45" y="320.23" width="2.58" height="9.79" fill="#eaf5f6"/>
<rect x="180.97" y="320.23" width="2.58" height="9.79" fill="#eaf5f6"/>
<rect x="183.48" y="320.23" width="2.58" height="9.79" fill="#f8fbfc"/>
<rect x="186.00" y="320.23" width="2.58" height="9.79" fill="#eaf5f6"/>
<rect x="188.51" y="320.23" width="2.58" height="9.79" fill="#f3f9fa"/>
<rect x="191.03" y="320.23" width="2.58" height="9.79" fill="#eaf5f6"/>
<rect x="193.54" y="320.23" width="2.58" height="9.79" fill="#eff7f8"/>
<rect x="196.06" y="320.23" width="2.58" height="9.79" fill="#eff7f8"/>
<rect x="198.57" y="320.23" width="2.58" height="9.79" fill="#f8fbfc"/>
<rect x="201.09" y="320.23" width="2.58" height="9.79" fill="#f9e8ea"/>
<rect x="203.61" y="320.23" width="2.58" height="9.79" fill="#f6fbfb"/>
<rect x="206.12" y="320.23" width="2.58" height="9.79" fill="#f3f9fa"/>
<rect x="208.64" y="320.23" width="2.58" height="9.79" fill="#fae9eb"/>
<rect x="211.15" y="320.23" width="2.58" height="9.79" fill="#f5fafa"/>
<rect x="213.67" y="320.23" width="2.58" height="9.79" fill="#eff7f8"/>
<rect x="216.18" y="320.23" width="2.58" height="9.79" fill="#f5fafa"/>
<rect x="218.70" y="320.23" width="2.58" height="9.79" fill="#f5fafa"/>
<rect x="221.21" y="320.23" width="2.58" height="9.79" fill="#eaf5f6"/>
<rect x="223.73" y="320.23" width="2.58" height="9.79" fill="#eaf5f6"/>
<rect x="226.24" y="320.23" width="2.58" height="9.79" fill="#eaf5f6"/>
<rect x="228.76" y="320.23" width="2.58" height="9.79" fill="#eaf5f6"/>
<rect x="231.28" y="320.23" width="2.58" height="9.79" fill="#eff7f8"/>
<rect x="233.79" y="320.23" width="2.58" height="9.79" fill="#eff7f8"/>
<rect x="236.31" y="320.23" width="2.58" height="9.79" fill="#eaf5f6"/>
<rect x="238.82" y="320.23" width="2.58" height="9.79" fill="#f3f9fa"/>
<rect x="241.34" y="320.23" width="2.58" height="9.79" fill="#f8fbfc"/>
<rect x="243.85" y="320.23" width="2.58" height="9.79" fill="#f6fbfb"/>
<rect x="246.37" y="320.23" width="2.58" height="9.79" fill="#f8fbfc"/>
<rect x="248.88" y="320.23" width="2.58" height="9.79" fill="#eff7f8"/>
<rect x="105.50" y="329.95" width="2.58" height="9.79" fill="#f6fbfb"/>
<rect x="108.02" y="329.95" width="2.58" height="9.79" fill="#fafcfd"/>
<rect x="110.53" y="329.95" width="2.58" height="9.79" fill="#fefefe"/>
<rect x="113.05" y="329.95" width="2.58" height="9.79" fill="#fcfdfd"/>
<rect x="115.56" y="329.95" width="2.58" height="9.79" fill="#f6fbfb"/>
<rect x="118.08" y="329.95" width="2.58" height="9.79" fill="#fefefe"/>
<rect x="120.59" y="329.95" width="2.58" height="9.79" fill="#f6fbfb"/>
<rect x="123.11" y="329.95" width="2.58" height="9.79" fill="#fefefe"/>
<rect x="125.62" y="329.95" width="2.58" height="9.79" fill="#f6fbfb"/>
<rect x="128.14" y="329.95" width="2.58" height="9.79" fill="#fefefe"/>
<rect x="130.66" y="329.95" width="2.58" height="9.79" fill="#f8fbfc"/>
<rect x="133.17" y="329.95" width="2.58" height="9.79" fill="#fefefe"/>
<rect x="135.69" y="329.95" width="2.58" height="9.79" fill="#fafcfd"/>
<rect x="138.20" y="329.95" width="2.58" height="9.79" fill="#fefefe"/>
<rect x="140.72" y="329.95" width="2.58" height="9.79" fill="#f7dee0"/>
<rect x="143.23" y="329.95" width="2.58" height="9.79" fill="#fefefe"/>
<rect x="145.75" y="329.95" width="2.58" height="9.79" fill="#fafcfd"/>
<rect x="148.26" y="329.95" width="2.58" height="9.79" fill="#fafcfd"/>
<rect x="150.78" y="329.95" width="2.58" height="9.79" fill="#fcf6f7"/>
<rect x="153.29" y="329.95" width="2.58" height="9.79" fill="#f9e6e8"/>
<rect x="155.81" y="329.95" width="2.58" height="9.79" fill="#fcfdfd"/>
<rect x="158.33" y="329.95" width="2.58" height="9.79" fill="#f6fbfb"/>
<rect x="160.84" y="329.95" width="2.58" height="9.79" fill="#fafcfd"/>
<rect x="163.36" y="329.95" width="2.58" height="9.79" fill="#f8dee1"/>
<rect x="165.87" y="329.95" width="2.58" height="9.79" fill="#fafcfd"/>
<rect x="168.39" y="329.95" width="2.58" height="9.79" fill="#fcf5f6"/>
<rect x="170.90" y="329.95" width="2.58" height="9.79" fill="#fcfdfd"/>
<rect x="173.42" y="329.95" width="2.58" height="9.79" fill="#f6fbfb"/>
<rect x="175.93" y="329.95" width="2.58" height="9.79" fill="#f3f9fa"/>
<rect x="178.45" y="329.95" width="2.58" height="9.79" fill="#f8fbfc"/>
<rect x="180.97" y="329.95" width="2.58" height="9.79" fill="#f5fafa"/>
<rect x="183.48" y="329.95" width="2.58" height="9.79" fill="#f6fbfb"/>
<rect x="186.00" y="329.95" width="2.58" height="9.79" fill="#eaf5f6"/>
<rect x="188.51" y="329.95" width="2.58" height="9.79" fill="#f5fafa"/>
<rect x="191.03" y="329.95" width="2.58" height="9.79" fill="#eff7f8"/>
<rect x="193.54" y="329.95" width="2.58" height="9.79" fill="#f5fafa"/>
<rect x="196.06" y="329.95" width="2.58" height="9.79" fill="#f5fafa"/>
<rect x="198.57" y="329.95" width="2.58" height="9.79" fill="#f3f9fa"/>
<rect x="201.09" y="329.95" width="2.58" height="9.79" fill="#f9e5e7"/>
<rect x="203.61" y="329.95" width="2.58" height="9.79" fill="#f6fbfb"/>
<rect x="206.12" y="329.95" width="2.58" height="9.79" fill="#f3f9fa"/>
<rect x="208.64" y="329.95" width="2.58" height="9.79" fill="#f8e3e5"/>
<rect x="211.15" y="329.95" width="2.58" height="9.79" fill="#eaf5f6"/>
<rect x="213.67" y="329.95" width="2.58" height="9.79" fill="#f8fbfc"/>
<rect x="216.18" y="329.95" width="2.58" height="9.79" fill="#f3f9fa"/>
<rect x="218.70" y="329.95" width="2.58" height="9.79" fill="#f3f9fa"/>
<rect x="221.21" y="329.95" width="2.58" height="9.79" fill="#f8fbfc"/>
<rect x="223.73" y="329.95" width="2.58" height="9.79" fill="#f5fafa"/>
<rect x="226.24" y="329.95" width="2.58" height="9.79" fill="#f5fafa"/>
<rect x="228.76" y="329.95" width="2.58" height="9.79" fill="#f8fbfc"/>
<rect x="231.28" y="329.95" width="2.58" height="9.79" fill="#eaf5f6"/>
<rect x="233.79" y="329.95" width="2.58" height="9.79" fill="#f8fbfc"/>
<rect x="236.31" y="329.95" width="2.58" height="9.79" fill="#eaf5f6"/>
<rect x="238.82" y="329.95" width="2.58" height="9.79" fill="#f8fbfc"/>
<rect x="241.34" y="329.95" width="2.58" height="9.79" fill="#f5fafa"/>
<rect x="243.85" y="329.95" width="2.58" height="9.79" fill="#f5fafa"/>
<rect x="246.37" y="329.95" width="2.58" height="9.79" fill="#f5fafa"/>
<rect x="248.88" y="329.95" width="2.58" height="9.79" fill="#eff7f8"/>
<rect x="105.50" y="339.68" width="2.58" height="9.79" fill="#f6fbfb"/>
<rect x="108.02" y="339.68" width="2.58" height="9.79" fill="#fbf0f1"/>
<rect x="110.53" y="339.68" width="2.58" height="9.79" fill="#fafcfd"/>
<rect x="113.05" y="339.68" width="2.58" height="9.79" fill="#fafcfd"/>
<rect x="115.56" y="339.68" width="2.58" height="9.79" fill="#f6fbfb"/>
<rect x="118.08" y="339.68" width="2.58" height="9.79" fill="#fcfdfd"/>
<rect x="120.59" y="339.68" width="2.58" height="9.79" fill="#fefefe"/>
<rect x="123.11" y="339.68" width="2.58" height="9.79" fill="#f6fbfb"/>
<rect x="125.62" y="339.68" width="2.58" height="9.79" fill="#f8fbfc"/>
<rect x="128.14" y="339.68" width="2.58" height="9.79" fill="#fcfdfd"/>
<rect x="130.66" y="339.68" width="2.58" height="9.79" fill="#fefefe"/>
<rect x="133.17" y="339.68" width="2.58" height="9.79" fill="#fafcfd"/>
<rect x="135.69" y="339.68" width="2.58" height="9.79" fill="#fafcfd"/>
<rect x="138.20" y="339.68" width="2.58" height="9.79" fill="#fefefe"/>
<rect x="140.72" y="339.68" width="2.58" height="9.79" fill="#f8e3e5"/>
<rect x="143.23" y="339.68" width="2.58" height="9.79" fill="#fefefe"/>
<rect x="145.75" y="339.68" width="2.58" height="9.79" fill="#fafcfd"/>
<rect x="148.26" y="339.68" width="2.58" height="9.79" fill="#fcfdfd"/>
<rect x="150.78" y="339.68" width="2.58" height="9.79" fill="#fcfdfd"/>
<rect x="153.29" y="339.68" width="2.58" height="9.79" fill="#fcfdfd"/>
<rect x="155.81" y="339.68" width="2.58" height="9.79" fill="#fafcfd"/>
<rect x="158.33" y="339.68" width="2.58" height="9.79" fill="#f8fbfc"/>
<rect x="160.84" y="339.68" width="2.58" height="9.79" fill="#fcfdfd"/>
<rect x="163.36" y="339.68" width="2.58" height="9.79" fill="#fefefe"/>
<rect x="165.87" y="339.68" width="2.58" height="9.79" fill="#fefefe"/>
<rect x="168.39" y="339.68" width="2.58" height="9.79" fill="#fcf3f4"/>
<rect x="170.90" y="339.68" width="2.58" height="9.79" fill="#fefefe"/>
<rect x="173.42" y="339.68" width="2.58" height="9.79" fill="#f8fbfc"/>
<rect x="175.93" y="339.68" width="2.58" height="9.79" fill="#eff7f8"/>
<rect x="178.45" y="339.68" width="2.58" height="9.79" fill="#f6fbfb"/>
<rect x="180.97" y="339.68" width="2.58" height="9.79" fill="#eff7f8"/>
<rect x="183.48" y="339.68" width="2.58" height="9.79" fill="#eff7f8"/>
<rect x="186.00" y="339.68" width="2.58" height="9.79" fill="#f8fbfc"/>
<rect x="188.51" y="339.68" width="2.58" height="9.79" fill="#eff7f8"/>
<rect x="191.03" y="339.68" width="2.58" height="9.79" fill="#f6fbfb"/>
<rect x="193.54" y="339.68" width="2.58" height="9.79" fill="#f6fbfb"/>
<rect x="196.06" y="339.68" width="2.58" height="9.79" fill="#eaf5f6"/>
<rect x="198.57" y="339.68" width="2.58" height="9.79" fill="#f8fbfc"/>
<rect x="201.09" y="339.68" width="2.58" height="9.79" fill="#faebed"/>
<rect x="203.61" y="339.68" width="2.58" height="9.79" fill="#f5fafa"/>
<rect x="206.12" y="339.68" width="2.58" height="9.79" fill="#eaf5f6"/>
<rect x="208.64" y="339.68" width="2.58" height="9.79" fill="#f8e3e5"/>
<rect x="211.15" y="339.68" width="2.58" height="9.79" fill="#f6fbfb"/>
<rect x="213.67" y="339.68" width="2.58" height="9.79" fill="#f3f9fa"/>
<rect x="216.18" y="339.68" width="2.58" height="9.79" fill="#f3f9fa"/>
<rect x="218.70" y="339.68" width="2.58" height="9.79" fill="#f5fafa"/>
<rect x="221.21" y="339.68" width="2.58" height="9.79" fill="#f6fbfb"/>
<rect x="223.73" y="339.68" width="2.58" height="9.79" fill="#eff7f8"/>
<rect x="226.24" y="339.68" width="2.58" height="9.79" fill="#f3f9fa"/>
<rect x="228.76" y="339.68" width="2.58" height="9.79" fill="#eff7f8"/>
<rect x="231.28" y="339.68" width="2.58" height="9.79" fill="#f3f9fa"/>
<rect x="233.79" y="339.68" width="2.58" height="9.79" fill="#eaf5f6"/>
<rect x="236.31" y="339.68" width="2.58" height="9.79" fill="#eff7f8"/>
<rect x="238.82" y="339.68" width="2.58" height="9.79" fill="#f5fafa"/>
<rect x="241.34" y="339.68" width="2.58" height="9.79" fill="#eff7f8"/>
<rect x="243.85" y="339.68" width="2.58" height="9.79" fill="#eaf5f6"/>
<rect x="246.37" y="339.68" width="2.58" height="9.79" fill="#f6fbfb"/>
<rect x="248.88" y="339.68" width="2.58" height="9.79" fill="#f6fbfb"/>
<rect x="105.50" y="349.41" width="2.58" height="9.79" fill="#f3cace"/>
<rect x="108.02" y="349.41" width="2.58" height="9.79" fill="#fefefe"/>
<rect x="110.53" y="349.41" width="2.58" height="9.79" fill="#fefefe"/>
<rect x="113.05" y="349.41" width="2.58" height="9.79" fill="#fefefe"/>
<rect x="115.56" y="349.41" width="2.58" height="9.79" fill="#fefefe"/>
<rect x="118.08" y="349.41" width="2.58" height="9.79" fill="#fefefe"/>
<rect x="120.59" y="349.41" width="2.58" height="9.79" fill="#fefefe"/>
<rect x="123.11" y="349.41" width="2.58" height="9.79" fill="#fefefe"/>
<rect x="125.62" y="349.41" width="2.58" height="9.79" fill="#fefefe"/>
<rect x="128.14" y="349.41" width="2.58" height="9.79" fill="#fefefe"/>
<rect x="130.66" y="349.41" width="2.58" height="9.79" fill="#fefefe"/>
<rect x="133.17" y="349.41" width="2.58" height="9.79" fill="#fefefe"/>
<rect x="135.69" y="349.41" width="2.58" height="9.79" fill="#fefefe"/>
<rect x="138.20" y="349.41" width="2.58" height="9.79" fill="#fefefe"/>
<rect x="140.72" y="349.41" width="2.58" height="9.79" fill="#fefefe"/>
<rect x="143.23" y="349.41" width="2.58" height="9.79" fill="#fefefe"/>
<rect x="145.75" y="349.41" width="2.58" height="9.79" fill="#fefefe"/>
<rect x="148.26" y="349.41" width="2.58" height="9.79" fill="#fefefe"/>
<rect x="150.78" y="349.41" width="2.58" height="9.79" fill="#fefefe"/>
<rect x="153.29" y="349.41" width="2.58" height="9.79" fill="#fefefe"/>
<rect x="155.81" y="349.41" width="2.58" height="9.79" fill="#fefefe"/>
<rect x="158.33" y="349.41" width="2.58" height="9.79" fill="#fefefe"/>
<rect x="160.84" y="349.41" width="2.58" height="9.79" fill="#fefefe"/>
<rect x="163.36" y="349.41" width="2.58" height="9.79" fill="#fefefe"/>
<rect x="165.87" y="349.41" width="2.58" height="9.79" fill="#fefefe"/>
<rect x="168.39" y="349.41" width="2.58" height="9.79" fill="#fefefe"/>
<rect x="170.90" y="349.41" width="2.58" height="9.79" fill="#fefefe"/>
<rect x="173.42" y="349.41" width="2.58" height="9.79" fill="#fefefe"/>
<rect x="175.93" y="349.41" width="2.58" height="9.79" fill="#fefefe"/>
<rect x="178.45" y="349.41" width="2.58" height="9.79" fill="#fefefe"/>
<rect x="180.97" y="349.41" width="2.58" height="9.79" fill="#fefefe"/>
<rect x="183.48" y="349.41" width="2.58" height="9.79" fill="#fefefe"/>
<rect x="186.00" y="349.41" width="2.58" height="9.79" fill="#fefefe"/>
<rect x="188.51" y="349.41" width="2.58" height="9.79" fill="#fefefe"/>
<rect x="191.03" y="349.41" width="2.58" height="9.79" fill="#fefefe"/>
<rect x="193.54" y="349.41" width="2.58" height="9.79" fill="#fefefe"/>
<rect x="196.06" y="349.41" width="2.58" height="9.79" fill="#fefefe"/>
<rect x="198.57" y="349.41" width="2.58" height="9.79" fill="#fefefe"/>
<rect x="201.09" y="349.41" width="2.58" height="9.79" fill="#fefefe"/>
<rect x="203.61" y="349.41" width="2.58" height="9.79" fill="#fefefe"/>
<rect x="206.12" y="349.41" width="2.58" height="9.79" fill="#fefefe"/>
<rect x="208.64" y="349.41" width="2.58" height="9.79" fill="#fefefe"/>
<rect x="211.15" y="349.41" width="2.58" height="9.79" fill="#fefefe"/>
<rect x="213.67" y="349.41" width="2.58" height="9.79" fill="#fefefe"/>
<rect x="216.18" y="349.41" width="2.58" height="9.79" fill="#fefefe"/>
<rect x="218.70" y="349.41" width="2.58" height="9.79" fill="#fefefe"/>
<rect x="221.21" y="349.41" width="2.58" height="9.79" fill="#fefefe"/>
<rect x="223.73" y="349.41" width="2.58" height="9.79" fill="#fefefe"/>
<rect x="226.24" y="349.41" width="2.58" height="9.79" fill="#fefefe"/>
<rect x="228.76" y="349.41" width="2.58" height="9.79" fill="#fefefe"/>
<rect x="231.28" y="349.41" width="2.58" height="9.79" fill="#fefefe"/>
<rect x="233.79" y="349.41" width="2.58" height="9.79" fill="#fefefe"/>
<rect x="236.31" y="349.41" width="2.58" height="9.79" fill="#fefefe"/>
<rect x="238.82" y="349.41" width="2.58" height="9.79" fill="#fefefe"/>
<rect x="241.34" y="349.41" width="2.58" height="9.79" fill="#fefefe"/>
<rect x="243.85" y="349.41" width="2.58" height="9.79" fill="#fefefe"/>
<rect x="246.37" y="349.41" width="2.58" height="9.79" fill="#fefefe"/>
<rect x="248.88" y="349.41" width="2.58" height="9.79" fill="#fefefe"/>
<rect x="105.50" y="359.13" width="2.58" height="9.79" fill="#fbf1f2"/>
<rect x="108.02" y="359.13" width="2.58" height="9.79" fill="#f8e0e2"/>
<rect x="110.53" y="359.13" width="2.58" height="9.79" fill="#f8e0e2"/>
<rect x="113.05" y="359.13" width="2.58" height="9.79" fill="#fefefe"/>
<rect x="115.56" y="359.13" width="2.58" height="9.79" fill="#f7dadd"/>
<rect x="118.08" y="359.13" width="2.58" height="9.79" fill="#fcf5f5"/>
<rect x="120.59" y="359.13" width="2.58" height="9.79" fill="#fefefe"/>
<rect x="123.11" y="359.13" width="2.58" height="9.79" fill="#fefefe"/>
<rect x="125.62" y="359.13" width="2.58" height="9.79" fill="#f9e4e6"/>
<rect x="128.14" y="359.13" width="2.58" height="9.79" fill="#fefefe"/>
<rect x="130.66" y="359.13" width="2.58" height="9.79" fill="#fbfdfd"/>
<rect x="133.17" y="359.13" width="2.58" height="9.79" fill="#f9fcfc"/>
<rect x="135.69" y="359.13" width="2.58" height="9.79" fill="#f7fbfb"/>
<rect x="138.20" y="359.13" width="2.58" height="9.79" fill="#f7fbfb"/>
<rect x="140.72" y="359.13" width="2.58" height="9.79" fill="#f9fcfc"/>
<rect x="143.23" y="359.13" width="2.58" height="9.79" fill="#fcf4f5"/>
<rect x="145.75" y="359.13" width="2.58" height="9.79" fill="#f7dee1"/>
<rect x="148.26" y="359.13" width="2.58" height="9.79" fill="#fdf7f8"/>
<rect x="150.78" y="359.13" width="2.58" height="9.79" fill="#fefefe"/>
<rect x="153.29" y="359.13" width="2.58" height="9.79" fill="#f9fcfc"/>
<rect x="155.81" y="359.13" width="2.58" height="9.79" fill="#f2c5c9"/>
<rect x="158.33" y="359.13" width="2.58" height="9.79" fill="#fdfdfd"/>
<rect x="160.84" y="359.13" width="2.58" height="9.79" fill="#fefefe"/>
<rect x="163.36" y="359.13" width="2.58" height="9.79" fill="#f9fcfc"/>
<rect x="165.87" y="359.13" width="2.58" height="9.79" fill="#f6d5d8"/>
<rect x="168.39" y="359.13" width="2.58" height="9.79" fill="#fefefe"/>
<rect x="170.90" y="359.13" width="2.58" height="9.79" fill="#f9e6e8"/>
<rect x="173.42" y="359.13" width="2.58" height="9.79" fill="#f7fbfb"/>
<rect x="175.93" y="359.13" width="2.58" height="9.79" fill="#edf7f7"/>
<rect x="178.45" y="359.13" width="2.58" height="9.79" fill="#f6fbfb"/>
<rect x="180.97" y="359.13" width="2.58" height="9.79" fill="#f7fbfb"/>
<rect x="183.48" y="359.13" width="2.58" height="9.79" fill="#f1f8f9"/>
<rect x="186.00" y="359.13" width="2.58" height="9.79" fill="#f7fbfb"/>
<rect x="188.51" y="359.13" width="2.58" height="9.79" fill="#edf7f7"/>
<rect x="191.03" y="359.13" width="2.58" height="9.79" fill="#f7fbfb"/>
<rect x="193.54" y="359.13" width="2.58" height="9.79" fill="#f9fcfc"/>
<rect x="196.06" y="359.13" width="2.58" height="9.79" fill="#f4fafa"/>
<rect x="198.57" y="359.13" width="2.58" height="9.79" fill="#f9fcfc"/>
<rect x="201.09" y="359.13" width="2.58" height="9.79" fill="#f6fbfb"/>
<rect x="203.61" y="359.13" width="2.58" height="9.79" fill="#f9fcfc"/>
<rect x="206.12" y="359.13" width="2.58" height="9.79" fill="#f9fcfc"/>
<rect x="208.64" y="359.13" width="2.58" height="9.79" fill="#f1f8f9"/>
<rect x="211.15" y="359.13" width="2.58" height="9.79" fill="#edf7f7"/>
<rect x="213.67" y="359.13" width="2.58" height="9.79" fill="#f7fbfb"/>
<rect x="216.18" y="359.13" width="2.58" height="9.79" fill="#f9fcfc"/>
<rect x="218.70" y="359.13" width="2.58" height="9.79" fill="#f9fcfc"/>
<rect x="221.21" y="359.13" width="2.58" height="9.79" fill="#f4fafa"/>
<rect x="223.73" y="359.13" width="2.58" height="9.79" fill="#edf7f7"/>
<rect x="226.24" y="359.13" width="2.58" height="9.79" fill="#edf7f7"/>
<rect x="228.76" y="359.13" width="2.58" height="9.79" fill="#f4fafa"/>
<rect x="231.28" y="359.13" width="2.58" height="9.79" fill="#edf7f7"/>
<rect x="233.79" y="359.13" width="2.58" height="9.79" fill="#edf7f7"/>
<rect x="236.31" y="359.13" width="2.58" height="9.79" fill="#f7fbfb"/>
<rect x="238.82" y="359.13" width="2.58" height="9.79" fill="#f7fbfb"/>
<rect x="241.34" y="359.13" width="2.58" height="9.79" fill="#f7fbfb"/>
<rect x="243.85" y="359.13" width="2.58" height="9.79" fill="#edf7f7"/>
<rect x="246.37" y="359.13" width="2.58" height="9.79" fill="#f1f8f9"/>
<rect x="248.88" y="359.13" width="2.58" height="9.79" fill="#fdf7f7"/>
<rect x="105.50" y="368.86" width="2.58" height="9.79" fill="#fbf1f2"/>
<rect x="108.02" y="368.86" width="2.58" height="9.79" fill="#f7dee1"/>
<rect x="110.53" y="368.86" width="2.58" height="9.79" fill="#f4ced2"/>
<rect x="113.05" y="368.86" width="2.58" height="9.79" fill="#fbfdfd"/>
<rect x="115.56" y="368.86" width="2.58" height="9.79" fill="#fdfdfd"/>
<rect x="118.08" y="368.86" width="2.58" height="9.79" fill="#fcf2f3"/>
<rect x="120.59" y="368.86" width="2.58" height="9.79" fill="#f9fcfc"/>
<rect x="123.11" y="368.86" width="2.58" height="9.79" fill="#fefefe"/>
<rect x="125.62" y="368.86" width="2.58" height="9.79" fill="#f9e6e8"/>
<rect x="128.14" y="368.86" width="2.58" height="9.79" fill="#f7fbfb"/>
<rect x="130.66" y="368.86" width="2.58" height="9.79" fill="#f9fcfc"/>
<rect x="133.17" y="368.86" width="2.58" height="9.79" fill="#fefefe"/>
<rect x="135.69" y="368.86" width="2.58" height="9.79" fill="#fdfdfd"/>
<rect x="138.20" y="368.86" width="2.58" height="9.79" fill="#fbfdfd"/>
<rect x="140.72" y="368.86" width="2.58" height="9.79" fill="#fbfdfd"/>
<rect x="143.23" y="368.86" width="2.58" height="9.79" fill="#fdf8f8"/>
<rect x="145.75" y="368.86" width="2.58" height="9.79" fill="#f6d8db"/>
<rect x="148.26" y="368.86" width="2.58" height="9.79" fill="#fcf4f5"/>
<rect x="150.78" y="368.86" width="2.58" height="9.79" fill="#f9fcfc"/>
<rect x="153.29" y="368.86" width="2.58" height="9.79" fill="#f9fcfc"/>
<rect x="155.81" y="368.86" width="2.58" height="9.79" fill="#f9fcfc"/>
<rect x="158.33" y="368.86" width="2.58" height="9.79" fill="#f7fbfb"/>
<rect x="160.84" y="368.86" width="2.58" height="9.79" fill="#fefefe"/>
<rect x="163.36" y="368.86" width="2.58" height="9.79" fill="#fefefe"/>
<rect x="165.87" y="368.86" width="2.58" height="9.79" fill="#f7dde0"/>
<rect x="168.39" y="368.86" width="2.58" height="9.79" fill="#fbfdfd"/>
<rect x="170.90" y="368.86" width="2.58" height="9.79" fill="#f7dde0"/>
<rect x="173.42" y="368.86" width="2.58" height="9.79" fill="#fdfdfd"/>
<rect x="175.93" y="368.86" width="2.58" height="9.79" fill="#f6fbfb"/>
<rect x="178.45" y="368.86" width="2.58" height="9.79" fill="#f6fbfb"/>
<rect x="180.97" y="368.86" width="2.58" height="9.79" fill="#edf7f7"/>
<rect x="183.48" y="368.86" width="2.58" height="9.79" fill="#f9fcfc"/>
<rect x="186.00" y="368.86" width="2.58" height="9.79" fill="#f4fafa"/>
<rect x="188.51" y="368.86" width="2.58" height="9.79" fill="#f1f8f9"/>
<rect x="191.03" y="368.86" width="2.58" height="9.79" fill="#f4fafa"/>
<rect x="193.54" y="368.86" width="2.58" height="9.79" fill="#edf7f7"/>
<rect x="196.06" y="368.86" width="2.58" height="9.79" fill="#edf7f7"/>
<rect x="198.57" y="368.86" width="2.58" height="9.79" fill="#f6fbfb"/>
<rect x="201.09" y="368.86" width="2.58" height="9.79" fill="#f9fcfc"/>
<rect x="203.61" y="368.86" width="2.58" height="9.79" fill="#f1f8f9"/>
<rect x="206.12" y="368.86" width="2.58" height="9.79" fill="#f6fbfb"/>
<rect x="208.64" y="368.86" width="2.58" height="9.79" fill="#edf7f7"/>
<rect x="211.15" y="368.86" width="2.58" height="9.79" fill="#f1f8f9"/>
<rect x="213.67" y="368.86" width="2.58" height="9.79" fill="#f7fbfb"/>
<rect x="216.18" y="368.86" width="2.58" height="9.79" fill="#f7fbfb"/>
<rect x="218.70" y="368.86" width="2.58" height="9.79" fill="#f6fbfb"/>
<rect x="221.21" y="368.86" width="2.58" height="9.79" fill="#f1f8f9"/>
<rect x="223.73" y="368.86" width="2.58" height="9.79" fill="#f6fbfb"/>
<rect x="226.24" y="368.86" width="2.58" height="9.79" fill="#f6fbfb"/>
<rect x="228.76" y="368.86" width="2.58" height="9.79" fill="#f4fafa"/>
<rect x="231.28" y="368.86" width="2.58" height="9.79" fill="#edf7f7"/>
<rect x="233.79" y="368.86" width="2.58" height="9.79" fill="#f4fafa"/>
<rect x="236.31" y="368.86" width="2.58" height="9.79" fill="#f1f8f9"/>
<rect x="238.82" y="368.86" width="2.58" height="9.79" fill="#edf7f7"/>
<rect x="241.34" y="368.86" width="2.58" height="9.79" fill="#f9fcfc"/>
<rect x="243.85" y="368.86" width="2.58" height="9.79" fill="#f7fbfb"/>
<rect x="246.37" y="368.86" width="2.58" height="9.79" fill="#f1f8f9"/>
<rect x="248.88" y="368.86" width="2.58" height="9.79" fill="#fcf6f6"/>
<rect x="105.50" y="378.59" width="2.58" height="9.79" fill="#f9fcfc"/>
<rect x="108.02" y="378.59" width="2.58" height="9.79" fill="#fcf2f3"/>
<rect x="110.53" y="378.59" width="2.58" height="9.79" fill="#f8e3e5"/>
<rect x="113.05" y="378.59" width="2.58" height="9.79" fill="#fbfdfd"/>
<rect x="115.56" y="378.59" width="2.58" height="9.79" fill="#f4cfd3"/>
<rect x="118.08" y="378.59" width="2.58" height="9.79" fill="#faeaec"/>
<rect x="120.59" y="378.59" width="2.58" height="9.79" fill="#fdfdfd"/>
<rect x="123.11" y="378.59" width="2.58" height="9.79" fill="#f6d9dc"/>
<rect x="125.62" y="378.59" width="2.58" height="9.79" fill="#f6d9dc"/>
<rect x="128.14" y="378.59" width="2.58" height="9.79" fill="#faecee"/>
<rect x="130.66" y="378.59" width="2.58" height="9.79" fill="#fbfdfd"/>
<rect x="133.17" y="378.59" width="2.58" height="9.79" fill="#f6d8dc"/>
<rect x="135.69" y="378.59" width="2.58" height="9.79" fill="#fefefe"/>
<rect x="138.20" y="378.59" width="2.58" height="9.79" fill="#fcf4f5"/>
<rect x="140.72" y="378.59" width="2.58" height="9.79" fill="#fefefe"/>
<rect x="143.23" y="378.59" width="2.58" height="9.79" fill="#fbfdfd"/>
<rect x="145.75" y="378.59" width="2.58" height="9.79" fill="#fae8ea"/>
<rect x="148.26" y="378.59" width="2.58" height="9.79" fill="#f7fbfb"/>
<rect x="150.78" y="378.59" width="2.58" height="9.79" fill="#fefefe"/>
<rect x="153.29" y="378.59" width="2.58" height="9.79" fill="#fdfdfd"/>
<rect x="155.81" y="378.59" width="2.58" height="9.79" fill="#fdfdfd"/>
<rect x="158.33" y="378.59" width="2.58" height="9.79" fill="#f7fbfb"/>
<rect x="160.84" y="378.59" width="2.58" height="9.79" fill="#fdfdfd"/>
<rect x="163.36" y="378.59" width="2.58" height="9.79" fill="#fbfdfd"/>
<rect x="165.87" y="378.59" width="2.58" height="9.79" fill="#f7dddf"/>
<rect x="168.39" y="378.59" width="2.58" height="9.79" fill="#fefefe"/>
<rect x="170.90" y="378.59" width="2.58" height="9.79" fill="#fefefe"/>
<rect x="173.42" y="378.59" width="2.58" height="9.79" fill="#fdfdfd"/>
<rect x="175.93" y="378.59" width="2.58" height="9.79" fill="#f4fafa"/>
<rect x="178.45" y="378.59" width="2.58" height="9.79" fill="#f9fcfc"/>
<rect x="180.97" y="378.59" width="2.58" height="9.79" fill="#edf7f7"/>
<rect x="183.48" y="378.59" width="2.58" height="9.79" fill="#f6fbfb"/>
<rect x="186.00" y="378.59" width="2.58" height="9.79" fill="#edf7f7"/>
<rect x="188.51" y="378.59" width="2.58" height="9.79" fill="#f1f8f9"/>
<rect x="191.03" y="378.59" width="2.58" height="9.79" fill="#fcf3f4"/>
<rect x="193.54" y="378.59" width="2.58" height="9.79" fill="#f6fbfb"/>
<rect x="196.06" y="378.59" width="2.58" height="9.79" fill="#f6fbfb"/>
<rect x="198.57" y="378.59" width="2.58" height="9.79" fill="#f7fbfb"/>
<rect x="201.09" y="378.59" width="2.58" height="9.79" fill="#fae9eb"/>
<rect x="203.61" y="378.59" width="2.58" height="9.79" fill="#f4fafa"/>
<rect x="206.12" y="378.59" width="2.58" height="9.79" fill="#f4fafa"/>
<rect x="208.64" y="378.59" width="2.58" height="9.79" fill="#f9fcfc"/>
<rect x="211.15" y="378.59" width="2.58" height="9.79" fill="#edf7f7"/>
<rect x="213.67" y="378.59" width="2.58" height="9.79" fill="#edf7f7"/>
<rect x="216.18" y="378.59" width="2.58" height="9.79" fill="#f1f8f9"/>
<rect x="218.70" y="378.59" width="2.58" height="9.79" fill="#f1f8f9"/>
<rect x="221.21" y="378.59" width="2.58" height="9.79" fill="#f1f8f9"/>
<rect x="223.73" y="378.59" width="2.58" height="9.79" fill="#edf7f7"/>
<rect x="226.24" y="378.59" width="2.58" height="9.79" fill="#f4fafa"/>
<rect x="228.76" y="378.59" width="2.58" height="9.79" fill="#f1f8f9"/>
<rect x="231.28" y="378.59" width="2.58" height="9.79" fill="#f9fcfc"/>
<rect x="233.79" y="378.59" width="2.58" height="9.79" fill="#f4fafa"/>
<rect x="236.31" y="378.59" width="2.58" height="9.79" fill="#f7fbfb"/>
<rect x="238.82" y="378.59" width="2.58" height="9.79" fill="#f6fbfb"/>
<rect x="241.34" y="378.59" width="2.58" height="9.79" fill="#f1f8f9"/>
<rect x="243.85" y="378.59" width="2.58" height="9.79" fill="#edf7f7"/>
<rect x="246.37" y="378.59" width="2.58" height="9.79" fill="#f7fbfb"/>
<rect x="248.88" y="378.59" width="2.58" height="9.79" fill="#f1f8f9"/>
<rect x="105.50" y="388.32" width="2.58" height="9.79" fill="#fefefe"/>
<rect x="108.02" y="388.32" width="2.58" height="9.79" fill="#fcf6f7"/>
<rect x="110.53" y="388.32" width="2.58" height="9.79" fill="#f4cdd1"/>
<rect x="113.05" y="388.32" width="2.58" height="9.79" fill="#fbfdfd"/>
<rect x="115.56" y="388.32" width="2.58" height="9.79" fill="#f6d6da"/>
<rect x="118.08" y="388.32" width="2.58" height="9.79" fill="#fbeff0"/>
<rect x="120.59" y="388.32" width="2.58" height="9.79" fill="#fefefe"/>
<rect x="123.11" y="388.32" width="2.58" height="9.79" fill="#fae9eb"/>
<rect x="125.62" y="388.32" width="2.58" height="9.79" fill="#f4ced2"/>
<rect x="128.14" y="388.32" width="2.58" height="9.79" fill="#fbedef"/>
<rect x="130.66" y="388.32" width="2.58" height="9.79" fill="#f9fcfc"/>
<rect x="133.17" y="388.32" width="2.58" height="9.79" fill="#f9e5e7"/>
<rect x="135.69" y="388.32" width="2.58" height="9.79" fill="#f9fcfc"/>
<rect x="138.20" y="388.32" width="2.58" height="9.79" fill="#fbf0f1"/>
<rect x="140.72" y="388.32" width="2.58" height="9.79" fill="#f7fbfb"/>
<rect x="143.23" y="388.32" width="2.58" height="9.79" fill="#fbfdfd"/>
<rect x="145.75" y="388.32" width="2.58" height="9.79" fill="#f7fbfb"/>
<rect x="148.26" y="388.32" width="2.58" height="9.79" fill="#f4cdd1"/>
<rect x="150.78" y="388.32" width="2.58" height="9.79" fill="#fbfdfd"/>
<rect x="153.29" y="388.32" width="2.58" height="9.79" fill="#f5d0d4"/>
<rect x="155.81" y="388.32" width="2.58" height="9.79" fill="#f9fcfc"/>
<rect x="158.33" y="388.32" width="2.58" height="9.79" fill="#fbfdfd"/>
<rect x="160.84" y="388.32" width="2.58" height="9.79" fill="#fefefe"/>
<rect x="163.36" y="388.32" width="2.58" height="9.79" fill="#fdfdfd"/>
<rect x="165.87" y="388.32" width="2.58" height="9.79" fill="#f4cfd3"/>
<rect x="168.39" y="388.32" width="2.58" height="9.79" fill="#f7fbfb"/>
<rect x="170.90" y="388.32" width="2.58" height="9.79" fill="#fdfdfd"/>
<rect x="173.42" y="388.32" width="2.58" height="9.79" fill="#fdfdfd"/>
<rect x="175.93" y="388.32" width="2.58" height="9.79" fill="#f7fbfb"/>
<rect x="178.45" y="388.32" width="2.58" height="9.79" fill="#f4fafa"/>
<rect x="180.97" y="388.32" width="2.58" height="9.79" fill="#edf7f7"/>
<rect x="183.48" y="388.32" width="2.58" height="9.79" fill="#f7fbfb"/>
<rect x="186.00" y="388.32" width="2.58" height="9.79" fill="#f4fafa"/>
<rect x="188.51" y="388.32" width="2.58" height="9.79" fill="#f1f8f9"/>
<rect x="191.03" y="388.32" width="2.58" height="9.79" fill="#edf7f7"/>
<rect x="193.54" y="388.32" width="2.58" height="9.79" fill="#f4fafa"/>
<rect x="196.06" y="388.32" width="2.58" height="9.79" fill="#f9fcfc"/>
<rect x="198.57" y="388.32" width="2.58" height="9.79" fill="#f4fafa"/>
<rect x="201.09" y="388.32" width="2.58" height="9.79" fill="#f8e0e3"/>
<rect x="203.61" y="388.32" width="2.58" height="9.79" fill="#f1f8f9"/>
<rect x="206.12" y="388.32" width="2.58" height="9.79" fill="#edf7f7"/>
<rect x="208.64" y="388.32" width="2.58" height="9.79" fill="#f4fafa"/>
<rect x="211.15" y="388.32" width="2.58" height="9.79" fill="#f1f8f9"/>
<rect x="213.67" y="388.32" width="2.58" height="9.79" fill="#edf7f7"/>
<rect x="216.18" y="388.32" width="2.58" height="9.79" fill="#f1f8f9"/>
<rect x="218.70" y="388.32" width="2.58" height="9.79" fill="#f4fafa"/>
<rect x="221.21" y="388.32" width="2.58" height="9.79" fill="#f1f8f9"/>
<rect x="223.73" y="388.32" width="2.58" height="9.79" fill="#f7fbfb"/>
<rect x="226.24" y="388.32" width="2.58" height="9.79" fill="#f1f8f9"/>
<rect x="228.76" y="388.32" width="2.58" height="9.79" fill="#f6fbfb"/>
<rect x="231.28" y="388.32" width="2.58" height="9.79" fill="#f1f8f9"/>
<rect x="233.79" y="388.32" width="2.58" height="9.79" fill="#f7fbfb"/>
<rect x="236.31" y="388.32" width="2.58" height="9.79" fill="#f1f8f9"/>
<rect x="238.82" y="388.32" width="2.58" height="9.79" fill="#f1f8f9"/>
<rect x="241.34" y="388.32" width="2.58" height="9.79" fill="#f1f8f9"/>
<rect x="243.85" y="388.32" width="2.58" height="9.79" fill="#edf7f7"/>
<rect x="246.37" y="388.32" width="2.58" height="9.79" fill="#edf7f7"/>
<rect x="248.88" y="388.32" width="2.58" height="9.79" fill="#f7fbfb"/>
<rect x="105.50" y="398.05" width="2.58" height="9.79" fill="#f8fbfc"/>
<rect x="108.02" y="398.05" width="2.58" height="9.79" fill="#fafcfd"/>
<rect x="110.53" y="398.05" width="2.58" height="9.79" fill="#f8e0e3"/>
<rect x="113.05" y="398.05" width="2.58" height="9.79" fill="#fefefe"/>
<rect x="115.56" y="398.05" width="2.58" height="9.79" fill="#fcfdfd"/>
<rect x="118.08" y="398.05" width="2.58" height="9.79" fill="#fcf5f6"/>
<rect x="120.59" y="398.05" width="2.58" height="9.79" fill="#fbf0f2"/>
<rect x="123.11" y="398.05" width="2.58" height="9.79" fill="#fbeeef"/>
<rect x="125.62" y="398.05" width="2.58" height="9.79" fill="#fcfdfd"/>
<rect x="128.14" y="398.05" width="2.58" height="9.79" fill="#f6fbfb"/>
<rect x="130.66" y="398.05" width="2.58" height="9.79" fill="#fcfdfd"/>
<rect x="133.17" y="398.05" width="2.58" height="9.79" fill="#fcfdfd"/>
<rect x="135.69" y="398.05" width="2.58" height="9.79" fill="#f9e7e9"/>
<rect x="138.20" y="398.05" width="2.58" height="9.79" fill="#fcfdfd"/>
<rect x="140.72" y="398.05" width="2.58" height="9.79" fill="#f2c4c9"/>
<rect x="143.23" y="398.05" width="2.58" height="9.79" fill="#f9e6e8"/>
<rect x="145.75" y="398.05" width="2.58" height="9.79" fill="#f6fbfb"/>
<rect x="148.26" y="398.05" width="2.58" height="9.79" fill="#fbedef"/>
<rect x="150.78" y="398.05" width="2.58" height="9.79" fill="#f4cdd1"/>
<rect x="153.29" y="398.05" width="2.58" height="9.79" fill="#fefefe"/>
<rect x="155.81" y="398.05" width="2.58" height="9.79" fill="#f3c6cb"/>
<rect x="158.33" y="398.05" width="2.58" height="9.79" fill="#f7dde0"/>
<rect x="160.84" y="398.05" width="2.58" height="9.79" fill="#f6fbfb"/>
<rect x="163.36" y="398.05" width="2.58" height="9.79" fill="#f8fbfc"/>
<rect x="165.87" y="398.05" width="2.58" height="9.79" fill="#fcfdfd"/>
<rect x="168.39" y="398.05" width="2.58" height="9.79" fill="#f6d5d9"/>
<rect x="170.90" y="398.05" width="2.58" height="9.79" fill="#fafcfd"/>
<rect x="173.42" y="398.05" width="2.58" height="9.79" fill="#fcfdfd"/>
<rect x="175.93" y="398.05" width="2.58" height="9.79" fill="#fbf1f2"/>
<rect x="178.45" y="398.05" width="2.58" height="9.79" fill="#f6fbfb"/>
<rect x="180.97" y="398.05" width="2.58" height="9.79" fill="#f8fbfc"/>
<rect x="183.48" y="398.05" width="2.58" height="9.79" fill="#f9e5e7"/>
<rect x="186.00" y="398.05" width="2.58" height="9.79" fill="#fcf5f6"/>
<rect x="188.51" y="398.05" width="2.58" height="9.79" fill="#f8fbfc"/>
<rect x="191.03" y="398.05" width="2.58" height="9.79" fill="#eff7f8"/>
<rect x="193.54" y="398.05" width="2.58" height="9.79" fill="#f5fafa"/>
<rect x="196.06" y="398.05" width="2.58" height="9.79" fill="#eaf5f6"/>
<rect x="198.57" y="398.05" width="2.58" height="9.79" fill="#f5fafa"/>
<rect x="201.09" y="398.05" width="2.58" height="9.79" fill="#f6fbfb"/>
<rect x="203.61" y="398.05" width="2.58" height="9.79" fill="#eff7f8"/>
<rect x="206.12" y="398.05" width="2.58" height="9.79" fill="#f8fbfc"/>
<rect x="208.64" y="398.05" width="2.58" height="9.79" fill="#eaf5f6"/>
<rect x="211.15" y="398.05" width="2.58" height="9.79" fill="#f6fbfb"/>
<rect x="213.67" y="398.05" width="2.58" height="9.79" fill="#eff7f8"/>
<rect x="216.18" y="398.05" width="2.58" height="9.79" fill="#f5fafa"/>
<rect x="218.70" y="398.05" width="2.58" height="9.79" fill="#f5fafa"/>
<rect x="221.21" y="398.05" width="2.58" height="9.79" fill="#fcf3f4"/>
<rect x="223.73" y="398.05" width="2.58" height="9.79" fill="#eff7f8"/>
<rect x="226.24" y="398.05" width="2.58" height="9.79" fill="#f6fbfb"/>
<rect x="228.76" y="398.05" width="2.58" height="9.79" fill="#eff7f8"/>
<rect x="231.28" y="398.05" width="2.58" height="9.79" fill="#eff7f8"/>
<rect x="233.79" y="398.05" width="2.58" height="9.79" fill="#eaf5f6"/>
<rect x="236.31" y="398.05" width="2.58" height="9.79" fill="#eff7f8"/>
<rect x="238.82" y="398.05" width="2.58" height="9.79" fill="#f6fbfb"/>
<rect x="241.34" y="398.05" width="2.58" height="9.79" fill="#eaf5f6"/>
<rect x="243.85" y="398.05" width="2.58" height="9.79" fill="#f6fbfb"/>
<rect x="246.37" y="398.05" width="2.58" height="9.79" fill="#fdf8f9"/>
<rect x="248.88" y="398.05" width="2.58" height="9.79" fill="#f6fbfb"/>
<rect x="105.50" y="407.77" width="2.58" height="9.79" fill="#fcfdfd"/>
<rect x="108.02" y="407.77" width="2.58" height="9.79" fill="#f6fbfb"/>
<rect x="110.53" y="407.77" width="2.58" height="9.79" fill="#f2c5ca"/>
<rect x="113.05" y="407.77" width="2.58" height="9.79" fill="#fcfdfd"/>
<rect x="115.56" y="407.77" width="2.58" height="9.79" fill="#f8fbfc"/>
<rect x="118.08" y="407.77" width="2.58" height="9.79" fill="#fcf4f5"/>
<rect x="120.59" y="407.77" width="2.58" height="9.79" fill="#faedee"/>
<rect x="123.11" y="407.77" width="2.58" height="9.79" fill="#f9e8e9"/>
<rect x="125.62" y="407.77" width="2.58" height="9.79" fill="#f9e5e8"/>
<rect x="128.14" y="407.77" width="2.58" height="9.79" fill="#fcfdfd"/>
<rect x="130.66" y="407.77" width="2.58" height="9.79" fill="#fafcfd"/>
<rect x="133.17" y="407.77" width="2.58" height="9.79" fill="#f8fbfc"/>
<rect x="135.69" y="407.77" width="2.58" height="9.79" fill="#f6fbfb"/>
<rect x="138.20" y="407.77" width="2.58" height="9.79" fill="#f8fbfc"/>
<rect x="140.72" y="407.77" width="2.58" height="9.79" fill="#f7dbde"/>
<rect x="143.23" y="407.77" width="2.58" height="9.79" fill="#faebed"/>
<rect x="145.75" y="407.77" width="2.58" height="9.79" fill="#fefefe"/>
<rect x="148.26" y="407.77" width="2.58" height="9.79" fill="#fafcfd"/>
<rect x="150.78" y="407.77" width="2.58" height="9.79" fill="#f6d7da"/>
<rect x="153.29" y="407.77" width="2.58" height="9.79" fill="#f2c1c7"/>
<rect x="155.81" y="407.77" width="2.58" height="9.79" fill="#fefefe"/>
<rect x="158.33" y="407.77" width="2.58" height="9.79" fill="#f9e7e9"/>
<rect x="160.84" y="407.77" width="2.58" height="9.79" fill="#fefefe"/>
<rect x="163.36" y="407.77" width="2.58" height="9.79" fill="#fafcfd"/>
<rect x="165.87" y="407.77" width="2.58" height="9.79" fill="#f8fbfc"/>
<rect x="168.39" y="407.77" width="2.58" height="9.79" fill="#f7dbde"/>
<rect x="170.90" y="407.77" width="2.58" height="9.79" fill="#f8fbfc"/>
<rect x="173.42" y="407.77" width="2.58" height="9.79" fill="#f8fbfc"/>
<rect x="175.93" y="407.77" width="2.58" height="9.79" fill="#fbf0f2"/>
<rect x="178.45" y="407.77" width="2.58" height="9.79" fill="#f6fbfb"/>
<rect x="180.97" y="407.77" width="2.58" height="9.79" fill="#f3f9fa"/>
<rect x="183.48" y="407.77" width="2.58" height="9.79" fill="#f6fbfb"/>
<rect x="186.00" y="407.77" width="2.58" height="9.79" fill="#fdf9fa"/>
<rect x="188.51" y="407.77" width="2.58" height="9.79" fill="#eaf5f6"/>
<rect x="191.03" y="407.77" width="2.58" height="9.79" fill="#eaf5f6"/>
<rect x="193.54" y="407.77" width="2.58" height="9.79" fill="#eaf5f6"/>
<rect x="196.06" y="407.77" width="2.58" height="9.79" fill="#f8fbfc"/>
<rect x="198.57" y="407.77" width="2.58" height="9.79" fill="#f3f9fa"/>
<rect x="201.09" y="407.77" width="2.58" height="9.79" fill="#f8fbfc"/>
<rect x="203.61" y="407.77" width="2.58" height="9.79" fill="#eff7f8"/>
<rect x="206.12" y="407.77" width="2.58" height="9.79" fill="#f8fbfc"/>
<rect x="208.64" y="407.77" width="2.58" height="9.79" fill="#eaf5f6"/>
<rect x="211.15" y="407.77" width="2.58" height="9.79" fill="#eff7f8"/>
<rect x="213.67" y="407.77" width="2.58" height="9.79" fill="#f3f9fa"/>
<rect x="216.18" y="407.77" width="2.58" height="9.79" fill="#eaf5f6"/>
<rect x="218.70" y="407.77" width="2.58" height="9.79" fill="#f6fbfb"/>
<rect x="221.21" y="407.77" width="2.58" height="9.79" fill="#eaf5f6"/>
<rect x="223.73" y="407.77" width="2.58" height="9.79" fill="#eaf5f6"/>
<rect x="226.24" y="407.77" width="2.58" height="9.79" fill="#f3f9fa"/>
<rect x="228.76" y="407.77" width="2.58" height="9.79" fill="#eff7f8"/>
<rect x="231.28" y="407.77" width="2.58" height="9.79" fill="#eaf5f6"/>
<rect x="233.79" y="407.77" width="2.58" height="9.79" fill="#eaf5f6"/>
<rect x="236.31" y="407.77" width="2.58" height="9.79" fill="#f8fbfc"/>
<rect x="238.82" y="407.77" width="2.58" height="9.79" fill="#f8fbfc"/>
<rect x="241.34" y="407.77" width="2.58" height="9.79" fill="#f6fbfb"/>
<rect x="243.85" y="407.77" width="2.58" height="9.79" fill="#f8fbfc"/>
<rect x="246.37" y="407.77" width="2.58" height="9.79" fill="#eaf5f6"/>
<rect x="248.88" y="407.77" width="2.58" height="9.79" fill="#f3f9fa"/>
<rect x="105.50" y="28.40" width="145.90" height="389.10" fill="none" stroke="#6e6e6e" stroke-width="0.9"/>
<text x="183.30" y="435.20" font-size="7.9" text-anchor="middle" fill="#333" font-weight="normal" >Sample</text>
<path d="M95.30,33.26H92.60V42.99H95.30M95.30,72.17H93.40V81.90H95.30M95.30,62.45H92.60V77.04H93.40M95.30,52.72H88.90V69.74H92.60M92.60,38.13H78.50V61.23H88.90M95.30,91.63H93.70V101.36H95.30M95.30,111.08H88.50V120.81H95.30M95.30,130.54H86.60V140.27H95.30M88.50,115.95H84.30V135.40H86.60M93.70,96.49H83.40V125.68H84.30M95.30,159.72H91.80V169.45H95.30M95.30,149.99H87.20V164.59H91.80M95.30,179.18H84.60V188.90H95.30M87.20,157.29H84.00V184.04H84.60M95.30,218.09H86.10V227.81H95.30M95.30,208.36H85.60V222.95H86.10M95.30,198.63H83.30V215.65H85.60M95.30,247.27H90.10V257.00H95.30M95.30,237.54H86.30V252.13H90.10M95.30,266.72H86.10V276.45H95.30M86.30,244.84H82.50V271.59H86.10M83.30,207.14H78.20V258.21H82.50M95.30,286.18H92.90V295.91H95.30M95.30,305.63H88.50V315.36H95.30M92.90,291.04H86.10V310.50H88.50M95.30,334.82H87.80V344.54H95.30M95.30,325.09H87.20V339.68H87.80M95.30,364.00H87.80V373.73H95.30M95.30,383.45H87.20V393.18H95.30M95.30,402.91H85.40V412.64H95.30M87.20,388.32H83.60V407.77H85.40M87.80,368.86H83.10V398.05H83.60M95.30,354.27H80.40V383.45H83.10M87.20,332.38H77.70V368.86H80.40M86.10,300.77H74.30V350.62H77.70M78.20,232.68H70.90V325.70H74.30M84.00,170.66H69.20V279.19H70.90M83.40,111.08H66.00V224.93H69.20M78.50,49.68H54.50V168.00H66.00" fill="none" stroke="#2b2b2b" stroke-width="1.05" stroke-linejoin="miter" stroke-linecap="square"/>
<text x="258.30" y="24.30" font-size="7.4" text-anchor="start" fill="#1a1a1a" font-weight="bold" >group</text>
<rect x="259.85" y="30.70" width="46.02" height="8.50" fill="#b9b8dd" />
<rect x="259.85" y="40.38" width="68.45" height="8.50" fill="#cbb8dc" />
<rect x="259.85" y="50.06" width="42.60" height="8.50" fill="#cbb8dc" />
<rect x="259.85" y="59.74" width="42.11" height="8.50" fill="#cbb8dc" />
<rect x="259.85" y="69.42" width="38.70" height="8.50" fill="#d8b8da" />
<rect x="259.85" y="79.10" width="40.49" height="8.50" fill="#b9b8dd" />
<rect x="259.85" y="88.78" width="32.03" height="8.50" fill="#b9b8dd" />
<rect x="259.85" y="98.47" width="30.89" height="8.50" fill="#b9b8dd" />
<rect x="259.85" y="108.15" width="27.15" height="8.50" fill="#b9b8dd" />
<rect x="259.85" y="117.83" width="27.80" height="8.50" fill="#cbb8dc" />
<rect x="259.85" y="127.51" width="21.79" height="8.50" fill="#b9b8dd" />
<rect x="259.85" y="137.19" width="56.10" height="8.50" fill="#cbb8dc" />
<rect x="259.85" y="146.87" width="56.91" height="8.50" fill="#b9b8dd" />
<rect x="259.85" y="156.55" width="32.03" height="8.50" fill="#e9bcd2" />
<rect x="259.85" y="166.23" width="43.25" height="8.50" fill="#d8b8da" />
<rect x="259.85" y="175.91" width="28.62" height="8.50" fill="#b9b8dd" />
<rect x="259.85" y="185.59" width="29.27" height="8.50" fill="#b9b8dd" />
<rect x="259.85" y="195.27" width="27.80" height="8.50" fill="#b9b8dd" />
<rect x="259.85" y="204.95" width="53.66" height="8.50" fill="#cbb8dc" />
<rect x="259.85" y="214.63" width="32.03" height="8.50" fill="#e9bcd2" />
<rect x="259.85" y="224.32" width="21.14" height="8.50" fill="#b9b8dd" />
<rect x="259.85" y="234.00" width="19.67" height="8.50" fill="#b9b8dd" />
<rect x="259.85" y="243.68" width="18.70" height="8.50" fill="#d8b8da" />
<rect x="259.85" y="253.36" width="32.68" height="8.50" fill="#cbb8dc" />
<rect x="259.85" y="263.04" width="25.69" height="8.50" fill="#cbb8dc" />
<rect x="259.85" y="272.72" width="24.72" height="8.50" fill="#f3babe" />
<rect x="259.85" y="282.40" width="23.25" height="8.50" fill="#b9b8dd" />
<rect x="259.85" y="292.08" width="20.81" height="8.50" fill="#d8b8da" />
<rect x="259.85" y="301.76" width="19.02" height="8.50" fill="#d8b8da" />
<rect x="259.85" y="311.44" width="28.78" height="8.50" fill="#d8b8da" />
<rect x="259.85" y="321.12" width="26.99" height="8.50" fill="#cbb8dc" />
<rect x="259.85" y="330.80" width="20.33" height="8.50" fill="#b9b8dd" />
<rect x="259.85" y="340.48" width="24.72" height="8.50" fill="#b9b8dd" />
<rect x="259.85" y="350.17" width="43.25" height="8.50" fill="#cbb8dc" />
<rect x="259.85" y="359.85" width="19.67" height="8.50" fill="#e9bcd2" />
<rect x="259.85" y="369.53" width="56.58" height="8.50" fill="#b9b8dd" />
<rect x="259.85" y="379.21" width="22.11" height="8.50" fill="#cbb8dc" />
<rect x="259.85" y="388.89" width="35.12" height="8.50" fill="#b9b8dd" />
<rect x="259.85" y="398.57" width="17.24" height="8.50" fill="#b9b8dd" />
<rect x="259.85" y="408.25" width="24.88" height="8.50" fill="#cbb8dc" />
<rect x="256.20" y="29.20" width="75.50" height="389.20" fill="none" stroke="#555" stroke-width="0.9"/>
<line x1="259.85" y1="418.40" x2="259.85" y2="420.60" stroke="#666" stroke-width="0.7" />
<text x="259.85" y="426.80" font-size="6.3" text-anchor="middle" fill="#888" font-weight="normal" >0</text>
<line x1="276.11" y1="418.40" x2="276.11" y2="420.60" stroke="#666" stroke-width="0.7" />
<text x="276.11" y="426.80" font-size="6.3" text-anchor="middle" fill="#888" font-weight="normal" >1</text>
<line x1="292.37" y1="418.40" x2="292.37" y2="420.60" stroke="#666" stroke-width="0.7" />
<text x="292.37" y="426.80" font-size="6.3" text-anchor="middle" fill="#888" font-weight="normal" >2</text>
<line x1="308.63" y1="418.40" x2="308.63" y2="420.60" stroke="#666" stroke-width="0.7" />
<text x="308.63" y="426.80" font-size="6.3" text-anchor="middle" fill="#888" font-weight="normal" >3</text>
<line x1="324.89" y1="418.40" x2="324.89" y2="420.60" stroke="#666" stroke-width="0.7" />
<text x="324.89" y="426.80" font-size="6.3" text-anchor="middle" fill="#888" font-weight="normal" >4</text>
<text x="292.00" y="435.40" font-size="7.6" text-anchor="middle" fill="#333" font-weight="normal" >logfc</text>
<text x="339.40" y="34.90" font-size="7.5" text-anchor="start" fill="#1a1a1a" font-weight="normal" >Streptococcus_pneumoniae</text>
<text x="339.40" y="44.64" font-size="7.5" text-anchor="start" fill="#1a1a1a" font-weight="normal" >Streptococcus_pseudopneumoniae</text>
<text x="339.40" y="54.38" font-size="7.5" text-anchor="start" fill="#1a1a1a" font-weight="normal" >Streptococcus_gwangjuense</text>
<text x="339.40" y="64.12" font-size="7.5" text-anchor="start" fill="#1a1a1a" font-weight="normal" >Streptococcus_mitis</text>
<text x="339.40" y="73.86" font-size="7.5" text-anchor="start" fill="#1a1a1a" font-weight="normal" >Streptococcus_sp_116D4</text>
<text x="339.40" y="83.60" font-size="7.5" text-anchor="start" fill="#1a1a1a" font-weight="normal" >Streptococcus_toyakuensis</text>
<text x="339.40" y="93.34" font-size="7.5" text-anchor="start" fill="#1a1a1a" font-weight="normal" >Veillonella_nakazawae</text>
<text x="339.40" y="103.08" font-size="7.5" text-anchor="start" fill="#1a1a1a" font-weight="normal" >Veillonella_sp_S1202513</text>
<text x="339.40" y="112.82" font-size="7.5" text-anchor="start" fill="#1a1a1a" font-weight="normal" >Lancefieldella_parvula</text>
<text x="339.40" y="122.56" font-size="7.5" text-anchor="start" fill="#1a1a1a" font-weight="normal" >Veillonella_atypica</text>
<text x="339.40" y="132.30" font-size="7.5" text-anchor="start" fill="#1a1a1a" font-weight="normal" >Granulicatella_adiacens</text>
<text x="339.40" y="142.04" font-size="7.5" text-anchor="start" fill="#1a1a1a" font-weight="normal" >Veillonella_parvula</text>
<text x="339.40" y="151.78" font-size="7.5" text-anchor="start" fill="#1a1a1a" font-weight="normal" >Leptotrichia_hongkongensis</text>
<text x="339.40" y="161.52" font-size="7.5" text-anchor="start" fill="#1a1a1a" font-weight="normal" >Capnocytophaga_endodontalis</text>
<text x="339.40" y="171.26" font-size="7.5" text-anchor="start" fill="#1a1a1a" font-weight="normal" >Capnocytophaga_gingivalis</text>
<text x="339.40" y="181.00" font-size="7.5" text-anchor="start" fill="#1a1a1a" font-weight="normal" >Lautropia_mirabilis</text>
<text x="339.40" y="190.74" font-size="7.5" text-anchor="start" fill="#1a1a1a" font-weight="normal" >Neisseria_sp_oral_taxon_014</text>
<text x="339.40" y="200.48" font-size="7.5" text-anchor="start" fill="#1a1a1a" font-weight="normal" >Prevotella_sp_oral_taxon_475</text>
<text x="339.40" y="210.22" font-size="7.5" text-anchor="start" fill="#1a1a1a" font-weight="normal" >Bergeyella_cardium</text>
<text x="339.40" y="219.96" font-size="7.5" text-anchor="start" fill="#1a1a1a" font-weight="normal" >Streptococcus_sp_NPS_308</text>
<text x="339.40" y="229.70" font-size="7.5" text-anchor="start" fill="#1a1a1a" font-weight="normal" >Campylobacter_showae</text>
<text x="339.40" y="239.44" font-size="7.5" text-anchor="start" fill="#1a1a1a" font-weight="normal" >Streptococcus_cristatus</text>
<text x="339.40" y="249.18" font-size="7.5" text-anchor="start" fill="#1a1a1a" font-weight="normal" >Streptococcus_australis</text>
<text x="339.40" y="258.92" font-size="7.5" text-anchor="start" fill="#1a1a1a" font-weight="normal" >Streptococcus_oralis</text>
<text x="339.40" y="268.66" font-size="7.5" text-anchor="start" fill="#1a1a1a" font-weight="normal" >Ottowia_sp_oral_taxon_894</text>
<text x="339.40" y="278.40" font-size="7.5" text-anchor="start" fill="#1a1a1a" font-weight="normal" >Eikenella_corrodens</text>
<text x="339.40" y="288.14" font-size="7.5" text-anchor="start" fill="#1a1a1a" font-weight="normal" >Streptococcus_sp_MarseilleQ6470</text>
<text x="339.40" y="297.88" font-size="7.5" text-anchor="start" fill="#1a1a1a" font-weight="normal" >Streptococcus_sp_oral_taxon_061</text>
<text x="339.40" y="307.62" font-size="7.5" text-anchor="start" fill="#1a1a1a" font-weight="normal" >Streptococcus_infantis</text>
<text x="339.40" y="317.36" font-size="7.5" text-anchor="start" fill="#1a1a1a" font-weight="normal" >Streptococcus_sp_oral_taxon_431</text>
<text x="339.40" y="327.10" font-size="7.5" text-anchor="start" fill="#1a1a1a" font-weight="normal" >Campylobacter_concisus</text>
<text x="339.40" y="336.84" font-size="7.5" text-anchor="start" fill="#1a1a1a" font-weight="normal" >Rothia_mucilaginosa</text>
<text x="339.40" y="346.58" font-size="7.5" text-anchor="start" fill="#1a1a1a" font-weight="normal" >Gemella_haemolysans</text>
<text x="339.40" y="356.32" font-size="7.5" text-anchor="start" fill="#1a1a1a" font-weight="normal" >Prevotella_denticola</text>
<text x="339.40" y="366.06" font-size="7.5" text-anchor="start" fill="#1a1a1a" font-weight="normal" >Streptococcus_salivarius</text>
<text x="339.40" y="375.80" font-size="7.5" text-anchor="start" fill="#1a1a1a" font-weight="normal" >Streptococcus_thermophilus</text>
<text x="339.40" y="385.54" font-size="7.5" text-anchor="start" fill="#1a1a1a" font-weight="normal" >Prevotella_melaninogenica</text>
<text x="339.40" y="395.28" font-size="7.5" text-anchor="start" fill="#1a1a1a" font-weight="normal" >Capnocytophaga_sputigena</text>
<text x="339.40" y="405.02" font-size="7.5" text-anchor="start" fill="#1a1a1a" font-weight="normal" >Actinomyces_pacaensis</text>
<text x="339.40" y="414.76" font-size="7.5" text-anchor="start" fill="#1a1a1a" font-weight="normal" >Prevotella_jejuni</text>
<text x="504.80" y="32.40" font-size="7.4" text-anchor="start" fill="#1a1a1a" font-weight="bold" >group</text>
<rect x="504.50" y="39.00" width="11.20" height="10.95" fill="#f0958c" />
<text x="517.60" y="47.00" font-size="7.5" text-anchor="start" fill="#1a1a1a" font-weight="normal" >cap</text>
<rect x="504.50" y="49.95" width="11.20" height="10.95" fill="#8eb1e1" />
<text x="517.60" y="57.95" font-size="7.5" text-anchor="start" fill="#1a1a1a" font-weight="normal" >followup</text>
<rect x="504.50" y="60.90" width="11.20" height="10.95" fill="#6cc06b" />
<text x="517.60" y="68.90" font-size="7.5" text-anchor="start" fill="#1a1a1a" font-weight="normal" >health</text>
<text x="504.80" y="84.20" font-size="7.4" text-anchor="start" fill="#1a1a1a" font-weight="bold" >genus</text>
<rect x="504.50" y="88.80" width="11.20" height="10.96" fill="#8cd2c6" />
<text x="517.60" y="96.80" font-size="7.5" text-anchor="start" fill="#1a1a1a" font-weight="normal" >g__Actinomyces</text>
<rect x="504.50" y="99.76" width="11.20" height="10.96" fill="#c3e3bf" />
<text x="517.60" y="107.76" font-size="7.5" text-anchor="start" fill="#1a1a1a" font-weight="normal" >g__Bergeyella</text>
<rect x="504.50" y="110.72" width="11.20" height="10.96" fill="#f4f1b1" />
<text x="517.60" y="118.72" font-size="7.5" text-anchor="start" fill="#1a1a1a" font-weight="normal" >g__Campylobacter</text>
<rect x="504.50" y="121.68" width="11.20" height="10.96" fill="#e2e1c6" />
<text x="517.60" y="129.68" font-size="7.5" text-anchor="start" fill="#1a1a1a" font-weight="normal" >g__Capnocytophaga</text>
<rect x="504.50" y="132.64" width="11.20" height="10.96" fill="#f8cbe0" />
<text x="517.60" y="140.64" font-size="7.5" text-anchor="start" fill="#1a1a1a" font-weight="normal" >g__Eikenella</text>
<rect x="504.50" y="143.60" width="11.20" height="10.96" fill="#d9d5aa" />
<text x="517.60" y="151.60" font-size="7.5" text-anchor="start" fill="#1a1a1a" font-weight="normal" >g__Gemella</text>
<rect x="504.50" y="154.56" width="11.20" height="10.96" fill="#cfa2b9" />
<text x="517.60" y="162.56" font-size="7.5" text-anchor="start" fill="#1a1a1a" font-weight="normal" >g__Granulicatella</text>
<rect x="504.50" y="165.52" width="11.20" height="10.96" fill="#f08a82" />
<text x="517.60" y="173.52" font-size="7.5" text-anchor="start" fill="#1a1a1a" font-weight="normal" >g__Lancefieldella</text>
<rect x="504.50" y="176.48" width="11.20" height="10.96" fill="#dc868a" />
<text x="517.60" y="184.48" font-size="7.5" text-anchor="start" fill="#1a1a1a" font-weight="normal" >g__Lautropia</text>
<rect x="504.50" y="187.44" width="11.20" height="10.96" fill="#9d9dbd" />
<text x="517.60" y="195.44" font-size="7.5" text-anchor="start" fill="#1a1a1a" font-weight="normal" >g__Leptotrichia</text>
<rect x="504.50" y="198.40" width="11.20" height="10.96" fill="#d5af87" />
<text x="517.60" y="206.40" font-size="7.5" text-anchor="start" fill="#1a1a1a" font-weight="normal" >g__Neisseria</text>
<rect x="504.50" y="209.36" width="11.20" height="10.96" fill="#94b0bc" />
<text x="517.60" y="217.36" font-size="7.5" text-anchor="start" fill="#1a1a1a" font-weight="normal" >g__Ottowia</text>
<rect x="504.50" y="220.32" width="11.20" height="10.96" fill="#cac6db" />
<text x="517.60" y="228.32" font-size="7.5" text-anchor="start" fill="#1a1a1a" font-weight="normal" >g__Prevotella</text>
<rect x="504.50" y="231.28" width="11.20" height="10.96" fill="#b2d776" />
<text x="517.60" y="239.28" font-size="7.5" text-anchor="start" fill="#1a1a1a" font-weight="normal" >g__Rothia</text>
<rect x="504.50" y="242.24" width="11.20" height="10.96" fill="#cfca68" />
<text x="517.60" y="250.24" font-size="7.5" text-anchor="start" fill="#1a1a1a" font-weight="normal" >g__Streptococcus</text>
<rect x="504.50" y="253.20" width="11.20" height="10.96" fill="#f1b866" />
<text x="517.60" y="261.20" font-size="7.5" text-anchor="start" fill="#1a1a1a" font-weight="normal" >g__Veillonella</text>
<text x="615.20" y="37.00" font-size="7.5" text-anchor="start" fill="#1a1a1a" font-weight="normal" >Relative</text>
<text x="615.20" y="46.30" font-size="7.5" text-anchor="start" fill="#1a1a1a" font-weight="normal" >abundance</text>
<defs><linearGradient id="ra" x1="0" y1="0" x2="0" y2="1"><stop offset="0" stop-color="#e8939c"/><stop offset="0.5" stop-color="#fdfdfd"/><stop offset="1" stop-color="#5db8bf"/></linearGradient><linearGradient id="fdr" x1="0" y1="0" x2="0" y2="1"><stop offset="0" stop-color="#ecb6bc"/><stop offset="0.5" stop-color="#d8b8d6"/><stop offset="1" stop-color="#b8b7d9"/></linearGradient></defs>
<rect x="622.10" y="52.30" width="7.70" height="77.40" fill="url(#ra)" />
<text x="632.30" y="67.50" font-size="7.5" text-anchor="start" fill="#1a1a1a" font-weight="normal" >5</text>
<text x="632.30" y="93.90" font-size="7.5" text-anchor="start" fill="#1a1a1a" font-weight="normal" >0</text>
<text x="632.30" y="119.60" font-size="7.5" text-anchor="start" fill="#1a1a1a" font-weight="normal" >−5</text>
<text x="618.40" y="149.90" font-size="7.5" text-anchor="start" fill="#1a1a1a" font-weight="normal" >FDR</text>
<rect x="622.10" y="153.30" width="7.70" height="79.60" fill="url(#fdr)" />
<text x="632.50" y="161.00" font-size="7.5" text-anchor="start" fill="#1a1a1a" font-weight="normal" >0.08</text>
<line x1="622.10" y1="160.30" x2="623.60" y2="160.30" stroke="#fff" stroke-width="0.6" />
<line x1="628.30" y1="160.30" x2="629.80" y2="160.30" stroke="#fff" stroke-width="0.6" />
<text x="632.50" y="179.05" font-size="7.5" text-anchor="start" fill="#1a1a1a" font-weight="normal" >0.06</text>
<line x1="622.10" y1="178.35" x2="623.60" y2="178.35" stroke="#fff" stroke-width="0.6" />
<line x1="628.30" y1="178.35" x2="629.80" y2="178.35" stroke="#fff" stroke-width="0.6" />
<text x="632.50" y="197.10" font-size="7.5" text-anchor="start" fill="#1a1a1a" font-weight="normal" >0.04</text>
<line x1="622.10" y1="196.40" x2="623.60" y2="196.40" stroke="#fff" stroke-width="0.6" />
<line x1="628.30" y1="196.40" x2="629.80" y2="196.40" stroke="#fff" stroke-width="0.6" />
<text x="632.50" y="215.15" font-size="7.5" text-anchor="start" fill="#1a1a1a" font-weight="normal" >0.02</text>
<line x1="622.10" y1="214.45" x2="623.60" y2="214.45" stroke="#fff" stroke-width="0.6" />
<line x1="628.30" y1="214.45" x2="629.80" y2="214.45" stroke="#fff" stroke-width="0.6" />
<text x="632.50" y="233.20" font-size="7.5" text-anchor="start" fill="#1a1a1a" font-weight="normal" >0.00</text>
<line x1="557.3" y1="290.4" x2="568.3" y2="290.4" stroke="#f29a8c" stroke-width="1.1"/><circle cx="563.0" cy="290.4" r="2.1" fill="#f29a8c"/><text x="570.2" y="293.10" font-size="7.4" fill="#1a1a1a">T1</text>
<line x1="590.7" y1="290.4" x2="601.5" y2="290.4" stroke="#86c275" stroke-width="1.1"/><circle cx="596.2" cy="290.4" r="2.1" fill="#86c275"/><text x="603.4" y="293.10" font-size="7.4" fill="#1a1a1a">T3</text>
<line x1="624.3" y1="290.4" x2="634.7" y2="290.4" stroke="#6a62c6" stroke-width="1.1"/><circle cx="629.6" cy="290.4" r="2.1" fill="#6a62c6"/><text x="637.0" y="293.10" font-size="7.4" fill="#1a1a1a">T2</text>
<circle cx="591.38" cy="330.58" r="1.15" fill="#f29a8c"/>
<circle cx="607.36" cy="338.57" r="1.15" fill="#f29a8c"/>
<circle cx="599.37" cy="345.93" r="1.15" fill="#f29a8c"/>
<circle cx="595.80" cy="350.13" r="1.15" fill="#f29a8c"/>
<circle cx="588.23" cy="350.97" r="1.15" fill="#f29a8c"/>
<circle cx="604.00" cy="353.71" r="1.15" fill="#f29a8c"/>
<circle cx="629.43" cy="356.44" r="1.15" fill="#f29a8c"/>
<circle cx="592.22" cy="367.37" r="1.15" fill="#f29a8c"/>
<circle cx="611.35" cy="372.63" r="1.15" fill="#f29a8c"/>
<circle cx="603.58" cy="375.36" r="1.15" fill="#f29a8c"/>
<circle cx="576.25" cy="386.29" r="1.15" fill="#f29a8c"/>
<circle cx="582.13" cy="383.77" r="1.15" fill="#f29a8c"/>
<circle cx="593.06" cy="378.51" r="1.15" fill="#f29a8c"/>
<circle cx="611.35" cy="383.14" r="1.15" fill="#f29a8c"/>
<circle cx="634.06" cy="381.04" r="1.15" fill="#f29a8c"/>
<circle cx="580.45" cy="396.38" r="1.15" fill="#f29a8c"/>
<circle cx="662.86" cy="415.30" r="1.15" fill="#f29a8c"/>
<circle cx="588.44" cy="342.78" r="1.15" fill="#86c275"/>
<circle cx="611.35" cy="344.67" r="1.15" fill="#86c275"/>
<circle cx="590.96" cy="354.76" r="1.15" fill="#86c275"/>
<circle cx="626.07" cy="358.96" r="1.15" fill="#86c275"/>
<circle cx="579.82" cy="374.73" r="1.15" fill="#86c275"/>
<circle cx="588.44" cy="373.05" r="1.15" fill="#86c275"/>
<circle cx="595.17" cy="379.98" r="1.15" fill="#86c275"/>
<circle cx="586.76" cy="388.39" r="1.15" fill="#86c275"/>
<circle cx="605.26" cy="393.86" r="1.15" fill="#86c275"/>
<circle cx="647.30" cy="381.67" r="1.15" fill="#86c275"/>
<circle cx="652.56" cy="385.87" r="1.15" fill="#86c275"/>
<circle cx="648.14" cy="393.02" r="1.15" fill="#86c275"/>
<circle cx="578.77" cy="408.99" r="1.15" fill="#86c275"/>
<circle cx="577.93" cy="414.67" r="1.15" fill="#86c275"/>
<circle cx="588.44" cy="411.52" r="1.15" fill="#86c275"/>
<circle cx="608.20" cy="338.99" r="1.15" fill="#6a62c6"/>
<circle cx="604.21" cy="340.04" r="1.15" fill="#6a62c6"/>
<circle cx="605.68" cy="342.78" r="1.15" fill="#6a62c6"/>
<circle cx="610.93" cy="342.15" r="1.15" fill="#6a62c6"/>
<circle cx="602.52" cy="345.93" r="1.15" fill="#6a62c6"/>
<circle cx="598.32" cy="345.30" r="1.15" fill="#6a62c6"/>
<circle cx="600.00" cy="347.61" r="1.15" fill="#6a62c6"/>
<circle cx="591.80" cy="348.03" r="1.15" fill="#6a62c6"/>
<circle cx="592.64" cy="356.86" r="1.15" fill="#6a62c6"/>
<circle cx="621.86" cy="355.39" r="1.15" fill="#6a62c6"/>
<circle cx="586.76" cy="364.22" r="1.15" fill="#6a62c6"/>
<circle cx="588.44" cy="365.27" r="1.15" fill="#6a62c6"/>
<circle cx="586.34" cy="367.79" r="1.15" fill="#6a62c6"/>
<circle cx="582.55" cy="370.52" r="1.15" fill="#6a62c6"/>
<circle cx="575.83" cy="375.15" r="1.15" fill="#6a62c6"/>
<circle cx="609.88" cy="368.84" r="1.15" fill="#6a62c6"/>
<circle cx="641.41" cy="392.18" r="1.15" fill="#6a62c6"/>
<circle cx="658.65" cy="387.34" r="1.15" fill="#6a62c6"/>
<circle cx="609.46" cy="393.65" r="1.15" fill="#6a62c6"/>
<circle cx="588.44" cy="395.75" r="1.15" fill="#6a62c6"/>
<circle cx="589.91" cy="394.70" r="1.15" fill="#6a62c6"/>
<circle cx="590.96" cy="398.90" r="1.15" fill="#6a62c6"/>
<circle cx="576.67" cy="419.29" r="1.15" fill="#6a62c6"/>
<circle cx="576.67" cy="420.98" r="1.15" fill="#6a62c6"/>
<ellipse cx="601.76" cy="380.04" rx="65.50" ry="55.02" fill="none" stroke="#9ccb89" stroke-width="1.35" transform="rotate(-24.44 601.76 380.04)"/>
<ellipse cx="599.49" cy="364.77" rx="45.72" ry="40.11" fill="none" stroke="#f3a395" stroke-width="1.35" transform="rotate(78.86 599.49 364.77)"/>
<ellipse cx="596.79" cy="364.77" rx="60.82" ry="33.39" fill="none" stroke="#7269c6" stroke-width="1.35" transform="rotate(107.43 596.79 364.77)"/>
<rect x="531.7" y="300.1" width="140.2" height="144.0" fill="none" stroke="#444" stroke-width="0.9"/>
<text x="641" y="314.4" font-size="5.2" fill="#222">R<tspan dy="-1.6" font-size="3.5">2</tspan><tspan dy="1.6"> = 0.026</tspan></text>
<text x="641" y="321.7" font-size="5.2" fill="#222">P =  0.779</text>
<text x="603.2" y="458.0" font-size="7.7" text-anchor="middle" fill="#333">PC1 (26.8%)</text>
<text x="0" y="0" font-size="7.7" text-anchor="middle" fill="#333" transform="translate(514.6 370.5) rotate(-90)">PC1 (14.4%)</text>
<line x1="558.0" y1="473.1" x2="567.6" y2="473.1" stroke="#f29a8c" stroke-width="1.1"/><circle cx="562.7" cy="473.1" r="2.1" fill="#f29a8c"/><text x="572.0" y="475.80" font-size="7.4" fill="#1a1a1a">CAP</text>
<line x1="601.2" y1="473.1" x2="611.1" y2="473.1" stroke="#5bbfca" stroke-width="1.1"/><circle cx="606.2" cy="473.1" r="2.1" fill="#5bbfca"/><text x="615.5" y="475.80" font-size="7.4" fill="#1a1a1a">Follow-up</text>
<circle cx="569.94" cy="513.74" r="1.15" fill="#f29a8c"/>
<circle cx="568.89" cy="526.77" r="1.15" fill="#f29a8c"/>
<circle cx="582.97" cy="523.20" r="1.15" fill="#f29a8c"/>
<circle cx="586.34" cy="523.20" r="1.15" fill="#f29a8c"/>
<circle cx="584.24" cy="526.77" r="1.15" fill="#f29a8c"/>
<circle cx="592.01" cy="526.77" r="1.15" fill="#f29a8c"/>
<circle cx="578.77" cy="528.45" r="1.15" fill="#f29a8c"/>
<circle cx="576.67" cy="528.87" r="1.15" fill="#f29a8c"/>
<circle cx="572.46" cy="530.97" r="1.15" fill="#f29a8c"/>
<circle cx="581.50" cy="531.18" r="1.15" fill="#f29a8c"/>
<circle cx="578.77" cy="532.03" r="1.15" fill="#f29a8c"/>
<circle cx="575.83" cy="533.29" r="1.15" fill="#f29a8c"/>
<circle cx="569.52" cy="533.71" r="1.15" fill="#f29a8c"/>
<circle cx="569.94" cy="537.91" r="1.15" fill="#f29a8c"/>
<circle cx="584.24" cy="537.49" r="1.15" fill="#f29a8c"/>
<circle cx="570.99" cy="540.64" r="1.15" fill="#f29a8c"/>
<circle cx="575.83" cy="542.12" r="1.15" fill="#f29a8c"/>
<circle cx="598.95" cy="541.06" r="1.15" fill="#f29a8c"/>
<circle cx="602.52" cy="542.75" r="1.15" fill="#f29a8c"/>
<circle cx="607.36" cy="541.70" r="1.15" fill="#f29a8c"/>
<circle cx="564.06" cy="545.69" r="1.15" fill="#f29a8c"/>
<circle cx="569.52" cy="549.05" r="1.15" fill="#f29a8c"/>
<circle cx="566.79" cy="549.47" r="1.15" fill="#f29a8c"/>
<circle cx="566.16" cy="551.58" r="1.15" fill="#f29a8c"/>
<circle cx="588.86" cy="552.00" r="1.15" fill="#f29a8c"/>
<circle cx="590.54" cy="553.05" r="1.15" fill="#f29a8c"/>
<circle cx="562.58" cy="555.36" r="1.15" fill="#f29a8c"/>
<circle cx="580.03" cy="557.46" r="1.15" fill="#f29a8c"/>
<circle cx="557.75" cy="558.30" r="1.15" fill="#f29a8c"/>
<circle cx="556.28" cy="558.93" r="1.15" fill="#f29a8c"/>
<circle cx="573.09" cy="561.04" r="1.15" fill="#f29a8c"/>
<circle cx="575.20" cy="563.77" r="1.15" fill="#f29a8c"/>
<circle cx="555.65" cy="566.71" r="1.15" fill="#f29a8c"/>
<circle cx="559.43" cy="566.29" r="1.15" fill="#f29a8c"/>
<circle cx="609.88" cy="566.29" r="1.15" fill="#f29a8c"/>
<circle cx="625.65" cy="565.87" r="1.15" fill="#f29a8c"/>
<circle cx="627.75" cy="571.13" r="1.15" fill="#f29a8c"/>
<circle cx="631.53" cy="574.28" r="1.15" fill="#f29a8c"/>
<circle cx="589.28" cy="567.97" r="1.15" fill="#f29a8c"/>
<circle cx="588.86" cy="575.75" r="1.15" fill="#f29a8c"/>
<circle cx="584.24" cy="578.48" r="1.15" fill="#f29a8c"/>
<circle cx="565.74" cy="571.97" r="1.15" fill="#f29a8c"/>
<circle cx="568.89" cy="575.75" r="1.15" fill="#f29a8c"/>
<circle cx="567.84" cy="579.53" r="1.15" fill="#f29a8c"/>
<circle cx="561.11" cy="580.59" r="1.15" fill="#f29a8c"/>
<circle cx="572.46" cy="582.69" r="1.15" fill="#f29a8c"/>
<circle cx="617.24" cy="578.06" r="1.15" fill="#f29a8c"/>
<circle cx="620.81" cy="578.06" r="1.15" fill="#f29a8c"/>
<circle cx="558.38" cy="591.52" r="1.15" fill="#f29a8c"/>
<circle cx="559.43" cy="596.77" r="1.15" fill="#f29a8c"/>
<circle cx="566.79" cy="595.30" r="1.15" fill="#f29a8c"/>
<circle cx="556.28" cy="600.35" r="1.15" fill="#f29a8c"/>
<circle cx="557.75" cy="602.03" r="1.15" fill="#f29a8c"/>
<circle cx="634.69" cy="600.56" r="1.15" fill="#f29a8c"/>
<circle cx="590.96" cy="523.62" r="1.15" fill="#5bbfca"/>
<circle cx="567.84" cy="553.68" r="1.15" fill="#5bbfca"/>
<circle cx="618.92" cy="543.38" r="1.15" fill="#5bbfca"/>
<circle cx="610.93" cy="551.58" r="1.15" fill="#5bbfca"/>
<circle cx="616.19" cy="550.95" r="1.15" fill="#5bbfca"/>
<circle cx="629.85" cy="565.87" r="1.15" fill="#5bbfca"/>
<circle cx="571.62" cy="571.13" r="1.15" fill="#5bbfca"/>
<circle cx="588.86" cy="569.65" r="1.15" fill="#5bbfca"/>
<ellipse cx="577.53" cy="552.77" rx="53.86" ry="38.96" fill="none" stroke="#f3a395" stroke-width="1.35" transform="rotate(102.72 577.53 552.77)"/>
<ellipse cx="601.15" cy="554.69" rx="65.20" ry="38.06" fill="none" stroke="#7cccd4" stroke-width="1.35" transform="rotate(-11.90 601.15 554.69)"/>
<rect x="531.7" y="480.5" width="140.2" height="144.5" fill="none" stroke="#444" stroke-width="0.9"/>
<text x="632.4" y="497.4" font-size="5.2" fill="#222">P =  0.006</text>
<text x="632.4" y="503.3" font-size="5.2" fill="#222">R<tspan dy="-1.6" font-size="3.5">2</tspan><tspan dy="1.6"> = 0.045</tspan></text>
<text x="606.0" y="638.7" font-size="7.7" text-anchor="middle" fill="#333">PC1 (29.3%)</text>
<text x="0" y="0" font-size="7.7" text-anchor="middle" fill="#333" transform="translate(518.4 544.5) rotate(-90)">PC1 (13.2%)</text>
<rect x="84.1" y="489.30" width="5.8" height="7.3" fill="#5560b0"/>
<text x="96.4" y="495.50" font-size="7.05" fill="#1a1a1a">Neisseria_sp_oral_taxon_014</text>
<rect x="84.1" y="498.07" width="5.8" height="7.3" fill="#d23a31"/>
<text x="96.4" y="504.27" font-size="7.05" fill="#1a1a1a">Eikenella_corrodens</text>
<rect x="84.1" y="506.84" width="5.8" height="7.3" fill="#6a9b4b"/>
<text x="96.4" y="513.04" font-size="7.05" fill="#1a1a1a">Ottowia_sp_oral_taxon_894</text>
<rect x="84.1" y="515.61" width="5.8" height="7.3" fill="#efe17f"/>
<text x="96.4" y="521.81" font-size="7.05" fill="#1a1a1a">Lautropia_mirabilis</text>
<rect x="84.1" y="524.38" width="5.8" height="7.3" fill="#41607f"/>
<text x="96.4" y="530.58" font-size="7.05" fill="#1a1a1a">Leptotrichia_hongkongensis</text>
<rect x="84.1" y="533.15" width="5.8" height="7.3" fill="#c0623a"/>
<text x="96.4" y="539.35" font-size="7.05" fill="#1a1a1a">Campylobacter_showae</text>
<rect x="84.1" y="541.92" width="5.8" height="7.3" fill="#5cb2e2"/>
<text x="96.4" y="548.12" font-size="7.05" fill="#1a1a1a">Campylobacter_concisus</text>
<rect x="84.1" y="550.69" width="5.8" height="7.3" fill="#7d1b6e"/>
<text x="96.4" y="556.89" font-size="7.05" fill="#1a1a1a">Bergeyella_cardium</text>
<rect x="84.1" y="559.46" width="5.8" height="7.3" fill="#6cc46a"/>
<text x="96.4" y="565.66" font-size="7.05" fill="#1a1a1a">Capnocytophaga_sputigena</text>
<rect x="84.1" y="568.23" width="5.8" height="7.3" fill="#da93aa"/>
<text x="96.4" y="574.43" font-size="7.05" fill="#1a1a1a">Capnocytophaga_gingivalis</text>
<rect x="84.1" y="577.00" width="5.8" height="7.3" fill="#8c4025"/>
<text x="96.4" y="583.20" font-size="7.05" fill="#1a1a1a">Capnocytophaga_endodontalis</text>
<rect x="84.1" y="585.77" width="5.8" height="7.3" fill="#7f7289"/>
<text x="96.4" y="591.97" font-size="7.05" fill="#1a1a1a">Prevotella_sp_oral_taxon_475</text>
<rect x="84.1" y="594.54" width="5.8" height="7.3" fill="#d25526"/>
<text x="96.4" y="600.74" font-size="7.05" fill="#1a1a1a">Prevotella_melaninogenica</text>
<rect x="84.1" y="603.31" width="5.8" height="7.3" fill="#d98f5c"/>
<text x="96.4" y="609.51" font-size="7.05" fill="#1a1a1a">Prevotella_jejuni</text>
<rect x="84.1" y="612.08" width="5.8" height="7.3" fill="#7c65b5"/>
<text x="96.4" y="618.28" font-size="7.05" fill="#1a1a1a">Prevotella_denticola</text>
<rect x="84.1" y="620.85" width="5.8" height="7.3" fill="#e9b46b"/>
<text x="96.4" y="627.05" font-size="7.05" fill="#1a1a1a">Veillonella_sp_S1202513</text>
<rect x="84.1" y="629.62" width="5.8" height="7.3" fill="#3b1a50"/>
<text x="96.4" y="635.82" font-size="7.05" fill="#1a1a1a">Veillonella_parvula</text>
<rect x="84.1" y="638.39" width="5.8" height="7.3" fill="#d5e4bf"/>
<text x="96.4" y="644.59" font-size="7.05" fill="#1a1a1a">Veillonella_nakazawae</text>
<rect x="84.1" y="647.16" width="5.8" height="7.3" fill="#6a2a8b"/>
<text x="96.4" y="653.36" font-size="7.05" fill="#1a1a1a">Veillonella_atypica</text>
<rect x="84.1" y="655.93" width="5.8" height="7.3" fill="#c1185c"/>
<text x="96.4" y="662.13" font-size="7.05" fill="#1a1a1a">Streptococcus_toyakuensis</text>
<rect x="294.1" y="487.50" width="6.6" height="7.3" fill="#e4c46f"/>
<text x="306.9" y="493.70" font-size="7.05" fill="#1a1a1a">Streptococcus_thermophilus</text>
<rect x="294.1" y="496.27" width="6.6" height="7.3" fill="#56635a"/>
<text x="306.9" y="502.47" font-size="7.05" fill="#1a1a1a">Streptococcus_sp_oral_taxon_431</text>
<rect x="294.1" y="505.04" width="6.6" height="7.3" fill="#c9952b"/>
<text x="306.9" y="511.24" font-size="7.05" fill="#1a1a1a">Streptococcus_sp_oral_taxon_061</text>
<rect x="294.1" y="513.81" width="6.6" height="7.3" fill="#9dcb3c"/>
<text x="306.9" y="520.01" font-size="7.05" fill="#1a1a1a">Streptococcus_sp_NPS_308</text>
<rect x="294.1" y="522.58" width="6.6" height="7.3" fill="#a9a9a9"/>
<text x="306.9" y="528.78" font-size="7.05" fill="#1a1a1a">Streptococcus_sp_MarseilleQ6470</text>
<rect x="294.1" y="531.35" width="6.6" height="7.3" fill="#cc9a31"/>
<text x="306.9" y="537.55" font-size="7.05" fill="#1a1a1a">Streptococcus_sp_116D4</text>
<rect x="294.1" y="540.12" width="6.6" height="7.3" fill="#9acb3c"/>
<text x="306.9" y="546.32" font-size="7.05" fill="#1a1a1a">Streptococcus_salivarius</text>
<rect x="294.1" y="548.89" width="6.6" height="7.3" fill="#4db848"/>
<text x="306.9" y="555.09" font-size="7.05" fill="#1a1a1a">Streptococcus_pseudopneumoniae</text>
<rect x="294.1" y="557.66" width="6.6" height="7.3" fill="#4cb648"/>
<text x="306.9" y="563.86" font-size="7.05" fill="#1a1a1a">Streptococcus_pneumoniae</text>
<rect x="294.1" y="566.43" width="6.6" height="7.3" fill="#3fb8a0"/>
<text x="306.9" y="572.63" font-size="7.05" fill="#1a1a1a">Streptococcus_oralis</text>
<rect x="294.1" y="575.20" width="6.6" height="7.3" fill="#1a99d5"/>
<text x="306.9" y="581.40" font-size="7.05" fill="#1a1a1a">Streptococcus_mitis</text>
<rect x="294.1" y="583.97" width="6.6" height="7.3" fill="#3b60ae"/>
<text x="306.9" y="590.17" font-size="7.05" fill="#1a1a1a">Streptococcus_infantis</text>
<rect x="294.1" y="592.74" width="6.6" height="7.3" fill="#4b70c0"/>
<text x="306.9" y="598.94" font-size="7.05" fill="#1a1a1a">Streptococcus_gwangjuense</text>
<rect x="294.1" y="601.51" width="6.6" height="7.3" fill="#fec20f"/>
<text x="306.9" y="607.71" font-size="7.05" fill="#1a1a1a">Streptococcus_cristatus</text>
<rect x="294.1" y="610.28" width="6.6" height="7.3" fill="#fed24b"/>
<text x="306.9" y="616.48" font-size="7.05" fill="#1a1a1a">Streptococcus_australis</text>
<rect x="294.1" y="619.05" width="6.6" height="7.3" fill="#9d1b3d"/>
<text x="306.9" y="625.25" font-size="7.05" fill="#1a1a1a">Granulicatella_adiacens</text>
<rect x="294.1" y="627.82" width="6.6" height="7.3" fill="#a01f23"/>
<text x="306.9" y="634.02" font-size="7.05" fill="#1a1a1a">Gemella_haemolysans</text>
<rect x="294.1" y="636.59" width="6.6" height="7.3" fill="#9a6426"/>
<text x="306.9" y="642.79" font-size="7.05" fill="#1a1a1a">Lancefieldella_parvula</text>
<rect x="294.1" y="645.36" width="6.6" height="7.3" fill="#7f9b3b"/>
<text x="306.9" y="651.56" font-size="7.05" fill="#1a1a1a">Rothia_mucilaginosa</text>
<rect x="294.1" y="654.13" width="6.6" height="7.3" fill="#3a9a4b"/>
<text x="306.9" y="660.33" font-size="7.05" fill="#1a1a1a">Actinomyces_pacaensis</text>
<rect x="28.30" y="871.13" width="8.9" height="1.39" fill="#5560b0"/>
<rect x="28.30" y="870.11" width="8.9" height="1.04" fill="#d25526"/>
<rect x="28.30" y="869.09" width="8.9" height="1.04" fill="#3b1a50"/>
<rect x="28.30" y="861.94" width="8.9" height="7.17" fill="#c1185c"/>
<rect x="28.30" y="860.24" width="8.9" height="1.72" fill="#7f9b3b"/>
<rect x="28.30" y="856.49" width="8.9" height="3.77" fill="#cc9a31"/>
<rect x="28.30" y="649.46" width="8.9" height="207.05" fill="#4cb648"/>
<rect x="28.30" y="641.46" width="8.9" height="8.02" fill="#3fb8a0"/>
<rect x="28.30" y="597.54" width="8.9" height="43.94" fill="#1a99d5"/>
<rect x="28.30" y="595.83" width="8.9" height="1.72" fill="#4b70c0"/>
<rect x="28.30" y="594.47" width="8.9" height="1.38" fill="#e9b46b"/>
<rect x="38.05" y="859.04" width="8.9" height="13.48" fill="#5cb2e2"/>
<rect x="38.05" y="836.91" width="8.9" height="22.15" fill="#6cc46a"/>
<rect x="38.05" y="827.89" width="8.9" height="9.04" fill="#da93aa"/>
<rect x="38.05" y="825.51" width="8.9" height="2.40" fill="#8c4025"/>
<rect x="38.05" y="709.90" width="8.9" height="115.63" fill="#d25526"/>
<rect x="38.05" y="697.64" width="8.9" height="12.28" fill="#d98f5c"/>
<rect x="38.05" y="696.28" width="8.9" height="1.38" fill="#7c65b5"/>
<rect x="38.05" y="681.81" width="8.9" height="14.49" fill="#6a2a8b"/>
<rect x="38.05" y="677.21" width="8.9" height="4.62" fill="#56635a"/>
<rect x="38.05" y="672.95" width="8.9" height="4.28" fill="#c9952b"/>
<rect x="38.05" y="668.19" width="8.9" height="4.79" fill="#a9a9a9"/>
<rect x="38.05" y="654.23" width="8.9" height="13.98" fill="#9dcb3c"/>
<rect x="38.05" y="650.31" width="8.9" height="3.94" fill="#4cb648"/>
<rect x="38.05" y="648.61" width="8.9" height="1.72" fill="#3fb8a0"/>
<rect x="38.05" y="647.25" width="8.9" height="1.38" fill="#1a99d5"/>
<rect x="38.05" y="644.86" width="8.9" height="2.40" fill="#a01f23"/>
<rect x="38.05" y="637.54" width="8.9" height="7.34" fill="#7f9b3b"/>
<rect x="38.05" y="636.35" width="8.9" height="1.21" fill="#3a9a4b"/>
<rect x="47.81" y="866.71" width="8.9" height="5.81" fill="#5cb2e2"/>
<rect x="47.81" y="854.45" width="8.9" height="12.28" fill="#d25526"/>
<rect x="47.81" y="844.91" width="8.9" height="9.55" fill="#d98f5c"/>
<rect x="47.81" y="843.55" width="8.9" height="1.38" fill="#7c65b5"/>
<rect x="47.81" y="839.81" width="8.9" height="3.77" fill="#e9b46b"/>
<rect x="47.81" y="832.32" width="8.9" height="7.51" fill="#3b1a50"/>
<rect x="47.81" y="828.91" width="8.9" height="3.42" fill="#d5e4bf"/>
<rect x="47.81" y="782.95" width="8.9" height="45.99" fill="#6a2a8b"/>
<rect x="47.81" y="779.88" width="8.9" height="3.08" fill="#c1185c"/>
<rect x="47.81" y="776.14" width="8.9" height="3.77" fill="#56635a"/>
<rect x="47.81" y="773.92" width="8.9" height="2.23" fill="#c9952b"/>
<rect x="47.81" y="764.56" width="8.9" height="9.38" fill="#9dcb3c"/>
<rect x="47.81" y="744.13" width="8.9" height="20.45" fill="#4db848"/>
<rect x="47.81" y="726.77" width="8.9" height="17.38" fill="#4cb648"/>
<rect x="47.81" y="708.19" width="8.9" height="18.59" fill="#3fb8a0"/>
<rect x="47.81" y="675.85" width="8.9" height="32.37" fill="#1a99d5"/>
<rect x="47.81" y="672.44" width="8.9" height="3.42" fill="#4b70c0"/>
<rect x="47.81" y="669.89" width="8.9" height="2.57" fill="#fec20f"/>
<rect x="47.81" y="660.19" width="8.9" height="9.72" fill="#a01f23"/>
<rect x="47.81" y="655.76" width="8.9" height="4.45" fill="#7f9b3b"/>
<rect x="57.56" y="857.34" width="8.9" height="15.18" fill="#5560b0"/>
<rect x="57.56" y="836.40" width="8.9" height="20.96" fill="#efe17f"/>
<rect x="57.56" y="833.51" width="8.9" height="2.91" fill="#41607f"/>
<rect x="57.56" y="831.81" width="8.9" height="1.72" fill="#5cb2e2"/>
<rect x="57.56" y="825.00" width="8.9" height="6.83" fill="#6cc46a"/>
<rect x="57.56" y="807.12" width="8.9" height="17.90" fill="#da93aa"/>
<rect x="57.56" y="803.38" width="8.9" height="3.77" fill="#8c4025"/>
<rect x="57.56" y="750.09" width="8.9" height="53.31" fill="#d25526"/>
<rect x="57.56" y="727.11" width="8.9" height="23.00" fill="#d98f5c"/>
<rect x="57.56" y="724.55" width="8.9" height="2.57" fill="#7c65b5"/>
<rect x="57.56" y="720.45" width="8.9" height="4.12" fill="#e9b46b"/>
<rect x="57.56" y="694.23" width="8.9" height="26.24" fill="#3b1a50"/>
<rect x="57.56" y="691.17" width="8.9" height="3.08" fill="#d5e4bf"/>
<rect x="57.56" y="689.13" width="8.9" height="2.06" fill="#a9a9a9"/>
<rect x="57.56" y="685.21" width="8.9" height="3.94" fill="#3fb8a0"/>
<rect x="57.56" y="683.00" width="8.9" height="2.23" fill="#a01f23"/>
<rect x="57.56" y="672.78" width="8.9" height="10.23" fill="#7f9b3b"/>
<rect x="67.32" y="870.11" width="8.9" height="2.41" fill="#41607f"/>
<rect x="67.32" y="836.91" width="8.9" height="33.22" fill="#d25526"/>
<rect x="67.32" y="809.67" width="8.9" height="27.26" fill="#d98f5c"/>
<rect x="67.32" y="805.42" width="8.9" height="4.28" fill="#e9b46b"/>
<rect x="67.32" y="764.56" width="8.9" height="40.88" fill="#3b1a50"/>
<rect x="67.32" y="760.30" width="8.9" height="4.28" fill="#d5e4bf"/>
<rect x="67.32" y="694.57" width="8.9" height="65.75" fill="#6a2a8b"/>
<rect x="67.32" y="685.21" width="8.9" height="9.38" fill="#9dcb3c"/>
<rect x="67.32" y="683.51" width="8.9" height="1.72" fill="#3fb8a0"/>
<rect x="67.32" y="680.27" width="8.9" height="3.25" fill="#a01f23"/>
<rect x="67.32" y="676.19" width="8.9" height="4.11" fill="#9a6426"/>
<rect x="67.32" y="672.78" width="8.9" height="3.42" fill="#7f9b3b"/>
<rect x="77.08" y="867.56" width="8.9" height="4.96" fill="#5cb2e2"/>
<rect x="77.08" y="822.44" width="8.9" height="45.13" fill="#d25526"/>
<rect x="77.08" y="818.19" width="8.9" height="4.28" fill="#d98f5c"/>
<rect x="77.08" y="813.93" width="8.9" height="4.28" fill="#e9b46b"/>
<rect x="77.08" y="798.95" width="8.9" height="15.00" fill="#3b1a50"/>
<rect x="77.08" y="795.20" width="8.9" height="3.77" fill="#d5e4bf"/>
<rect x="77.08" y="773.07" width="8.9" height="22.15" fill="#6a2a8b"/>
<rect x="77.08" y="771.37" width="8.9" height="1.72" fill="#c1185c"/>
<rect x="77.08" y="766.26" width="8.9" height="5.13" fill="#a9a9a9"/>
<rect x="77.08" y="762.86" width="8.9" height="3.42" fill="#9dcb3c"/>
<rect x="77.08" y="753.49" width="8.9" height="9.38" fill="#4cb648"/>
<rect x="77.08" y="748.39" width="8.9" height="5.13" fill="#3fb8a0"/>
<rect x="77.08" y="718.75" width="8.9" height="29.66" fill="#1a99d5"/>
<rect x="77.08" y="715.00" width="8.9" height="3.77" fill="#4b70c0"/>
<rect x="77.08" y="712.62" width="8.9" height="2.40" fill="#fec20f"/>
<rect x="77.08" y="708.19" width="8.9" height="4.45" fill="#a01f23"/>
<rect x="77.08" y="705.64" width="8.9" height="2.57" fill="#9a6426"/>
<rect x="77.08" y="689.13" width="8.9" height="16.53" fill="#7f9b3b"/>
<rect x="86.83" y="864.15" width="8.9" height="8.37" fill="#efe17f"/>
<rect x="86.83" y="849.68" width="8.9" height="14.49" fill="#5cb2e2"/>
<rect x="86.83" y="847.98" width="8.9" height="1.72" fill="#da93aa"/>
<rect x="86.83" y="823.80" width="8.9" height="24.19" fill="#d25526"/>
<rect x="86.83" y="807.97" width="8.9" height="15.85" fill="#d98f5c"/>
<rect x="86.83" y="806.27" width="8.9" height="1.72" fill="#e9b46b"/>
<rect x="86.83" y="796.91" width="8.9" height="9.38" fill="#6a2a8b"/>
<rect x="86.83" y="791.80" width="8.9" height="5.13" fill="#a9a9a9"/>
<rect x="86.83" y="787.54" width="8.9" height="4.28" fill="#4cb648"/>
<rect x="86.83" y="783.29" width="8.9" height="4.28" fill="#3fb8a0"/>
<rect x="86.83" y="771.37" width="8.9" height="11.94" fill="#1a99d5"/>
<rect x="86.83" y="767.97" width="8.9" height="3.42" fill="#fec20f"/>
<rect x="86.83" y="740.73" width="8.9" height="27.26" fill="#a01f23"/>
<rect x="86.83" y="695.94" width="8.9" height="44.81" fill="#7f9b3b"/>
<rect x="96.59" y="831.81" width="8.9" height="40.71" fill="#efe17f"/>
<rect x="96.59" y="825.85" width="8.9" height="5.98" fill="#c0623a"/>
<rect x="96.59" y="814.78" width="8.9" height="11.09" fill="#5cb2e2"/>
<rect x="96.59" y="809.16" width="8.9" height="5.64" fill="#6cc46a"/>
<rect x="96.59" y="799.46" width="8.9" height="9.72" fill="#da93aa"/>
<rect x="96.59" y="797.76" width="8.9" height="1.72" fill="#8c4025"/>
<rect x="96.59" y="765.41" width="8.9" height="32.37" fill="#d25526"/>
<rect x="96.59" y="760.30" width="8.9" height="5.13" fill="#d98f5c"/>
<rect x="96.59" y="756.90" width="8.9" height="3.42" fill="#3b1a50"/>
<rect x="96.59" y="753.49" width="8.9" height="3.42" fill="#6a2a8b"/>
<rect x="96.59" y="750.94" width="8.9" height="2.57" fill="#56635a"/>
<rect x="96.59" y="747.54" width="8.9" height="3.42" fill="#4cb648"/>
<rect x="96.59" y="742.43" width="8.9" height="5.13" fill="#3fb8a0"/>
<rect x="96.59" y="729.66" width="8.9" height="12.79" fill="#1a99d5"/>
<rect x="96.59" y="727.11" width="8.9" height="2.57" fill="#4b70c0"/>
<rect x="96.59" y="715.85" width="8.9" height="11.27" fill="#a01f23"/>
<rect x="96.59" y="700.02" width="8.9" height="15.85" fill="#7f9b3b"/>
<rect x="106.34" y="866.71" width="8.9" height="5.81" fill="#5cb2e2"/>
<rect x="106.34" y="852.23" width="8.9" height="14.49" fill="#d25526"/>
<rect x="106.34" y="829.59" width="8.9" height="22.66" fill="#d98f5c"/>
<rect x="106.34" y="757.75" width="8.9" height="71.86" fill="#7c65b5"/>
<rect x="106.34" y="756.05" width="8.9" height="1.72" fill="#e9b46b"/>
<rect x="106.34" y="737.32" width="8.9" height="18.75" fill="#3b1a50"/>
<rect x="106.34" y="736.30" width="8.9" height="1.04" fill="#d5e4bf"/>
<rect x="106.34" y="716.71" width="8.9" height="19.61" fill="#6a2a8b"/>
<rect x="106.34" y="711.26" width="8.9" height="5.47" fill="#3fb8a0"/>
<rect x="106.34" y="709.04" width="8.9" height="2.23" fill="#1a99d5"/>
<rect x="106.34" y="705.64" width="8.9" height="3.42" fill="#fec20f"/>
<rect x="106.34" y="703.09" width="8.9" height="2.57" fill="#a01f23"/>
<rect x="106.34" y="700.02" width="8.9" height="3.08" fill="#7f9b3b"/>
<rect x="116.09" y="869.26" width="8.9" height="3.26" fill="#c0623a"/>
<rect x="116.09" y="858.19" width="8.9" height="11.09" fill="#5cb2e2"/>
<rect x="116.09" y="854.79" width="8.9" height="3.42" fill="#6cc46a"/>
<rect x="116.09" y="842.87" width="8.9" height="11.94" fill="#da93aa"/>
<rect x="116.09" y="839.47" width="8.9" height="3.42" fill="#7f7289"/>
<rect x="116.09" y="813.93" width="8.9" height="25.56" fill="#d25526"/>
<rect x="116.09" y="792.65" width="8.9" height="21.30" fill="#d98f5c"/>
<rect x="116.09" y="790.95" width="8.9" height="1.72" fill="#e9b46b"/>
<rect x="116.09" y="780.73" width="8.9" height="10.23" fill="#3b1a50"/>
<rect x="116.09" y="779.03" width="8.9" height="1.72" fill="#d5e4bf"/>
<rect x="116.09" y="764.56" width="8.9" height="14.49" fill="#6a2a8b"/>
<rect x="116.09" y="756.05" width="8.9" height="8.53" fill="#56635a"/>
<rect x="116.09" y="752.64" width="8.9" height="3.42" fill="#c9952b"/>
<rect x="116.09" y="750.09" width="8.9" height="2.57" fill="#a9a9a9"/>
<rect x="116.09" y="746.69" width="8.9" height="3.42" fill="#4cb648"/>
<rect x="116.09" y="728.81" width="8.9" height="17.90" fill="#3fb8a0"/>
<rect x="116.09" y="725.40" width="8.9" height="3.42" fill="#1a99d5"/>
<rect x="116.09" y="722.85" width="8.9" height="2.57" fill="#fec20f"/>
<rect x="116.09" y="719.26" width="8.9" height="3.61" fill="#a01f23"/>
<rect x="116.09" y="701.04" width="8.9" height="18.24" fill="#7f9b3b"/>
<rect x="125.85" y="870.45" width="8.9" height="2.07" fill="#fec20f"/>
<rect x="125.85" y="868.07" width="8.9" height="2.40" fill="#5cb2e2"/>
<rect x="125.85" y="861.94" width="8.9" height="6.15" fill="#d25526"/>
<rect x="125.85" y="849.68" width="8.9" height="12.28" fill="#d98f5c"/>
<rect x="125.85" y="847.98" width="8.9" height="1.72" fill="#7c65b5"/>
<rect x="125.85" y="844.91" width="8.9" height="3.08" fill="#e9b46b"/>
<rect x="125.85" y="825.00" width="8.9" height="19.94" fill="#3b1a50"/>
<rect x="125.85" y="821.59" width="8.9" height="3.42" fill="#d5e4bf"/>
<rect x="125.85" y="754.69" width="8.9" height="66.93" fill="#6a2a8b"/>
<rect x="125.85" y="753.49" width="8.9" height="1.21" fill="#7f7289"/>
<rect x="125.85" y="744.47" width="8.9" height="9.04" fill="#9dcb3c"/>
<rect x="125.85" y="736.98" width="8.9" height="7.51" fill="#3fb8a0"/>
<rect x="125.85" y="732.21" width="8.9" height="4.79" fill="#1a99d5"/>
<rect x="125.85" y="730.17" width="8.9" height="2.06" fill="#fec20f"/>
<rect x="125.85" y="725.75" width="8.9" height="4.45" fill="#a01f23"/>
<rect x="125.85" y="715.34" width="8.9" height="10.42" fill="#9a6426"/>
<rect x="125.85" y="709.56" width="8.9" height="5.81" fill="#7f9b3b"/>
<rect x="125.85" y="708.70" width="8.9" height="0.87" fill="#3a9a4b"/>
<rect x="135.61" y="869.26" width="8.9" height="3.26" fill="#da93aa"/>
<rect x="135.61" y="866.71" width="8.9" height="2.57" fill="#5cb2e2"/>
<rect x="135.61" y="828.91" width="8.9" height="37.81" fill="#d25526"/>
<rect x="135.61" y="810.53" width="8.9" height="18.41" fill="#d98f5c"/>
<rect x="135.61" y="807.97" width="8.9" height="2.57" fill="#7c65b5"/>
<rect x="135.61" y="805.42" width="8.9" height="2.57" fill="#3b1a50"/>
<rect x="135.61" y="803.38" width="8.9" height="2.06" fill="#d5e4bf"/>
<rect x="135.61" y="783.29" width="8.9" height="20.11" fill="#6a2a8b"/>
<rect x="135.61" y="776.14" width="8.9" height="7.17" fill="#9dcb3c"/>
<rect x="135.61" y="747.20" width="8.9" height="28.96" fill="#3fb8a0"/>
<rect x="135.61" y="743.28" width="8.9" height="3.94" fill="#1a99d5"/>
<rect x="135.61" y="735.62" width="8.9" height="7.68" fill="#fec20f"/>
<rect x="135.61" y="721.81" width="8.9" height="13.83" fill="#a01f23"/>
<rect x="135.61" y="716.36" width="8.9" height="5.47" fill="#7f9b3b"/>
<rect x="145.36" y="870.11" width="8.9" height="2.41" fill="#da93aa"/>
<rect x="145.36" y="868.07" width="8.9" height="2.06" fill="#6cc46a"/>
<rect x="145.36" y="865.85" width="8.9" height="2.23" fill="#5cb2e2"/>
<rect x="145.36" y="832.32" width="8.9" height="33.56" fill="#d25526"/>
<rect x="145.36" y="784.65" width="8.9" height="47.69" fill="#d98f5c"/>
<rect x="145.36" y="761.50" width="8.9" height="23.17" fill="#3b1a50"/>
<rect x="145.36" y="751.79" width="8.9" height="9.72" fill="#6a2a8b"/>
<rect x="145.36" y="747.20" width="8.9" height="4.62" fill="#9dcb3c"/>
<rect x="145.36" y="732.21" width="8.9" height="15.00" fill="#3fb8a0"/>
<rect x="145.36" y="729.66" width="8.9" height="2.57" fill="#1a99d5"/>
<rect x="145.36" y="728.81" width="8.9" height="0.87" fill="#fec20f"/>
<rect x="145.36" y="723.70" width="8.9" height="5.13" fill="#a01f23"/>
<rect x="145.36" y="717.05" width="8.9" height="6.68" fill="#7f9b3b"/>
<rect x="155.12" y="861.94" width="8.9" height="10.58" fill="#5cb2e2"/>
<rect x="155.12" y="845.43" width="8.9" height="16.53" fill="#d25526"/>
<rect x="155.12" y="836.40" width="8.9" height="9.04" fill="#d98f5c"/>
<rect x="155.12" y="834.36" width="8.9" height="2.06" fill="#3b1a50"/>
<rect x="155.12" y="823.29" width="8.9" height="11.09" fill="#6a2a8b"/>
<rect x="155.12" y="822.44" width="8.9" height="0.87" fill="#c1185c"/>
<rect x="155.12" y="818.70" width="8.9" height="3.77" fill="#56635a"/>
<rect x="155.12" y="814.78" width="8.9" height="3.94" fill="#c9952b"/>
<rect x="155.12" y="810.53" width="8.9" height="4.28" fill="#9dcb3c"/>
<rect x="155.12" y="792.14" width="8.9" height="18.41" fill="#4cb648"/>
<rect x="155.12" y="779.88" width="8.9" height="12.28" fill="#3fb8a0"/>
<rect x="155.12" y="755.20" width="8.9" height="24.71" fill="#1a99d5"/>
<rect x="155.12" y="752.64" width="8.9" height="2.57" fill="#4b70c0"/>
<rect x="155.12" y="751.28" width="8.9" height="1.38" fill="#fec20f"/>
<rect x="155.12" y="736.98" width="8.9" height="14.32" fill="#a01f23"/>
<rect x="155.12" y="733.92" width="8.9" height="3.08" fill="#9a6426"/>
<rect x="155.12" y="717.56" width="8.9" height="16.38" fill="#7f9b3b"/>
<rect x="164.87" y="844.57" width="8.9" height="27.95" fill="#efe17f"/>
<rect x="164.87" y="842.53" width="8.9" height="2.06" fill="#c0623a"/>
<rect x="164.87" y="833.51" width="8.9" height="9.04" fill="#5cb2e2"/>
<rect x="164.87" y="830.61" width="8.9" height="2.91" fill="#6cc46a"/>
<rect x="164.87" y="820.40" width="8.9" height="10.23" fill="#da93aa"/>
<rect x="164.87" y="815.29" width="8.9" height="5.13" fill="#7f7289"/>
<rect x="164.87" y="779.54" width="8.9" height="35.77" fill="#d25526"/>
<rect x="164.87" y="759.79" width="8.9" height="19.77" fill="#d98f5c"/>
<rect x="164.87" y="756.05" width="8.9" height="3.77" fill="#3b1a50"/>
<rect x="164.87" y="749.24" width="8.9" height="6.83" fill="#6a2a8b"/>
<rect x="164.87" y="744.13" width="8.9" height="5.13" fill="#56635a"/>
<rect x="164.87" y="742.09" width="8.9" height="2.06" fill="#c9952b"/>
<rect x="164.87" y="739.02" width="8.9" height="3.08" fill="#a9a9a9"/>
<rect x="164.87" y="735.62" width="8.9" height="3.42" fill="#3fb8a0"/>
<rect x="164.87" y="732.55" width="8.9" height="3.08" fill="#1a99d5"/>
<rect x="164.87" y="731.36" width="8.9" height="1.21" fill="#4b70c0"/>
<rect x="164.87" y="728.81" width="8.9" height="2.57" fill="#a01f23"/>
<rect x="164.87" y="721.47" width="8.9" height="7.36" fill="#7f9b3b"/>
<rect x="174.63" y="868.07" width="8.9" height="4.45" fill="#5560b0"/>
<rect x="174.63" y="862.96" width="8.9" height="5.13" fill="#efe17f"/>
<rect x="174.63" y="853.09" width="8.9" height="9.89" fill="#da93aa"/>
<rect x="174.63" y="847.98" width="8.9" height="5.13" fill="#5cb2e2"/>
<rect x="174.63" y="795.20" width="8.9" height="52.79" fill="#d25526"/>
<rect x="174.63" y="789.25" width="8.9" height="5.98" fill="#d98f5c"/>
<rect x="174.63" y="779.03" width="8.9" height="10.23" fill="#3b1a50"/>
<rect x="174.63" y="776.14" width="8.9" height="2.91" fill="#d5e4bf"/>
<rect x="174.63" y="766.60" width="8.9" height="9.55" fill="#6a2a8b"/>
<rect x="174.63" y="763.71" width="8.9" height="2.91" fill="#c9952b"/>
<rect x="174.63" y="760.30" width="8.9" height="3.42" fill="#4cb648"/>
<rect x="174.63" y="757.75" width="8.9" height="2.57" fill="#3fb8a0"/>
<rect x="174.63" y="747.20" width="8.9" height="10.57" fill="#1a99d5"/>
<rect x="174.63" y="745.49" width="8.9" height="1.72" fill="#fec20f"/>
<rect x="174.63" y="743.28" width="8.9" height="2.23" fill="#a01f23"/>
<rect x="174.63" y="730.85" width="8.9" height="12.45" fill="#7f9b3b"/>
<rect x="184.38" y="856.49" width="8.9" height="16.03" fill="#5560b0"/>
<rect x="184.38" y="852.23" width="8.9" height="4.28" fill="#5cb2e2"/>
<rect x="184.38" y="830.95" width="8.9" height="21.30" fill="#d25526"/>
<rect x="184.38" y="811.89" width="8.9" height="19.09" fill="#d98f5c"/>
<rect x="184.38" y="809.16" width="8.9" height="2.74" fill="#7c65b5"/>
<rect x="184.38" y="802.86" width="8.9" height="6.32" fill="#3b1a50"/>
<rect x="184.38" y="800.31" width="8.9" height="2.57" fill="#d5e4bf"/>
<rect x="184.38" y="784.14" width="8.9" height="16.19" fill="#6a2a8b"/>
<rect x="184.38" y="773.07" width="8.9" height="11.09" fill="#56635a"/>
<rect x="184.38" y="770.52" width="8.9" height="2.57" fill="#c9952b"/>
<rect x="184.38" y="767.11" width="8.9" height="3.42" fill="#a9a9a9"/>
<rect x="184.38" y="762.86" width="8.9" height="4.28" fill="#9dcb3c"/>
<rect x="184.38" y="758.60" width="8.9" height="4.28" fill="#3fb8a0"/>
<rect x="184.38" y="754.35" width="8.9" height="4.28" fill="#1a99d5"/>
<rect x="184.38" y="752.30" width="8.9" height="2.06" fill="#4b70c0"/>
<rect x="184.38" y="744.98" width="8.9" height="7.34" fill="#a01f23"/>
<rect x="184.38" y="731.87" width="8.9" height="13.13" fill="#7f9b3b"/>
<rect x="194.14" y="865.85" width="8.9" height="6.67" fill="#5560b0"/>
<rect x="194.14" y="834.36" width="8.9" height="31.51" fill="#efe17f"/>
<rect x="194.14" y="829.59" width="8.9" height="4.79" fill="#6cc46a"/>
<rect x="194.14" y="805.76" width="8.9" height="23.85" fill="#d25526"/>
<rect x="194.14" y="803.72" width="8.9" height="2.06" fill="#d98f5c"/>
<rect x="194.14" y="785.84" width="8.9" height="17.90" fill="#3b1a50"/>
<rect x="194.14" y="782.44" width="8.9" height="3.42" fill="#6a2a8b"/>
<rect x="194.14" y="780.73" width="8.9" height="1.72" fill="#c1185c"/>
<rect x="194.14" y="776.48" width="8.9" height="4.28" fill="#a9a9a9"/>
<rect x="194.14" y="773.07" width="8.9" height="3.42" fill="#9dcb3c"/>
<rect x="194.14" y="767.11" width="8.9" height="5.98" fill="#3fb8a0"/>
<rect x="194.14" y="752.64" width="8.9" height="14.49" fill="#1a99d5"/>
<rect x="194.14" y="749.24" width="8.9" height="3.42" fill="#4b70c0"/>
<rect x="194.14" y="747.88" width="8.9" height="1.38" fill="#fec20f"/>
<rect x="194.14" y="743.28" width="8.9" height="4.62" fill="#a01f23"/>
<rect x="194.14" y="740.73" width="8.9" height="2.57" fill="#9a6426"/>
<rect x="194.14" y="735.96" width="8.9" height="4.79" fill="#7f9b3b"/>
<rect x="203.89" y="863.30" width="8.9" height="9.22" fill="#5cb2e2"/>
<rect x="203.89" y="860.75" width="8.9" height="2.57" fill="#6cc46a"/>
<rect x="203.89" y="834.36" width="8.9" height="26.41" fill="#d25526"/>
<rect x="203.89" y="796.91" width="8.9" height="37.47" fill="#d98f5c"/>
<rect x="203.89" y="793.50" width="8.9" height="3.42" fill="#6a2a8b"/>
<rect x="203.89" y="789.25" width="8.9" height="4.28" fill="#9dcb3c"/>
<rect x="203.89" y="786.35" width="8.9" height="2.91" fill="#1a99d5"/>
<rect x="203.89" y="781.93" width="8.9" height="4.45" fill="#a01f23"/>
<rect x="203.89" y="751.28" width="8.9" height="30.66" fill="#7f9b3b"/>
<rect x="213.65" y="870.11" width="8.9" height="2.41" fill="#5cb2e2"/>
<rect x="213.65" y="866.71" width="8.9" height="3.42" fill="#d25526"/>
<rect x="213.65" y="864.15" width="8.9" height="2.57" fill="#3b1a50"/>
<rect x="213.65" y="858.19" width="8.9" height="5.98" fill="#c1185c"/>
<rect x="213.65" y="856.49" width="8.9" height="1.72" fill="#56635a"/>
<rect x="213.65" y="844.57" width="8.9" height="11.94" fill="#c9952b"/>
<rect x="213.65" y="814.78" width="8.9" height="29.81" fill="#9dcb3c"/>
<rect x="213.65" y="794.35" width="8.9" height="20.45" fill="#4db848"/>
<rect x="213.65" y="748.39" width="8.9" height="45.99" fill="#4cb648"/>
<rect x="213.65" y="734.77" width="8.9" height="13.64" fill="#3fb8a0"/>
<rect x="213.65" y="646.91" width="8.9" height="87.88" fill="#1a99d5"/>
<rect x="213.65" y="640.95" width="8.9" height="5.98" fill="#4b70c0"/>
<rect x="213.65" y="639.25" width="8.9" height="1.72" fill="#fec20f"/>
<rect x="213.65" y="637.54" width="8.9" height="1.72" fill="#a01f23"/>
<rect x="213.65" y="592.09" width="8.9" height="45.47" fill="#7f9b3b"/>
<rect x="223.40" y="870.45" width="8.9" height="2.07" fill="#6cc46a"/>
<rect x="223.40" y="868.75" width="8.9" height="1.72" fill="#5cb2e2"/>
<rect x="223.40" y="862.45" width="8.9" height="6.32" fill="#da93aa"/>
<rect x="223.40" y="763.71" width="8.9" height="98.76" fill="#d25526"/>
<rect x="223.40" y="745.49" width="8.9" height="18.24" fill="#d98f5c"/>
<rect x="223.40" y="744.13" width="8.9" height="1.38" fill="#7f7289"/>
<rect x="223.40" y="663.93" width="8.9" height="80.22" fill="#3b1a50"/>
<rect x="223.40" y="659.16" width="8.9" height="4.79" fill="#c9952b"/>
<rect x="223.40" y="615.92" width="8.9" height="43.26" fill="#9dcb3c"/>
<rect x="223.40" y="614.90" width="8.9" height="1.04" fill="#3fb8a0"/>
<rect x="223.40" y="612.86" width="8.9" height="2.06" fill="#a01f23"/>
<rect x="223.40" y="600.60" width="8.9" height="12.28" fill="#7f9b3b"/>
<rect x="233.16" y="866.71" width="8.9" height="5.81" fill="#5cb2e2"/>
<rect x="233.16" y="857.85" width="8.9" height="8.87" fill="#d25526"/>
<rect x="233.16" y="826.19" width="8.9" height="31.68" fill="#d98f5c"/>
<rect x="233.16" y="823.29" width="8.9" height="2.91" fill="#7c65b5"/>
<rect x="233.16" y="821.08" width="8.9" height="2.23" fill="#e9b46b"/>
<rect x="233.16" y="813.08" width="8.9" height="8.02" fill="#3b1a50"/>
<rect x="233.16" y="810.19" width="8.9" height="2.91" fill="#d5e4bf"/>
<rect x="233.16" y="794.35" width="8.9" height="15.85" fill="#6a2a8b"/>
<rect x="233.16" y="792.65" width="8.9" height="1.72" fill="#c1185c"/>
<rect x="233.16" y="790.10" width="8.9" height="2.57" fill="#c9952b"/>
<rect x="233.16" y="787.54" width="8.9" height="2.57" fill="#9dcb3c"/>
<rect x="233.16" y="781.58" width="8.9" height="5.98" fill="#4cb648"/>
<rect x="233.16" y="733.07" width="8.9" height="48.54" fill="#3fb8a0"/>
<rect x="233.16" y="703.09" width="8.9" height="30.00" fill="#1a99d5"/>
<rect x="233.16" y="695.94" width="8.9" height="7.17" fill="#4b70c0"/>
<rect x="233.16" y="693.72" width="8.9" height="2.23" fill="#fec20f"/>
<rect x="233.16" y="684.36" width="8.9" height="9.38" fill="#a01f23"/>
<rect x="233.16" y="657.97" width="8.9" height="26.41" fill="#7f9b3b"/>
<rect x="233.16" y="657.12" width="8.9" height="0.87" fill="#3a9a4b"/>
<rect x="242.91" y="854.79" width="8.9" height="17.73" fill="#41607f"/>
<rect x="242.91" y="853.09" width="8.9" height="1.72" fill="#c0623a"/>
<rect x="242.91" y="851.72" width="8.9" height="1.38" fill="#5cb2e2"/>
<rect x="242.91" y="848.83" width="8.9" height="2.91" fill="#6cc46a"/>
<rect x="242.91" y="822.10" width="8.9" height="26.75" fill="#da93aa"/>
<rect x="242.91" y="821.08" width="8.9" height="1.04" fill="#8c4025"/>
<rect x="242.91" y="750.60" width="8.9" height="70.50" fill="#d25526"/>
<rect x="242.91" y="745.83" width="8.9" height="4.79" fill="#d98f5c"/>
<rect x="242.91" y="742.09" width="8.9" height="3.77" fill="#e9b46b"/>
<rect x="242.91" y="686.40" width="8.9" height="55.71" fill="#3b1a50"/>
<rect x="242.91" y="684.02" width="8.9" height="2.40" fill="#d5e4bf"/>
<rect x="242.91" y="682.32" width="8.9" height="1.72" fill="#6a2a8b"/>
<rect x="242.91" y="672.10" width="8.9" height="10.23" fill="#56635a"/>
<rect x="242.91" y="669.04" width="8.9" height="3.08" fill="#c9952b"/>
<rect x="242.91" y="664.78" width="8.9" height="4.28" fill="#3fb8a0"/>
<rect x="242.91" y="662.23" width="8.9" height="2.57" fill="#1a99d5"/>
<rect x="242.91" y="661.38" width="8.9" height="0.87" fill="#4b70c0"/>
<rect x="252.67" y="870.11" width="8.9" height="2.41" fill="#5560b0"/>
<rect x="252.67" y="860.24" width="8.9" height="9.89" fill="#d25526"/>
<rect x="252.67" y="856.49" width="8.9" height="3.77" fill="#d98f5c"/>
<rect x="252.67" y="854.45" width="8.9" height="2.06" fill="#7f7289"/>
<rect x="252.67" y="839.13" width="8.9" height="15.34" fill="#3b1a50"/>
<rect x="252.67" y="837.76" width="8.9" height="1.38" fill="#d5e4bf"/>
<rect x="252.67" y="819.89" width="8.9" height="17.90" fill="#6a2a8b"/>
<rect x="252.67" y="813.08" width="8.9" height="6.83" fill="#c1185c"/>
<rect x="252.67" y="810.53" width="8.9" height="2.57" fill="#56635a"/>
<rect x="252.67" y="804.06" width="8.9" height="6.49" fill="#c9952b"/>
<rect x="252.67" y="798.95" width="8.9" height="5.13" fill="#9dcb3c"/>
<rect x="252.67" y="788.39" width="8.9" height="10.57" fill="#4db848"/>
<rect x="252.67" y="777.84" width="8.9" height="10.57" fill="#4cb648"/>
<rect x="252.67" y="767.11" width="8.9" height="10.75" fill="#3fb8a0"/>
<rect x="252.67" y="698.83" width="8.9" height="68.30" fill="#1a99d5"/>
<rect x="252.67" y="693.21" width="8.9" height="5.64" fill="#4b70c0"/>
<rect x="252.67" y="689.81" width="8.9" height="3.42" fill="#fec20f"/>
<rect x="252.67" y="684.02" width="8.9" height="5.81" fill="#9d1b3d"/>
<rect x="252.67" y="670.74" width="8.9" height="13.30" fill="#a01f23"/>
<rect x="252.67" y="667.34" width="8.9" height="3.42" fill="#7f9b3b"/>
<rect x="262.42" y="857.85" width="8.9" height="14.67" fill="#5560b0"/>
<rect x="262.42" y="856.49" width="8.9" height="1.38" fill="#efe17f"/>
<rect x="262.42" y="852.75" width="8.9" height="3.77" fill="#41607f"/>
<rect x="262.42" y="850.53" width="8.9" height="2.23" fill="#5cb2e2"/>
<rect x="262.42" y="848.83" width="8.9" height="1.72" fill="#6cc46a"/>
<rect x="262.42" y="839.13" width="8.9" height="9.72" fill="#da93aa"/>
<rect x="262.42" y="837.42" width="8.9" height="1.72" fill="#8c4025"/>
<rect x="262.42" y="789.76" width="8.9" height="47.69" fill="#d25526"/>
<rect x="262.42" y="784.14" width="8.9" height="5.64" fill="#d98f5c"/>
<rect x="262.42" y="780.73" width="8.9" height="3.42" fill="#7c65b5"/>
<rect x="262.42" y="773.92" width="8.9" height="6.83" fill="#e9b46b"/>
<rect x="262.42" y="747.88" width="8.9" height="26.07" fill="#3b1a50"/>
<rect x="262.42" y="741.07" width="8.9" height="6.83" fill="#d5e4bf"/>
<rect x="262.42" y="739.88" width="8.9" height="1.21" fill="#6a2a8b"/>
<rect x="262.42" y="704.79" width="8.9" height="35.11" fill="#e4c46f"/>
<rect x="262.42" y="702.23" width="8.9" height="2.57" fill="#a9a9a9"/>
<rect x="262.42" y="697.64" width="8.9" height="4.62" fill="#9dcb3c"/>
<rect x="262.42" y="681.81" width="8.9" height="15.85" fill="#3fb8a0"/>
<rect x="262.42" y="679.59" width="8.9" height="2.23" fill="#1a99d5"/>
<rect x="262.42" y="677.21" width="8.9" height="2.40" fill="#fec20f"/>
<rect x="262.42" y="672.44" width="8.9" height="4.79" fill="#a01f23"/>
<rect x="262.42" y="668.70" width="8.9" height="3.77" fill="#7f9b3b"/>
<rect x="272.18" y="869.77" width="8.9" height="2.75" fill="#efe17f"/>
<rect x="272.18" y="864.66" width="8.9" height="5.13" fill="#c0623a"/>
<rect x="272.18" y="847.64" width="8.9" height="17.04" fill="#5cb2e2"/>
<rect x="272.18" y="843.72" width="8.9" height="3.94" fill="#6cc46a"/>
<rect x="272.18" y="834.02" width="8.9" height="9.72" fill="#da93aa"/>
<rect x="272.18" y="832.32" width="8.9" height="1.72" fill="#8c4025"/>
<rect x="272.18" y="755.20" width="8.9" height="77.14" fill="#d25526"/>
<rect x="272.18" y="725.75" width="8.9" height="29.47" fill="#d98f5c"/>
<rect x="272.18" y="723.70" width="8.9" height="2.06" fill="#da93aa"/>
<rect x="272.18" y="718.75" width="8.9" height="4.97" fill="#3b1a50"/>
<rect x="272.18" y="711.94" width="8.9" height="6.83" fill="#6a2a8b"/>
<rect x="272.18" y="708.19" width="8.9" height="3.77" fill="#c9952b"/>
<rect x="272.18" y="705.64" width="8.9" height="2.57" fill="#9dcb3c"/>
<rect x="272.18" y="703.09" width="8.9" height="2.57" fill="#3fb8a0"/>
<rect x="272.18" y="697.98" width="8.9" height="5.13" fill="#1a99d5"/>
<rect x="272.18" y="692.02" width="8.9" height="5.98" fill="#a01f23"/>
<rect x="272.18" y="669.04" width="8.9" height="23.00" fill="#7f9b3b"/>
<rect x="281.93" y="819.89" width="8.9" height="52.63" fill="#efe17f"/>
<rect x="281.93" y="818.19" width="8.9" height="1.72" fill="#c0623a"/>
<rect x="281.93" y="806.27" width="8.9" height="11.94" fill="#5cb2e2"/>
<rect x="281.93" y="802.86" width="8.9" height="3.42" fill="#6cc46a"/>
<rect x="281.93" y="788.05" width="8.9" height="14.83" fill="#da93aa"/>
<rect x="281.93" y="783.29" width="8.9" height="4.79" fill="#7f7289"/>
<rect x="281.93" y="742.77" width="8.9" height="40.54" fill="#d25526"/>
<rect x="281.93" y="733.07" width="8.9" height="9.72" fill="#d98f5c"/>
<rect x="281.93" y="731.87" width="8.9" height="1.21" fill="#7c65b5"/>
<rect x="281.93" y="729.15" width="8.9" height="2.74" fill="#e9b46b"/>
<rect x="281.93" y="719.26" width="8.9" height="9.91" fill="#3b1a50"/>
<rect x="281.93" y="716.71" width="8.9" height="2.57" fill="#d5e4bf"/>
<rect x="281.93" y="697.98" width="8.9" height="18.75" fill="#6a2a8b"/>
<rect x="281.93" y="691.17" width="8.9" height="6.83" fill="#56635a"/>
<rect x="281.93" y="688.62" width="8.9" height="2.57" fill="#c9952b"/>
<rect x="281.93" y="686.06" width="8.9" height="2.57" fill="#a9a9a9"/>
<rect x="281.93" y="683.51" width="8.9" height="2.57" fill="#4cb648"/>
<rect x="281.93" y="680.95" width="8.9" height="2.57" fill="#1a99d5"/>
<rect x="281.93" y="677.21" width="8.9" height="3.77" fill="#4b70c0"/>
<rect x="281.93" y="675.51" width="8.9" height="1.72" fill="#9a6426"/>
<rect x="281.93" y="670.40" width="8.9" height="5.13" fill="#7f9b3b"/>
<rect x="291.69" y="867.05" width="8.9" height="5.47" fill="#5cb2e2"/>
<rect x="291.69" y="865.85" width="8.9" height="1.21" fill="#6cc46a"/>
<rect x="291.69" y="859.90" width="8.9" height="5.98" fill="#da93aa"/>
<rect x="291.69" y="771.03" width="8.9" height="88.89" fill="#d25526"/>
<rect x="291.69" y="767.11" width="8.9" height="3.94" fill="#d98f5c"/>
<rect x="291.69" y="765.92" width="8.9" height="1.21" fill="#7c65b5"/>
<rect x="291.69" y="760.82" width="8.9" height="5.13" fill="#e9b46b"/>
<rect x="291.69" y="751.28" width="8.9" height="9.55" fill="#3b1a50"/>
<rect x="291.69" y="745.83" width="8.9" height="5.47" fill="#d5e4bf"/>
<rect x="291.69" y="723.70" width="8.9" height="22.15" fill="#6a2a8b"/>
<rect x="291.69" y="721.81" width="8.9" height="1.91" fill="#c1185c"/>
<rect x="291.69" y="720.45" width="8.9" height="1.38" fill="#c9952b"/>
<rect x="291.69" y="715.00" width="8.9" height="5.47" fill="#4cb648"/>
<rect x="291.69" y="713.64" width="8.9" height="1.38" fill="#3fb8a0"/>
<rect x="291.69" y="702.23" width="8.9" height="11.43" fill="#1a99d5"/>
<rect x="291.69" y="700.53" width="8.9" height="1.72" fill="#fec20f"/>
<rect x="291.69" y="698.32" width="8.9" height="2.23" fill="#a01f23"/>
<rect x="291.69" y="683.00" width="8.9" height="15.34" fill="#7f9b3b"/>
<rect x="301.44" y="863.30" width="8.9" height="9.22" fill="#5cb2e2"/>
<rect x="301.44" y="861.94" width="8.9" height="1.38" fill="#6cc46a"/>
<rect x="301.44" y="855.64" width="8.9" height="6.32" fill="#da93aa"/>
<rect x="301.44" y="837.76" width="8.9" height="17.90" fill="#d25526"/>
<rect x="301.44" y="815.63" width="8.9" height="22.15" fill="#d98f5c"/>
<rect x="301.44" y="814.78" width="8.9" height="0.87" fill="#e9b46b"/>
<rect x="301.44" y="811.38" width="8.9" height="3.42" fill="#3b1a50"/>
<rect x="301.44" y="809.67" width="8.9" height="1.72" fill="#6a2a8b"/>
<rect x="301.44" y="785.84" width="8.9" height="23.85" fill="#56635a"/>
<rect x="301.44" y="777.84" width="8.9" height="8.02" fill="#c9952b"/>
<rect x="301.44" y="765.92" width="8.9" height="11.94" fill="#a9a9a9"/>
<rect x="301.44" y="762.86" width="8.9" height="3.08" fill="#9dcb3c"/>
<rect x="301.44" y="759.45" width="8.9" height="3.42" fill="#4cb648"/>
<rect x="301.44" y="753.49" width="8.9" height="5.98" fill="#3fb8a0"/>
<rect x="301.44" y="747.88" width="8.9" height="5.64" fill="#1a99d5"/>
<rect x="301.44" y="742.77" width="8.9" height="5.13" fill="#4b70c0"/>
<rect x="301.44" y="740.73" width="8.9" height="2.06" fill="#fec20f"/>
<rect x="301.44" y="732.21" width="8.9" height="8.53" fill="#a01f23"/>
<rect x="301.44" y="691.17" width="8.9" height="41.07" fill="#7f9b3b"/>
<rect x="301.44" y="690.32" width="8.9" height="0.87" fill="#3a9a4b"/>
<rect x="311.20" y="868.07" width="8.9" height="4.45" fill="#5cb2e2"/>
<rect x="311.20" y="842.02" width="8.9" height="26.07" fill="#d25526"/>
<rect x="311.20" y="831.81" width="8.9" height="10.23" fill="#d98f5c"/>
<rect x="311.20" y="773.92" width="8.9" height="57.90" fill="#3b1a50"/>
<rect x="311.20" y="772.22" width="8.9" height="1.72" fill="#7c65b5"/>
<rect x="311.20" y="770.52" width="8.9" height="1.72" fill="#c1185c"/>
<rect x="311.20" y="766.26" width="8.9" height="4.28" fill="#56635a"/>
<rect x="311.20" y="763.71" width="8.9" height="2.57" fill="#c9952b"/>
<rect x="311.20" y="762.01" width="8.9" height="1.72" fill="#9dcb3c"/>
<rect x="311.20" y="754.35" width="8.9" height="7.68" fill="#4cb648"/>
<rect x="311.20" y="749.24" width="8.9" height="5.13" fill="#3fb8a0"/>
<rect x="311.20" y="723.70" width="8.9" height="25.56" fill="#1a99d5"/>
<rect x="311.20" y="720.45" width="8.9" height="3.27" fill="#4b70c0"/>
<rect x="311.20" y="710.24" width="8.9" height="10.23" fill="#a01f23"/>
<rect x="311.20" y="704.79" width="8.9" height="5.47" fill="#7f9b3b"/>
<rect x="320.95" y="870.11" width="8.9" height="2.41" fill="#6cc46a"/>
<rect x="320.95" y="868.41" width="8.9" height="1.72" fill="#5cb2e2"/>
<rect x="320.95" y="866.71" width="8.9" height="1.72" fill="#da93aa"/>
<rect x="320.95" y="765.92" width="8.9" height="100.80" fill="#d25526"/>
<rect x="320.95" y="762.01" width="8.9" height="3.94" fill="#d98f5c"/>
<rect x="320.95" y="760.30" width="8.9" height="1.72" fill="#7c65b5"/>
<rect x="320.95" y="756.90" width="8.9" height="3.42" fill="#3b1a50"/>
<rect x="320.95" y="746.69" width="8.9" height="10.23" fill="#6a2a8b"/>
<rect x="320.95" y="743.28" width="8.9" height="3.42" fill="#c9952b"/>
<rect x="320.95" y="740.73" width="8.9" height="2.57" fill="#a9a9a9"/>
<rect x="320.95" y="737.32" width="8.9" height="3.42" fill="#9dcb3c"/>
<rect x="320.95" y="732.55" width="8.9" height="4.79" fill="#4cb648"/>
<rect x="320.95" y="727.96" width="8.9" height="4.62" fill="#3fb8a0"/>
<rect x="320.95" y="716.71" width="8.9" height="11.27" fill="#1a99d5"/>
<rect x="320.95" y="715.51" width="8.9" height="1.21" fill="#fec20f"/>
<rect x="320.95" y="709.90" width="8.9" height="5.64" fill="#a01f23"/>
<rect x="320.95" y="705.13" width="8.9" height="4.79" fill="#7f9b3b"/>
<rect x="330.71" y="867.05" width="8.9" height="5.47" fill="#5560b0"/>
<rect x="330.71" y="864.15" width="8.9" height="2.91" fill="#efe17f"/>
<rect x="330.71" y="861.94" width="8.9" height="2.23" fill="#5cb2e2"/>
<rect x="330.71" y="845.43" width="8.9" height="16.53" fill="#d25526"/>
<rect x="330.71" y="779.88" width="8.9" height="65.56" fill="#d98f5c"/>
<rect x="330.71" y="775.12" width="8.9" height="4.79" fill="#7c65b5"/>
<rect x="330.71" y="767.97" width="8.9" height="7.17" fill="#e9b46b"/>
<rect x="330.71" y="755.20" width="8.9" height="12.79" fill="#3b1a50"/>
<rect x="330.71" y="745.83" width="8.9" height="9.38" fill="#d5e4bf"/>
<rect x="330.71" y="718.41" width="8.9" height="27.45" fill="#6a2a8b"/>
<rect x="330.71" y="715.34" width="8.9" height="3.08" fill="#9a6426"/>
<rect x="330.71" y="711.60" width="8.9" height="3.77" fill="#7f9b3b"/>
<rect x="340.46" y="857.85" width="8.9" height="14.67" fill="#efe17f"/>
<rect x="340.46" y="853.94" width="8.9" height="3.94" fill="#c0623a"/>
<rect x="340.46" y="839.13" width="8.9" height="14.83" fill="#5cb2e2"/>
<rect x="340.46" y="837.42" width="8.9" height="1.72" fill="#6cc46a"/>
<rect x="340.46" y="835.72" width="8.9" height="1.72" fill="#da93aa"/>
<rect x="340.46" y="809.67" width="8.9" height="26.07" fill="#d25526"/>
<rect x="340.46" y="783.29" width="8.9" height="26.41" fill="#d98f5c"/>
<rect x="340.46" y="781.24" width="8.9" height="2.06" fill="#e9b46b"/>
<rect x="340.46" y="779.03" width="8.9" height="2.23" fill="#3b1a50"/>
<rect x="340.46" y="776.82" width="8.9" height="2.23" fill="#d5e4bf"/>
<rect x="340.46" y="764.22" width="8.9" height="12.62" fill="#6a2a8b"/>
<rect x="340.46" y="760.30" width="8.9" height="3.94" fill="#c9952b"/>
<rect x="340.46" y="756.90" width="8.9" height="3.42" fill="#9dcb3c"/>
<rect x="340.46" y="751.28" width="8.9" height="5.64" fill="#4cb648"/>
<rect x="340.46" y="733.07" width="8.9" height="18.24" fill="#1a99d5"/>
<rect x="340.46" y="731.87" width="8.9" height="1.21" fill="#fec20f"/>
<rect x="340.46" y="727.96" width="8.9" height="3.94" fill="#a01f23"/>
<rect x="340.46" y="712.96" width="8.9" height="15.02" fill="#7f9b3b"/>
<rect x="350.22" y="870.11" width="8.9" height="2.41" fill="#c0623a"/>
<rect x="350.22" y="863.30" width="8.9" height="6.83" fill="#5cb2e2"/>
<rect x="350.22" y="861.94" width="8.9" height="1.38" fill="#7f7289"/>
<rect x="350.22" y="786.69" width="8.9" height="75.27" fill="#d25526"/>
<rect x="350.22" y="751.28" width="8.9" height="35.43" fill="#d98f5c"/>
<rect x="350.22" y="747.88" width="8.9" height="3.42" fill="#3b1a50"/>
<rect x="350.22" y="739.02" width="8.9" height="8.87" fill="#6a2a8b"/>
<rect x="350.22" y="737.66" width="8.9" height="1.38" fill="#56635a"/>
<rect x="350.22" y="735.62" width="8.9" height="2.06" fill="#c9952b"/>
<rect x="350.22" y="731.36" width="8.9" height="4.28" fill="#1a99d5"/>
<rect x="350.22" y="728.47" width="8.9" height="2.91" fill="#a01f23"/>
<rect x="350.22" y="719.77" width="8.9" height="8.72" fill="#7f9b3b"/>
<rect x="359.97" y="864.66" width="8.9" height="7.86" fill="#c0623a"/>
<rect x="359.97" y="847.13" width="8.9" height="17.55" fill="#5cb2e2"/>
<rect x="359.97" y="844.23" width="8.9" height="2.91" fill="#6cc46a"/>
<rect x="359.97" y="842.53" width="8.9" height="1.72" fill="#da93aa"/>
<rect x="359.97" y="840.83" width="8.9" height="1.72" fill="#7f7289"/>
<rect x="359.97" y="799.97" width="8.9" height="40.88" fill="#d25526"/>
<rect x="359.97" y="791.80" width="8.9" height="8.19" fill="#d98f5c"/>
<rect x="359.97" y="789.76" width="8.9" height="2.06" fill="#7c65b5"/>
<rect x="359.97" y="787.54" width="8.9" height="2.23" fill="#e9b46b"/>
<rect x="359.97" y="775.12" width="8.9" height="12.45" fill="#3b1a50"/>
<rect x="359.97" y="772.22" width="8.9" height="2.91" fill="#d5e4bf"/>
<rect x="359.97" y="755.20" width="8.9" height="17.04" fill="#6a2a8b"/>
<rect x="359.97" y="752.64" width="8.9" height="2.57" fill="#a9a9a9"/>
<rect x="359.97" y="750.09" width="8.9" height="2.57" fill="#9dcb3c"/>
<rect x="359.97" y="743.28" width="8.9" height="6.83" fill="#1a99d5"/>
<rect x="359.97" y="737.32" width="8.9" height="5.98" fill="#a01f23"/>
<rect x="359.97" y="733.92" width="8.9" height="3.42" fill="#9a6426"/>
<rect x="359.97" y="722.85" width="8.9" height="11.09" fill="#7f9b3b"/>
<rect x="369.73" y="853.94" width="8.9" height="18.58" fill="#efe17f"/>
<rect x="369.73" y="852.23" width="8.9" height="1.72" fill="#c0623a"/>
<rect x="369.73" y="838.62" width="8.9" height="13.64" fill="#5cb2e2"/>
<rect x="369.73" y="836.91" width="8.9" height="1.72" fill="#6cc46a"/>
<rect x="369.73" y="816.48" width="8.9" height="20.45" fill="#d25526"/>
<rect x="369.73" y="806.27" width="8.9" height="10.23" fill="#d98f5c"/>
<rect x="369.73" y="804.57" width="8.9" height="1.72" fill="#7c65b5"/>
<rect x="369.73" y="801.67" width="8.9" height="2.91" fill="#3b1a50"/>
<rect x="369.73" y="799.97" width="8.9" height="1.72" fill="#d5e4bf"/>
<rect x="369.73" y="791.80" width="8.9" height="8.19" fill="#6a2a8b"/>
<rect x="369.73" y="787.54" width="8.9" height="4.28" fill="#56635a"/>
<rect x="369.73" y="784.14" width="8.9" height="3.42" fill="#c9952b"/>
<rect x="369.73" y="780.73" width="8.9" height="3.42" fill="#a9a9a9"/>
<rect x="369.73" y="776.48" width="8.9" height="4.28" fill="#4cb648"/>
<rect x="369.73" y="773.07" width="8.9" height="3.42" fill="#3fb8a0"/>
<rect x="369.73" y="760.82" width="8.9" height="12.28" fill="#1a99d5"/>
<rect x="369.73" y="758.60" width="8.9" height="2.23" fill="#fec20f"/>
<rect x="369.73" y="750.09" width="8.9" height="8.53" fill="#a01f23"/>
<rect x="369.73" y="723.36" width="8.9" height="26.75" fill="#7f9b3b"/>
<rect x="379.48" y="862.96" width="8.9" height="9.56" fill="#5cb2e2"/>
<rect x="379.48" y="855.64" width="8.9" height="7.34" fill="#da93aa"/>
<rect x="379.48" y="853.09" width="8.9" height="2.57" fill="#7f7289"/>
<rect x="379.48" y="842.02" width="8.9" height="11.09" fill="#d25526"/>
<rect x="379.48" y="830.95" width="8.9" height="11.09" fill="#d98f5c"/>
<rect x="379.48" y="826.70" width="8.9" height="4.28" fill="#3b1a50"/>
<rect x="379.48" y="822.78" width="8.9" height="3.94" fill="#6a2a8b"/>
<rect x="379.48" y="814.78" width="8.9" height="8.02" fill="#56635a"/>
<rect x="379.48" y="812.23" width="8.9" height="2.57" fill="#c9952b"/>
<rect x="379.48" y="809.67" width="8.9" height="2.57" fill="#9dcb3c"/>
<rect x="379.48" y="773.07" width="8.9" height="36.62" fill="#3fb8a0"/>
<rect x="379.48" y="769.33" width="8.9" height="3.77" fill="#1a99d5"/>
<rect x="379.48" y="767.11" width="8.9" height="2.23" fill="#fec20f"/>
<rect x="379.48" y="750.60" width="8.9" height="16.53" fill="#a01f23"/>
<rect x="379.48" y="730.51" width="8.9" height="20.11" fill="#7f9b3b"/>
<rect x="389.24" y="867.56" width="8.9" height="4.96" fill="#efe17f"/>
<rect x="389.24" y="862.45" width="8.9" height="5.13" fill="#5cb2e2"/>
<rect x="389.24" y="825.00" width="8.9" height="37.47" fill="#d25526"/>
<rect x="389.24" y="791.80" width="8.9" height="33.22" fill="#d98f5c"/>
<rect x="389.24" y="789.76" width="8.9" height="2.06" fill="#7c65b5"/>
<rect x="389.24" y="784.99" width="8.9" height="4.79" fill="#3b1a50"/>
<rect x="389.24" y="777.33" width="8.9" height="7.68" fill="#56635a"/>
<rect x="389.24" y="770.52" width="8.9" height="6.83" fill="#9dcb3c"/>
<rect x="389.24" y="760.30" width="8.9" height="10.23" fill="#3fb8a0"/>
<rect x="389.24" y="756.90" width="8.9" height="3.42" fill="#1a99d5"/>
<rect x="389.24" y="755.20" width="8.9" height="1.72" fill="#fec20f"/>
<rect x="389.24" y="747.88" width="8.9" height="7.34" fill="#a01f23"/>
<rect x="389.24" y="736.47" width="8.9" height="11.43" fill="#7f9b3b"/>
<rect x="398.99" y="870.11" width="8.9" height="2.41" fill="#5560b0"/>
<rect x="398.99" y="867.56" width="8.9" height="2.57" fill="#efe17f"/>
<rect x="398.99" y="863.64" width="8.9" height="3.94" fill="#5cb2e2"/>
<rect x="398.99" y="838.10" width="8.9" height="25.56" fill="#d25526"/>
<rect x="398.99" y="828.91" width="8.9" height="9.21" fill="#d98f5c"/>
<rect x="398.99" y="827.55" width="8.9" height="1.38" fill="#7c65b5"/>
<rect x="398.99" y="822.78" width="8.9" height="4.79" fill="#3b1a50"/>
<rect x="398.99" y="820.74" width="8.9" height="2.06" fill="#d5e4bf"/>
<rect x="398.99" y="805.42" width="8.9" height="15.34" fill="#6a2a8b"/>
<rect x="398.99" y="803.38" width="8.9" height="2.06" fill="#56635a"/>
<rect x="398.99" y="800.65" width="8.9" height="2.74" fill="#c9952b"/>
<rect x="398.99" y="796.91" width="8.9" height="3.77" fill="#4cb648"/>
<rect x="398.99" y="787.54" width="8.9" height="9.38" fill="#3fb8a0"/>
<rect x="398.99" y="779.88" width="8.9" height="7.68" fill="#1a99d5"/>
<rect x="398.99" y="773.92" width="8.9" height="5.98" fill="#4b70c0"/>
<rect x="398.99" y="771.37" width="8.9" height="2.57" fill="#fec20f"/>
<rect x="398.99" y="765.41" width="8.9" height="5.98" fill="#a01f23"/>
<rect x="398.99" y="762.86" width="8.9" height="2.57" fill="#9a6426"/>
<rect x="398.99" y="736.47" width="8.9" height="26.41" fill="#7f9b3b"/>
<rect x="408.75" y="863.30" width="8.9" height="9.22" fill="#5cb2e2"/>
<rect x="408.75" y="835.21" width="8.9" height="28.11" fill="#d25526"/>
<rect x="408.75" y="814.78" width="8.9" height="20.45" fill="#d98f5c"/>
<rect x="408.75" y="813.08" width="8.9" height="1.72" fill="#7c65b5"/>
<rect x="408.75" y="809.16" width="8.9" height="3.94" fill="#e9b46b"/>
<rect x="408.75" y="800.65" width="8.9" height="8.53" fill="#3b1a50"/>
<rect x="408.75" y="796.06" width="8.9" height="4.62" fill="#d5e4bf"/>
<rect x="408.75" y="773.07" width="8.9" height="23.00" fill="#6a2a8b"/>
<rect x="408.75" y="767.97" width="8.9" height="5.13" fill="#a9a9a9"/>
<rect x="408.75" y="762.86" width="8.9" height="5.13" fill="#9dcb3c"/>
<rect x="408.75" y="757.75" width="8.9" height="5.13" fill="#3fb8a0"/>
<rect x="408.75" y="749.24" width="8.9" height="8.53" fill="#1a99d5"/>
<rect x="408.75" y="747.20" width="8.9" height="2.06" fill="#4b70c0"/>
<rect x="408.75" y="745.49" width="8.9" height="1.72" fill="#a01f23"/>
<rect x="408.75" y="742.09" width="8.9" height="3.42" fill="#7f9b3b"/>
<rect x="418.50" y="869.77" width="8.9" height="2.75" fill="#c0623a"/>
<rect x="418.50" y="867.56" width="8.9" height="2.23" fill="#6cc46a"/>
<rect x="418.50" y="864.66" width="8.9" height="2.91" fill="#da93aa"/>
<rect x="418.50" y="829.59" width="8.9" height="35.09" fill="#d25526"/>
<rect x="418.50" y="827.55" width="8.9" height="2.06" fill="#d98f5c"/>
<rect x="418.50" y="824.15" width="8.9" height="3.42" fill="#7c65b5"/>
<rect x="418.50" y="821.59" width="8.9" height="2.57" fill="#56635a"/>
<rect x="418.50" y="819.04" width="8.9" height="2.57" fill="#c9952b"/>
<rect x="418.50" y="816.48" width="8.9" height="2.57" fill="#9dcb3c"/>
<rect x="418.50" y="812.23" width="8.9" height="4.28" fill="#3fb8a0"/>
<rect x="418.50" y="808.82" width="8.9" height="3.42" fill="#a01f23"/>
<rect x="418.50" y="755.20" width="8.9" height="53.65" fill="#7f9b3b"/>
<rect x="428.26" y="870.11" width="8.9" height="2.41" fill="#efe17f"/>
<rect x="428.26" y="868.75" width="8.9" height="1.38" fill="#5cb2e2"/>
<rect x="428.26" y="833.00" width="8.9" height="35.77" fill="#d25526"/>
<rect x="428.26" y="830.95" width="8.9" height="2.06" fill="#d98f5c"/>
<rect x="428.26" y="828.40" width="8.9" height="2.57" fill="#e9b46b"/>
<rect x="428.26" y="823.80" width="8.9" height="4.62" fill="#3b1a50"/>
<rect x="428.26" y="821.59" width="8.9" height="2.23" fill="#d5e4bf"/>
<rect x="428.26" y="818.19" width="8.9" height="3.42" fill="#6a2a8b"/>
<rect x="428.26" y="813.93" width="8.9" height="4.28" fill="#56635a"/>
<rect x="428.26" y="811.89" width="8.9" height="2.06" fill="#c9952b"/>
<rect x="428.26" y="809.67" width="8.9" height="2.23" fill="#a9a9a9"/>
<rect x="428.26" y="805.42" width="8.9" height="4.28" fill="#9dcb3c"/>
<rect x="428.26" y="794.35" width="8.9" height="11.09" fill="#4cb648"/>
<rect x="428.26" y="790.95" width="8.9" height="3.42" fill="#3fb8a0"/>
<rect x="428.26" y="776.14" width="8.9" height="14.83" fill="#1a99d5"/>
<rect x="428.26" y="773.92" width="8.9" height="2.23" fill="#4b70c0"/>
<rect x="428.26" y="772.73" width="8.9" height="1.21" fill="#fec20f"/>
<rect x="428.26" y="768.31" width="8.9" height="4.45" fill="#a01f23"/>
<rect x="428.26" y="761.16" width="8.9" height="7.17" fill="#7f9b3b"/>
<rect x="438.01" y="865.00" width="8.9" height="7.52" fill="#5cb2e2"/>
<rect x="438.01" y="834.02" width="8.9" height="31.00" fill="#d25526"/>
<rect x="438.01" y="823.80" width="8.9" height="10.23" fill="#d98f5c"/>
<rect x="438.01" y="821.08" width="8.9" height="2.74" fill="#e9b46b"/>
<rect x="438.01" y="817.34" width="8.9" height="3.77" fill="#3b1a50"/>
<rect x="438.01" y="813.59" width="8.9" height="3.77" fill="#d5e4bf"/>
<rect x="438.01" y="805.76" width="8.9" height="7.85" fill="#6a2a8b"/>
<rect x="438.01" y="802.01" width="8.9" height="3.77" fill="#56635a"/>
<rect x="438.01" y="799.46" width="8.9" height="2.57" fill="#c9952b"/>
<rect x="438.01" y="793.50" width="8.9" height="5.98" fill="#4cb648"/>
<rect x="438.01" y="791.80" width="8.9" height="1.72" fill="#3fb8a0"/>
<rect x="438.01" y="783.29" width="8.9" height="8.53" fill="#1a99d5"/>
<rect x="438.01" y="779.03" width="8.9" height="4.28" fill="#a01f23"/>
<rect x="438.01" y="762.01" width="8.9" height="17.04" fill="#7f9b3b"/>
<rect x="447.77" y="866.71" width="8.9" height="5.81" fill="#41607f"/>
<rect x="447.77" y="865.00" width="8.9" height="1.72" fill="#5cb2e2"/>
<rect x="447.77" y="862.96" width="8.9" height="2.06" fill="#6cc46a"/>
<rect x="447.77" y="841.17" width="8.9" height="21.81" fill="#da93aa"/>
<rect x="447.77" y="840.32" width="8.9" height="0.87" fill="#8c4025"/>
<rect x="447.77" y="728.81" width="8.9" height="111.53" fill="#d25526"/>
<rect x="447.77" y="706.49" width="8.9" height="22.34" fill="#d98f5c"/>
<rect x="447.77" y="704.45" width="8.9" height="2.06" fill="#7c65b5"/>
<rect x="447.77" y="667.68" width="8.9" height="36.79" fill="#3b1a50"/>
<rect x="447.77" y="665.63" width="8.9" height="2.06" fill="#d5e4bf"/>
<rect x="447.77" y="661.89" width="8.9" height="3.77" fill="#6a2a8b"/>
<rect x="447.77" y="620.01" width="8.9" height="41.90" fill="#56635a"/>
<rect x="447.77" y="614.56" width="8.9" height="5.47" fill="#c9952b"/>
<rect x="447.77" y="610.82" width="8.9" height="3.77" fill="#a9a9a9"/>
<rect x="447.77" y="608.09" width="8.9" height="2.74" fill="#9dcb3c"/>
<rect x="447.77" y="603.49" width="8.9" height="4.62" fill="#4cb648"/>
<rect x="447.77" y="599.24" width="8.9" height="4.28" fill="#3fb8a0"/>
<rect x="447.77" y="594.98" width="8.9" height="4.28" fill="#1a99d5"/>
<rect x="447.77" y="590.73" width="8.9" height="4.28" fill="#4b70c0"/>
<rect x="447.77" y="589.88" width="8.9" height="0.87" fill="#fec20f"/>
<rect x="447.77" y="588.68" width="8.9" height="1.21" fill="#c9952b"/>
<rect x="457.52" y="868.41" width="8.9" height="4.11" fill="#5cb2e2"/>
<rect x="457.52" y="863.64" width="8.9" height="4.79" fill="#6cc46a"/>
<rect x="457.52" y="860.75" width="8.9" height="2.91" fill="#da93aa"/>
<rect x="457.52" y="859.04" width="8.9" height="1.72" fill="#7f7289"/>
<rect x="457.52" y="739.88" width="8.9" height="119.19" fill="#d25526"/>
<rect x="457.52" y="730.17" width="8.9" height="9.72" fill="#d98f5c"/>
<rect x="457.52" y="728.81" width="8.9" height="1.38" fill="#7c65b5"/>
<rect x="457.52" y="719.77" width="8.9" height="9.06" fill="#e9b46b"/>
<rect x="457.52" y="683.51" width="8.9" height="36.28" fill="#3b1a50"/>
<rect x="457.52" y="674.49" width="8.9" height="9.04" fill="#d5e4bf"/>
<rect x="457.52" y="664.78" width="8.9" height="9.72" fill="#6a2a8b"/>
<rect x="457.52" y="662.57" width="8.9" height="2.23" fill="#56635a"/>
<rect x="457.52" y="659.16" width="8.9" height="3.42" fill="#c9952b"/>
<rect x="457.52" y="649.46" width="8.9" height="9.72" fill="#a9a9a9"/>
<rect x="457.52" y="646.91" width="8.9" height="2.57" fill="#4cb648"/>
<rect x="457.52" y="645.20" width="8.9" height="1.72" fill="#3fb8a0"/>
<rect x="457.52" y="640.95" width="8.9" height="4.28" fill="#1a99d5"/>
<rect x="457.52" y="638.05" width="8.9" height="2.91" fill="#a01f23"/>
<rect x="457.52" y="626.14" width="8.9" height="11.94" fill="#7f9b3b"/>
<rect x="457.52" y="625.12" width="8.9" height="1.04" fill="#3a9a4b"/>
<rect x="467.28" y="870.11" width="8.9" height="2.41" fill="#d23a31"/>
<rect x="467.28" y="857.85" width="8.9" height="12.28" fill="#5cb2e2"/>
<rect x="467.28" y="771.37" width="8.9" height="86.50" fill="#d25526"/>
<rect x="467.28" y="766.60" width="8.9" height="4.79" fill="#d98f5c"/>
<rect x="467.28" y="764.22" width="8.9" height="2.40" fill="#e9b46b"/>
<rect x="467.28" y="709.04" width="8.9" height="55.20" fill="#3b1a50"/>
<rect x="467.28" y="707.34" width="8.9" height="1.72" fill="#d5e4bf"/>
<rect x="467.28" y="692.02" width="8.9" height="15.34" fill="#6a2a8b"/>
<rect x="467.28" y="690.83" width="8.9" height="1.21" fill="#c1185c"/>
<rect x="467.28" y="688.62" width="8.9" height="2.23" fill="#9dcb3c"/>
<rect x="467.28" y="685.72" width="8.9" height="2.91" fill="#4cb648"/>
<rect x="467.28" y="683.51" width="8.9" height="2.23" fill="#3fb8a0"/>
<rect x="467.28" y="669.89" width="8.9" height="13.64" fill="#1a99d5"/>
<rect x="467.28" y="668.19" width="8.9" height="1.72" fill="#4b70c0"/>
<rect x="467.28" y="643.50" width="8.9" height="24.71" fill="#9d1b3d"/>
<rect x="467.28" y="639.25" width="8.9" height="4.28" fill="#9a6426"/>
<rect x="467.28" y="626.14" width="8.9" height="13.13" fill="#7f9b3b"/>
<rect x="477.03" y="870.11" width="8.9" height="2.41" fill="#5560b0"/>
<rect x="477.03" y="867.05" width="8.9" height="3.08" fill="#5cb2e2"/>
<rect x="477.03" y="853.09" width="8.9" height="13.98" fill="#d25526"/>
<rect x="477.03" y="850.53" width="8.9" height="2.57" fill="#d98f5c"/>
<rect x="477.03" y="848.32" width="8.9" height="2.23" fill="#e9b46b"/>
<rect x="477.03" y="847.13" width="8.9" height="1.21" fill="#3b1a50"/>
<rect x="477.03" y="835.72" width="8.9" height="11.43" fill="#6a2a8b"/>
<rect x="477.03" y="831.81" width="8.9" height="3.94" fill="#c1185c"/>
<rect x="477.03" y="829.25" width="8.9" height="2.57" fill="#56635a"/>
<rect x="477.03" y="826.19" width="8.9" height="3.08" fill="#c9952b"/>
<rect x="477.03" y="680.95" width="8.9" height="145.25" fill="#4cb648"/>
<rect x="477.03" y="674.15" width="8.9" height="6.83" fill="#3fb8a0"/>
<rect x="477.03" y="642.65" width="8.9" height="31.51" fill="#1a99d5"/>
<rect x="477.03" y="639.25" width="8.9" height="3.42" fill="#4b70c0"/>
<rect x="477.03" y="637.54" width="8.9" height="1.72" fill="#fec20f"/>
<rect x="477.03" y="636.35" width="8.9" height="1.21" fill="#d23a31"/>
<rect x="477.03" y="626.82" width="8.9" height="9.55" fill="#7f9b3b"/>
<rect x="486.79" y="870.45" width="8.9" height="2.07" fill="#d23a31"/>
<rect x="486.79" y="844.23" width="8.9" height="26.24" fill="#efe17f"/>
<rect x="486.79" y="841.17" width="8.9" height="3.08" fill="#5cb2e2"/>
<rect x="486.79" y="837.76" width="8.9" height="3.42" fill="#da93aa"/>
<rect x="486.79" y="835.72" width="8.9" height="2.06" fill="#d25526"/>
<rect x="486.79" y="833.51" width="8.9" height="2.23" fill="#e9b46b"/>
<rect x="486.79" y="828.40" width="8.9" height="5.13" fill="#3b1a50"/>
<rect x="486.79" y="821.59" width="8.9" height="6.83" fill="#6a2a8b"/>
<rect x="486.79" y="816.48" width="8.9" height="5.13" fill="#c1185c"/>
<rect x="486.79" y="813.08" width="8.9" height="3.42" fill="#56635a"/>
<rect x="486.79" y="809.16" width="8.9" height="3.94" fill="#c9952b"/>
<rect x="486.79" y="800.65" width="8.9" height="8.53" fill="#9dcb3c"/>
<rect x="486.79" y="750.60" width="8.9" height="50.07" fill="#4cb648"/>
<rect x="486.79" y="735.96" width="8.9" height="14.66" fill="#3fb8a0"/>
<rect x="486.79" y="655.42" width="8.9" height="80.56" fill="#1a99d5"/>
<rect x="486.79" y="649.97" width="8.9" height="5.47" fill="#4b70c0"/>
<rect x="486.79" y="647.76" width="8.9" height="2.23" fill="#fec20f"/>
<rect x="486.79" y="646.91" width="8.9" height="0.87" fill="#9a6426"/>
<rect x="486.79" y="636.35" width="8.9" height="10.57" fill="#7f9b3b"/>
<rect x="496.54" y="870.45" width="8.9" height="2.07" fill="#d23a31"/>
<rect x="496.54" y="861.94" width="8.9" height="8.53" fill="#5cb2e2"/>
<rect x="496.54" y="859.56" width="8.9" height="2.40" fill="#da93aa"/>
<rect x="496.54" y="840.83" width="8.9" height="18.75" fill="#d25526"/>
<rect x="496.54" y="797.76" width="8.9" height="43.09" fill="#d98f5c"/>
<rect x="496.54" y="707.34" width="8.9" height="90.44" fill="#7c65b5"/>
<rect x="496.54" y="705.64" width="8.9" height="1.72" fill="#e9b46b"/>
<rect x="496.54" y="669.04" width="8.9" height="36.62" fill="#3b1a50"/>
<rect x="496.54" y="667.34" width="8.9" height="1.72" fill="#d5e4bf"/>
<rect x="496.54" y="663.08" width="8.9" height="4.28" fill="#6a2a8b"/>
<rect x="496.54" y="659.67" width="8.9" height="3.42" fill="#56635a"/>
<rect x="496.54" y="657.97" width="8.9" height="1.72" fill="#c9952b"/>
<rect x="496.54" y="652.01" width="8.9" height="5.98" fill="#3fb8a0"/>
<rect x="496.54" y="650.31" width="8.9" height="1.72" fill="#1a99d5"/>
<rect x="496.54" y="643.16" width="8.9" height="7.17" fill="#a01f23"/>
<rect x="496.54" y="639.76" width="8.9" height="3.42" fill="#7f9b3b"/>
<rect x="506.30" y="865.85" width="8.9" height="6.67" fill="#5cb2e2"/>
<rect x="506.30" y="811.89" width="8.9" height="53.99" fill="#d25526"/>
<rect x="506.30" y="802.35" width="8.9" height="9.55" fill="#d98f5c"/>
<rect x="506.30" y="801.16" width="8.9" height="1.21" fill="#7c65b5"/>
<rect x="506.30" y="795.54" width="8.9" height="5.64" fill="#e9b46b"/>
<rect x="506.30" y="775.12" width="8.9" height="20.45" fill="#3b1a50"/>
<rect x="506.30" y="767.97" width="8.9" height="7.17" fill="#d5e4bf"/>
<rect x="506.30" y="752.98" width="8.9" height="15.00" fill="#6a2a8b"/>
<rect x="506.30" y="750.94" width="8.9" height="2.06" fill="#c1185c"/>
<rect x="506.30" y="747.54" width="8.9" height="3.42" fill="#56635a"/>
<rect x="506.30" y="745.49" width="8.9" height="2.06" fill="#c9952b"/>
<rect x="506.30" y="740.73" width="8.9" height="4.79" fill="#a9a9a9"/>
<rect x="506.30" y="738.68" width="8.9" height="2.06" fill="#cc9a31"/>
<rect x="506.30" y="728.81" width="8.9" height="9.89" fill="#4cb648"/>
<rect x="506.30" y="724.55" width="8.9" height="4.28" fill="#3fb8a0"/>
<rect x="506.30" y="697.13" width="8.9" height="27.45" fill="#1a99d5"/>
<rect x="506.30" y="694.57" width="8.9" height="2.57" fill="#4b70c0"/>
<rect x="506.30" y="691.17" width="8.9" height="3.42" fill="#fec20f"/>
<rect x="506.30" y="663.08" width="8.9" height="28.11" fill="#9d1b3d"/>
<rect x="506.30" y="657.97" width="8.9" height="5.13" fill="#a01f23"/>
<rect x="506.30" y="650.31" width="8.9" height="7.68" fill="#7f9b3b"/>
<rect x="516.05" y="857.34" width="8.9" height="15.18" fill="#5560b0"/>
<rect x="516.05" y="854.79" width="8.9" height="2.57" fill="#efe17f"/>
<rect x="516.05" y="835.21" width="8.9" height="19.60" fill="#5cb2e2"/>
<rect x="516.05" y="828.40" width="8.9" height="6.83" fill="#da93aa"/>
<rect x="516.05" y="771.03" width="8.9" height="57.39" fill="#d25526"/>
<rect x="516.05" y="743.28" width="8.9" height="27.77" fill="#d98f5c"/>
<rect x="516.05" y="742.09" width="8.9" height="1.21" fill="#7c65b5"/>
<rect x="516.05" y="736.98" width="8.9" height="5.13" fill="#e9b46b"/>
<rect x="516.05" y="726.26" width="8.9" height="10.75" fill="#3b1a50"/>
<rect x="516.05" y="721.81" width="8.9" height="4.46" fill="#d5e4bf"/>
<rect x="516.05" y="720.11" width="8.9" height="1.72" fill="#6a2a8b"/>
<rect x="516.05" y="715.85" width="8.9" height="4.28" fill="#9dcb3c"/>
<rect x="516.05" y="707.85" width="8.9" height="8.02" fill="#4cb648"/>
<rect x="516.05" y="685.72" width="8.9" height="22.15" fill="#3fb8a0"/>
<rect x="516.05" y="669.38" width="8.9" height="16.36" fill="#1a99d5"/>
<rect x="516.05" y="667.34" width="8.9" height="2.06" fill="#4b70c0"/>
<rect x="516.05" y="663.93" width="8.9" height="3.42" fill="#fec20f"/>
<rect x="516.05" y="660.19" width="8.9" height="3.77" fill="#a01f23"/>
<rect x="516.05" y="654.57" width="8.9" height="5.64" fill="#7f9b3b"/>
<rect x="516.05" y="652.01" width="8.9" height="2.57" fill="#3a9a4b"/>
<rect x="525.81" y="864.66" width="8.9" height="7.86" fill="#5cb2e2"/>
<rect x="525.81" y="818.70" width="8.9" height="45.99" fill="#d25526"/>
<rect x="525.81" y="776.14" width="8.9" height="42.58" fill="#d98f5c"/>
<rect x="525.81" y="774.43" width="8.9" height="1.72" fill="#7c65b5"/>
<rect x="525.81" y="754.69" width="8.9" height="19.77" fill="#3b1a50"/>
<rect x="525.81" y="752.98" width="8.9" height="1.72" fill="#d5e4bf"/>
<rect x="525.81" y="734.26" width="8.9" height="18.75" fill="#6a2a8b"/>
<rect x="525.81" y="733.07" width="8.9" height="1.21" fill="#9dcb3c"/>
<rect x="525.81" y="723.36" width="8.9" height="9.72" fill="#3fb8a0"/>
<rect x="525.81" y="721.81" width="8.9" height="1.57" fill="#c0623a"/>
<rect x="525.81" y="720.11" width="8.9" height="1.72" fill="#a01f23"/>
<rect x="525.81" y="716.71" width="8.9" height="3.42" fill="#9a6426"/>
<rect x="525.81" y="714.15" width="8.9" height="2.57" fill="#7f9b3b"/>
<rect x="535.56" y="868.41" width="8.9" height="4.11" fill="#5cb2e2"/>
<rect x="535.56" y="866.71" width="8.9" height="1.72" fill="#6cc46a"/>
<rect x="535.56" y="865.00" width="8.9" height="1.72" fill="#da93aa"/>
<rect x="535.56" y="862.45" width="8.9" height="2.57" fill="#7f7289"/>
<rect x="535.56" y="794.86" width="8.9" height="67.61" fill="#d25526"/>
<rect x="535.56" y="790.44" width="8.9" height="4.45" fill="#d98f5c"/>
<rect x="535.56" y="785.33" width="8.9" height="5.13" fill="#e9b46b"/>
<rect x="535.56" y="774.77" width="8.9" height="10.57" fill="#3b1a50"/>
<rect x="535.56" y="769.67" width="8.9" height="5.13" fill="#d5e4bf"/>
<rect x="535.56" y="751.28" width="8.9" height="18.41" fill="#6a2a8b"/>
<rect x="535.56" y="749.58" width="8.9" height="1.72" fill="#56635a"/>
<rect x="535.56" y="747.54" width="8.9" height="2.06" fill="#c9952b"/>
<rect x="535.56" y="743.28" width="8.9" height="4.28" fill="#4cb648"/>
<rect x="535.56" y="735.62" width="8.9" height="7.68" fill="#1a99d5"/>
<rect x="535.56" y="733.07" width="8.9" height="2.57" fill="#4b70c0"/>
<rect x="535.56" y="730.51" width="8.9" height="2.57" fill="#a01f23"/>
<rect x="535.56" y="717.56" width="8.9" height="12.98" fill="#7f9b3b"/>
<rect x="545.31" y="869.77" width="8.9" height="2.75" fill="#efe17f"/>
<rect x="545.31" y="865.85" width="8.9" height="3.94" fill="#5cb2e2"/>
<rect x="545.31" y="843.72" width="8.9" height="22.15" fill="#d25526"/>
<rect x="545.31" y="841.17" width="8.9" height="2.57" fill="#d98f5c"/>
<rect x="545.31" y="839.47" width="8.9" height="1.72" fill="#e9b46b"/>
<rect x="545.31" y="833.51" width="8.9" height="5.98" fill="#3b1a50"/>
<rect x="545.31" y="831.47" width="8.9" height="2.06" fill="#d5e4bf"/>
<rect x="545.31" y="826.19" width="8.9" height="5.30" fill="#6a2a8b"/>
<rect x="545.31" y="822.44" width="8.9" height="3.77" fill="#56635a"/>
<rect x="545.31" y="818.70" width="8.9" height="3.77" fill="#c9952b"/>
<rect x="545.31" y="809.16" width="8.9" height="9.55" fill="#9dcb3c"/>
<rect x="545.31" y="783.63" width="8.9" height="25.56" fill="#4cb648"/>
<rect x="545.31" y="776.14" width="8.9" height="7.51" fill="#3fb8a0"/>
<rect x="545.31" y="759.11" width="8.9" height="17.04" fill="#1a99d5"/>
<rect x="545.31" y="756.05" width="8.9" height="3.08" fill="#fec20f"/>
<rect x="545.31" y="751.79" width="8.9" height="4.28" fill="#a01f23"/>
<rect x="545.31" y="749.24" width="8.9" height="2.57" fill="#9a6426"/>
<rect x="545.31" y="720.45" width="8.9" height="28.81" fill="#7f9b3b"/>
<rect x="555.07" y="866.71" width="8.9" height="5.81" fill="#5cb2e2"/>
<rect x="555.07" y="830.95" width="8.9" height="35.77" fill="#d25526"/>
<rect x="555.07" y="801.16" width="8.9" height="29.81" fill="#d98f5c"/>
<rect x="555.07" y="796.91" width="8.9" height="4.28" fill="#7c65b5"/>
<rect x="555.07" y="790.95" width="8.9" height="5.98" fill="#3b1a50"/>
<rect x="555.07" y="790.10" width="8.9" height="0.87" fill="#d5e4bf"/>
<rect x="555.07" y="767.11" width="8.9" height="23.00" fill="#6a2a8b"/>
<rect x="555.07" y="763.71" width="8.9" height="3.42" fill="#c9952b"/>
<rect x="555.07" y="762.01" width="8.9" height="1.72" fill="#a9a9a9"/>
<rect x="555.07" y="760.30" width="8.9" height="1.72" fill="#9dcb3c"/>
<rect x="555.07" y="750.09" width="8.9" height="10.23" fill="#3fb8a0"/>
<rect x="555.07" y="747.20" width="8.9" height="2.91" fill="#1a99d5"/>
<rect x="555.07" y="742.77" width="8.9" height="4.45" fill="#4b70c0"/>
<rect x="555.07" y="736.47" width="8.9" height="6.32" fill="#fec20f"/>
<rect x="555.07" y="734.26" width="8.9" height="2.23" fill="#a01f23"/>
<rect x="555.07" y="731.36" width="8.9" height="2.91" fill="#9a6426"/>
<rect x="555.07" y="723.36" width="8.9" height="8.02" fill="#7f9b3b"/>
<rect x="564.83" y="865.85" width="8.9" height="6.67" fill="#6a9b4b"/>
<rect x="564.83" y="862.96" width="8.9" height="2.91" fill="#d25526"/>
<rect x="564.83" y="831.30" width="8.9" height="31.68" fill="#7d1b6e"/>
<rect x="564.83" y="828.91" width="8.9" height="2.40" fill="#6cc46a"/>
<rect x="564.83" y="827.55" width="8.9" height="1.38" fill="#da93aa"/>
<rect x="564.83" y="818.70" width="8.9" height="8.87" fill="#7f7289"/>
<rect x="564.83" y="816.48" width="8.9" height="2.23" fill="#d25526"/>
<rect x="564.83" y="811.38" width="8.9" height="5.13" fill="#c1185c"/>
<rect x="564.83" y="808.82" width="8.9" height="2.57" fill="#56635a"/>
<rect x="564.83" y="805.42" width="8.9" height="3.42" fill="#c9952b"/>
<rect x="564.83" y="795.20" width="8.9" height="10.23" fill="#4cb648"/>
<rect x="564.83" y="784.14" width="8.9" height="11.09" fill="#3fb8a0"/>
<rect x="564.83" y="747.20" width="8.9" height="36.96" fill="#1a99d5"/>
<rect x="564.83" y="744.13" width="8.9" height="3.08" fill="#4b70c0"/>
<rect x="564.83" y="740.39" width="8.9" height="3.77" fill="#a01f23"/>
<rect x="564.83" y="735.28" width="8.9" height="5.13" fill="#7f9b3b"/>
<rect x="574.58" y="870.96" width="8.9" height="1.56" fill="#d98f5c"/>
<rect x="574.58" y="858.19" width="8.9" height="12.79" fill="#5cb2e2"/>
<rect x="574.58" y="853.09" width="8.9" height="5.13" fill="#da93aa"/>
<rect x="574.58" y="850.53" width="8.9" height="2.57" fill="#7f7289"/>
<rect x="574.58" y="818.19" width="8.9" height="32.37" fill="#d25526"/>
<rect x="574.58" y="795.20" width="8.9" height="23.00" fill="#d98f5c"/>
<rect x="574.58" y="793.16" width="8.9" height="2.06" fill="#7c65b5"/>
<rect x="574.58" y="790.10" width="8.9" height="3.08" fill="#3b1a50"/>
<rect x="574.58" y="781.58" width="8.9" height="8.53" fill="#6a2a8b"/>
<rect x="574.58" y="779.03" width="8.9" height="2.57" fill="#56635a"/>
<rect x="574.58" y="776.82" width="8.9" height="2.23" fill="#c9952b"/>
<rect x="574.58" y="773.07" width="8.9" height="3.77" fill="#a9a9a9"/>
<rect x="574.58" y="770.52" width="8.9" height="2.57" fill="#4cb648"/>
<rect x="574.58" y="766.26" width="8.9" height="4.28" fill="#1a99d5"/>
<rect x="574.58" y="760.82" width="8.9" height="5.47" fill="#a01f23"/>
<rect x="574.58" y="746.17" width="8.9" height="14.66" fill="#7f9b3b"/>
<rect x="584.34" y="869.26" width="8.9" height="3.26" fill="#c0623a"/>
<rect x="584.34" y="865.00" width="8.9" height="4.28" fill="#5cb2e2"/>
<rect x="584.34" y="858.19" width="8.9" height="6.83" fill="#6cc46a"/>
<rect x="584.34" y="854.45" width="8.9" height="3.77" fill="#da93aa"/>
<rect x="584.34" y="853.09" width="8.9" height="1.38" fill="#7f7289"/>
<rect x="584.34" y="845.94" width="8.9" height="7.17" fill="#d25526"/>
<rect x="584.34" y="836.91" width="8.9" height="9.04" fill="#d98f5c"/>
<rect x="584.34" y="831.30" width="8.9" height="5.64" fill="#3b1a50"/>
<rect x="584.34" y="830.10" width="8.9" height="1.21" fill="#d5e4bf"/>
<rect x="584.34" y="825.00" width="8.9" height="5.13" fill="#6a2a8b"/>
<rect x="584.34" y="818.19" width="8.9" height="6.83" fill="#56635a"/>
<rect x="584.34" y="815.97" width="8.9" height="2.23" fill="#c9952b"/>
<rect x="584.34" y="813.93" width="8.9" height="2.06" fill="#a9a9a9"/>
<rect x="584.34" y="810.53" width="8.9" height="3.42" fill="#4cb648"/>
<rect x="584.34" y="799.97" width="8.9" height="10.57" fill="#3fb8a0"/>
<rect x="584.34" y="795.20" width="8.9" height="4.79" fill="#1a99d5"/>
<rect x="584.34" y="793.16" width="8.9" height="2.06" fill="#fec20f"/>
<rect x="584.34" y="784.14" width="8.9" height="9.04" fill="#a01f23"/>
<rect x="584.34" y="770.52" width="8.9" height="13.64" fill="#7f9b3b"/>
<rect x="594.09" y="870.96" width="8.9" height="1.56" fill="#5560b0"/>
<rect x="594.09" y="866.36" width="8.9" height="4.62" fill="#efe17f"/>
<rect x="594.09" y="863.30" width="8.9" height="3.08" fill="#5cb2e2"/>
<rect x="594.09" y="856.49" width="8.9" height="6.83" fill="#d25526"/>
<rect x="594.09" y="853.94" width="8.9" height="2.57" fill="#3b1a50"/>
<rect x="594.09" y="847.13" width="8.9" height="6.83" fill="#c1185c"/>
<rect x="594.09" y="837.76" width="8.9" height="9.38" fill="#56635a"/>
<rect x="594.09" y="832.32" width="8.9" height="5.47" fill="#c9952b"/>
<rect x="594.09" y="828.40" width="8.9" height="3.94" fill="#a9a9a9"/>
<rect x="594.09" y="821.59" width="8.9" height="6.83" fill="#9dcb3c"/>
<rect x="594.09" y="800.65" width="8.9" height="20.96" fill="#4cb648"/>
<rect x="594.09" y="788.05" width="8.9" height="12.62" fill="#3fb8a0"/>
<rect x="594.09" y="719.77" width="8.9" height="68.30" fill="#1a99d5"/>
<rect x="594.09" y="714.15" width="8.9" height="5.64" fill="#4b70c0"/>
<rect x="594.09" y="711.94" width="8.9" height="2.23" fill="#fec20f"/>
<rect x="594.09" y="704.79" width="8.9" height="7.17" fill="#a01f23"/>
<rect x="594.09" y="700.02" width="8.9" height="4.79" fill="#7f9b3b"/>
<rect x="603.85" y="865.85" width="8.9" height="6.67" fill="#efe17f"/>
<rect x="603.85" y="861.60" width="8.9" height="4.28" fill="#5cb2e2"/>
<rect x="603.85" y="804.06" width="8.9" height="57.56" fill="#d25526"/>
<rect x="603.85" y="796.06" width="8.9" height="8.02" fill="#d98f5c"/>
<rect x="603.85" y="793.50" width="8.9" height="2.57" fill="#7c65b5"/>
<rect x="603.85" y="790.95" width="8.9" height="2.57" fill="#3b1a50"/>
<rect x="603.85" y="779.88" width="8.9" height="11.09" fill="#6a2a8b"/>
<rect x="603.85" y="776.48" width="8.9" height="3.42" fill="#56635a"/>
<rect x="603.85" y="773.92" width="8.9" height="2.57" fill="#c9952b"/>
<rect x="603.85" y="764.56" width="8.9" height="9.38" fill="#9dcb3c"/>
<rect x="603.85" y="757.75" width="8.9" height="6.83" fill="#4cb648"/>
<rect x="603.85" y="744.13" width="8.9" height="13.64" fill="#3fb8a0"/>
<rect x="603.85" y="721.47" width="8.9" height="22.68" fill="#1a99d5"/>
<rect x="603.85" y="717.56" width="8.9" height="3.94" fill="#4b70c0"/>
<rect x="603.85" y="715.85" width="8.9" height="1.72" fill="#fec20f"/>
<rect x="603.85" y="711.26" width="8.9" height="4.62" fill="#a01f23"/>
<rect x="603.85" y="707.85" width="8.9" height="3.42" fill="#7f9b3b"/>
<rect x="613.60" y="870.45" width="8.9" height="2.07" fill="#5560b0"/>
<rect x="613.60" y="865.85" width="8.9" height="4.62" fill="#efe17f"/>
<rect x="613.60" y="861.60" width="8.9" height="4.28" fill="#5cb2e2"/>
<rect x="613.60" y="805.42" width="8.9" height="56.20" fill="#d25526"/>
<rect x="613.60" y="790.95" width="8.9" height="14.49" fill="#d98f5c"/>
<rect x="613.60" y="789.25" width="8.9" height="1.72" fill="#7c65b5"/>
<rect x="613.60" y="785.84" width="8.9" height="3.42" fill="#e9b46b"/>
<rect x="613.60" y="780.73" width="8.9" height="5.13" fill="#3b1a50"/>
<rect x="613.60" y="776.82" width="8.9" height="3.94" fill="#d5e4bf"/>
<rect x="613.60" y="759.45" width="8.9" height="17.38" fill="#6a2a8b"/>
<rect x="613.60" y="756.90" width="8.9" height="2.57" fill="#a9a9a9"/>
<rect x="613.60" y="754.35" width="8.9" height="2.57" fill="#9dcb3c"/>
<rect x="613.60" y="752.30" width="8.9" height="2.06" fill="#4cb648"/>
<rect x="613.60" y="747.54" width="8.9" height="4.79" fill="#3fb8a0"/>
<rect x="613.60" y="742.09" width="8.9" height="5.47" fill="#1a99d5"/>
<rect x="613.60" y="739.88" width="8.9" height="2.23" fill="#fec20f"/>
<rect x="613.60" y="737.66" width="8.9" height="2.23" fill="#a01f23"/>
<rect x="613.60" y="733.92" width="8.9" height="3.77" fill="#9a6426"/>
<rect x="613.60" y="722.85" width="8.9" height="11.09" fill="#7f9b3b"/>
<rect x="623.36" y="870.11" width="8.9" height="2.41" fill="#5560b0"/>
<rect x="623.36" y="866.36" width="8.9" height="3.77" fill="#5cb2e2"/>
<rect x="623.36" y="796.06" width="8.9" height="70.33" fill="#d25526"/>
<rect x="623.36" y="785.84" width="8.9" height="10.23" fill="#d98f5c"/>
<rect x="623.36" y="784.14" width="8.9" height="1.72" fill="#7c65b5"/>
<rect x="623.36" y="781.24" width="8.9" height="2.91" fill="#3b1a50"/>
<rect x="623.36" y="767.11" width="8.9" height="14.15" fill="#6a2a8b"/>
<rect x="623.36" y="765.92" width="8.9" height="1.21" fill="#c1185c"/>
<rect x="623.36" y="763.71" width="8.9" height="2.23" fill="#a9a9a9"/>
<rect x="623.36" y="761.16" width="8.9" height="2.57" fill="#9dcb3c"/>
<rect x="623.36" y="756.90" width="8.9" height="4.28" fill="#4cb648"/>
<rect x="623.36" y="752.64" width="8.9" height="4.28" fill="#3fb8a0"/>
<rect x="623.36" y="742.43" width="8.9" height="10.23" fill="#1a99d5"/>
<rect x="623.36" y="740.39" width="8.9" height="2.06" fill="#4b70c0"/>
<rect x="623.36" y="735.96" width="8.9" height="4.45" fill="#a01f23"/>
<rect x="623.36" y="730.17" width="8.9" height="5.81" fill="#9a6426"/>
<rect x="623.36" y="726.77" width="8.9" height="3.42" fill="#7f9b3b"/>
<rect x="633.11" y="864.15" width="8.9" height="8.37" fill="#5cb2e2"/>
<rect x="633.11" y="862.96" width="8.9" height="1.21" fill="#da93aa"/>
<rect x="633.11" y="841.17" width="8.9" height="21.81" fill="#d25526"/>
<rect x="633.11" y="837.76" width="8.9" height="3.42" fill="#d98f5c"/>
<rect x="633.11" y="834.36" width="8.9" height="3.42" fill="#3b1a50"/>
<rect x="633.11" y="829.25" width="8.9" height="5.13" fill="#6a2a8b"/>
<rect x="633.11" y="826.70" width="8.9" height="2.57" fill="#c1185c"/>
<rect x="633.11" y="823.29" width="8.9" height="3.42" fill="#56635a"/>
<rect x="633.11" y="820.74" width="8.9" height="2.57" fill="#c9952b"/>
<rect x="633.11" y="807.97" width="8.9" height="12.79" fill="#4cb648"/>
<rect x="633.11" y="781.93" width="8.9" height="26.07" fill="#3fb8a0"/>
<rect x="633.11" y="752.64" width="8.9" height="29.30" fill="#1a99d5"/>
<rect x="633.11" y="748.39" width="8.9" height="4.28" fill="#4b70c0"/>
<rect x="633.11" y="744.13" width="8.9" height="4.28" fill="#fec20f"/>
<rect x="633.11" y="736.98" width="8.9" height="7.17" fill="#a01f23"/>
<rect x="633.11" y="734.26" width="8.9" height="2.74" fill="#7f9b3b"/>
<rect x="642.87" y="860.75" width="8.9" height="11.77" fill="#efe17f"/>
<rect x="642.87" y="853.09" width="8.9" height="7.68" fill="#5cb2e2"/>
<rect x="642.87" y="847.13" width="8.9" height="5.98" fill="#d25526"/>
<rect x="642.87" y="843.21" width="8.9" height="3.94" fill="#d98f5c"/>
<rect x="642.87" y="840.32" width="8.9" height="2.91" fill="#3b1a50"/>
<rect x="642.87" y="835.21" width="8.9" height="5.13" fill="#6a2a8b"/>
<rect x="642.87" y="833.51" width="8.9" height="1.72" fill="#c1185c"/>
<rect x="642.87" y="829.59" width="8.9" height="3.94" fill="#56635a"/>
<rect x="642.87" y="826.70" width="8.9" height="2.91" fill="#c9952b"/>
<rect x="642.87" y="819.89" width="8.9" height="6.83" fill="#9dcb3c"/>
<rect x="642.87" y="807.97" width="8.9" height="11.94" fill="#4cb648"/>
<rect x="642.87" y="790.95" width="8.9" height="17.04" fill="#3fb8a0"/>
<rect x="642.87" y="761.16" width="8.9" height="29.81" fill="#1a99d5"/>
<rect x="642.87" y="757.75" width="8.9" height="3.42" fill="#4b70c0"/>
<rect x="642.87" y="755.20" width="8.9" height="2.57" fill="#fec20f"/>
<rect x="642.87" y="750.09" width="8.9" height="5.13" fill="#a01f23"/>
<rect x="642.87" y="739.02" width="8.9" height="11.09" fill="#7f9b3b"/>
<rect x="652.62" y="868.41" width="8.9" height="4.11" fill="#d23a31"/>
<rect x="652.62" y="863.30" width="8.9" height="5.13" fill="#c0623a"/>
<rect x="652.62" y="860.75" width="8.9" height="2.57" fill="#6cc46a"/>
<rect x="652.62" y="854.79" width="8.9" height="5.98" fill="#da93aa"/>
<rect x="652.62" y="852.75" width="8.9" height="2.06" fill="#7f7289"/>
<rect x="652.62" y="847.64" width="8.9" height="5.13" fill="#d25526"/>
<rect x="652.62" y="846.28" width="8.9" height="1.38" fill="#d98f5c"/>
<rect x="652.62" y="843.21" width="8.9" height="3.08" fill="#3b1a50"/>
<rect x="652.62" y="838.62" width="8.9" height="4.62" fill="#6a2a8b"/>
<rect x="652.62" y="836.06" width="8.9" height="2.57" fill="#c1185c"/>
<rect x="652.62" y="831.81" width="8.9" height="4.28" fill="#56635a"/>
<rect x="652.62" y="825.85" width="8.9" height="5.98" fill="#9dcb3c"/>
<rect x="652.62" y="819.89" width="8.9" height="5.98" fill="#4cb648"/>
<rect x="652.62" y="809.67" width="8.9" height="10.23" fill="#3fb8a0"/>
<rect x="652.62" y="783.29" width="8.9" height="26.41" fill="#1a99d5"/>
<rect x="652.62" y="779.88" width="8.9" height="3.42" fill="#4b70c0"/>
<rect x="652.62" y="776.82" width="8.9" height="3.08" fill="#fec20f"/>
<rect x="652.62" y="772.22" width="8.9" height="4.62" fill="#a01f23"/>
<rect x="652.62" y="769.33" width="8.9" height="2.91" fill="#7f9b3b"/>
<rect x="662.38" y="862.96" width="8.9" height="9.56" fill="#5560b0"/>
<rect x="662.38" y="859.04" width="8.9" height="3.94" fill="#efe17f"/>
<rect x="662.38" y="854.79" width="8.9" height="4.28" fill="#5cb2e2"/>
<rect x="662.38" y="842.02" width="8.9" height="12.79" fill="#d25526"/>
<rect x="662.38" y="838.62" width="8.9" height="3.42" fill="#d98f5c"/>
<rect x="662.38" y="836.06" width="8.9" height="2.57" fill="#3b1a50"/>
<rect x="662.38" y="834.36" width="8.9" height="1.72" fill="#6a2a8b"/>
<rect x="662.38" y="830.10" width="8.9" height="4.28" fill="#56635a"/>
<rect x="662.38" y="826.70" width="8.9" height="3.42" fill="#c9952b"/>
<rect x="662.38" y="824.15" width="8.9" height="2.57" fill="#9dcb3c"/>
<rect x="662.38" y="816.48" width="8.9" height="7.68" fill="#3fb8a0"/>
<rect x="662.38" y="812.23" width="8.9" height="4.28" fill="#4b70c0"/>
<rect x="662.38" y="809.67" width="8.9" height="2.57" fill="#fec20f"/>
<rect x="662.38" y="805.08" width="8.9" height="4.62" fill="#a01f23"/>
<rect x="662.38" y="798.27" width="8.9" height="6.83" fill="#7f9b3b"/>
<line x1="27.5" y1="574.4" x2="27.5" y2="886.5" stroke="#808080" stroke-width="0.9"/>
<line x1="25.6" y1="872.50" x2="27.5" y2="872.50" stroke="#333" stroke-width="0.9"/>
<text x="21.8" y="875.10" font-size="7.5" text-anchor="end" fill="#555">0</text>
<line x1="25.6" y1="805.84" x2="27.5" y2="805.84" stroke="#333" stroke-width="0.9"/>
<text x="21.8" y="808.44" font-size="7.5" text-anchor="end" fill="#555">20</text>
<line x1="25.6" y1="739.18" x2="27.5" y2="739.18" stroke="#333" stroke-width="0.9"/>
<text x="21.8" y="741.78" font-size="7.5" text-anchor="end" fill="#555">40</text>
<line x1="25.6" y1="672.52" x2="27.5" y2="672.52" stroke="#333" stroke-width="0.9"/>
<text x="21.8" y="675.12" font-size="7.5" text-anchor="end" fill="#555">60</text>
<line x1="25.6" y1="605.86" x2="27.5" y2="605.86" stroke="#333" stroke-width="0.9"/>
<text x="21.8" y="608.46" font-size="7.5" text-anchor="end" fill="#555">80</text>
<text x="0" y="0" font-size="7.1" text-anchor="middle" fill="#1a1a1a" transform="translate(6.2 721.8) rotate(-90)">Realtive abundance</text>
<path d="M27.5,886.3H671.7V872.8M213.4,872.8V886.3M437.8,872.8V886.3M594.0,872.8V886.3" fill="none" stroke="#9a9a9a" stroke-width="1.1"/>
<text x="108.3" y="882.7" font-size="7.7" font-weight="bold" text-anchor="middle" fill="#333">T1</text>
<text x="328.9" y="882.7" font-size="7.7" font-weight="bold" text-anchor="middle" fill="#333">T2</text>
<text x="523.3" y="882.7" font-size="7.7" font-weight="bold" text-anchor="middle" fill="#333">T3</text>
<text x="638.2" y="882.7" font-size="7.7" font-weight="bold" text-anchor="middle" fill="#333">Follow-up</text>
</svg></body></html>
